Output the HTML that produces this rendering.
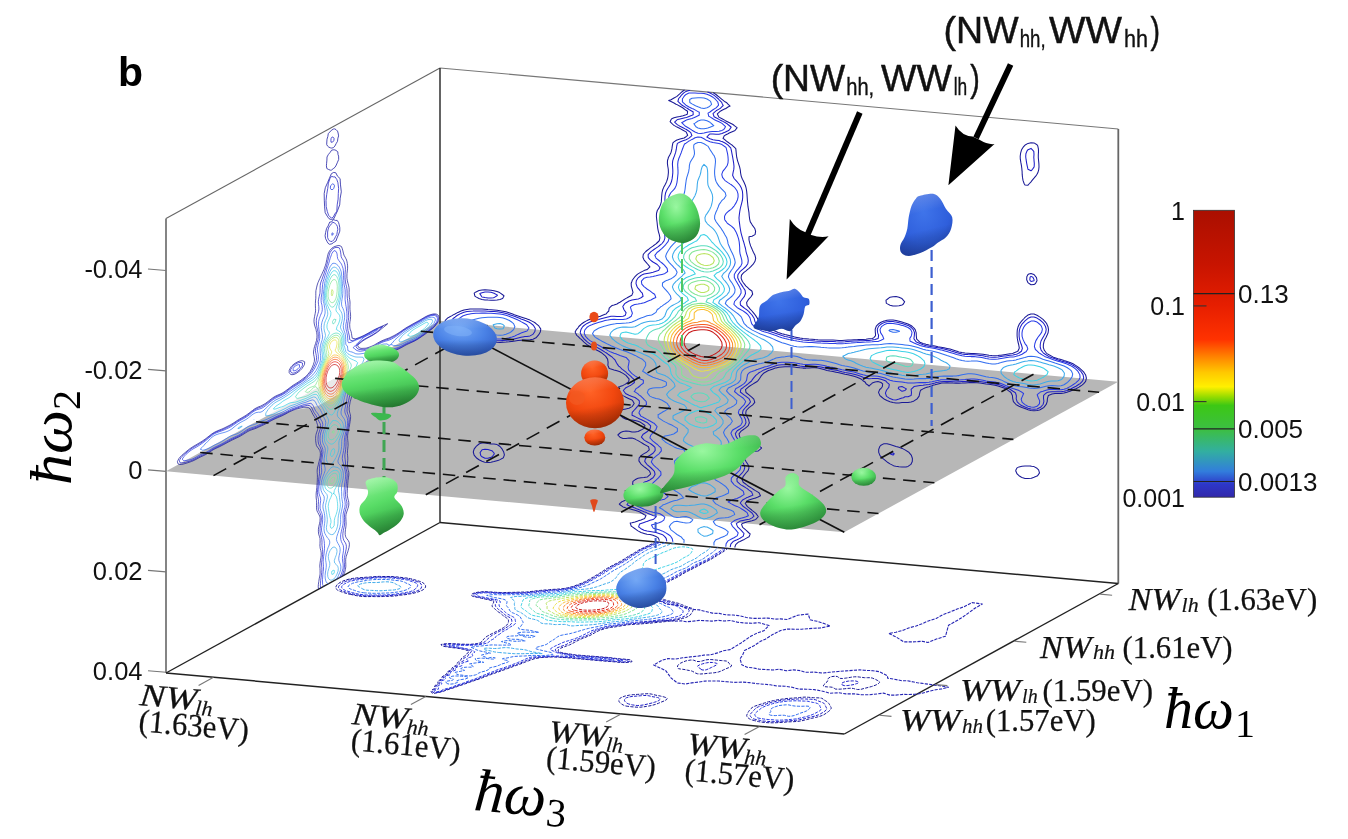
<!DOCTYPE html>
<html lang="en"><head><meta charset="utf-8"><title>Figure b</title>
<style>html,body{margin:0;padding:0;background:#fff}svg{display:block}.sans{font-family:"Liberation Sans",sans-serif}.ser{font-family:"Liberation Serif",serif}.it{font-style:italic}</style></head><body>
<svg width="1348" height="839" viewBox="0 0 1348 839">
<rect width="1348" height="839" fill="#fff"/>
<defs>
<radialGradient id="gR" cx="0.42" cy="0.28" r="0.8"><stop offset="0" stop-color="#ff6226"/><stop offset="0.5" stop-color="#f2480f"/><stop offset="0.78" stop-color="#d63b08"/><stop offset="1" stop-color="#b43005"/></radialGradient>
<radialGradient id="gG" cx="0.42" cy="0.28" r="0.8"><stop offset="0" stop-color="#98f79f"/><stop offset="0.45" stop-color="#5ade68"/><stop offset="1" stop-color="#31a442"/></radialGradient>
<radialGradient id="gB" cx="0.4" cy="0.3" r="0.8"><stop offset="0" stop-color="#74a8f5"/><stop offset="0.5" stop-color="#4a82e6"/><stop offset="1" stop-color="#2c58c4"/></radialGradient>
<radialGradient id="gB2" cx="0.45" cy="0.3" r="0.8"><stop offset="0" stop-color="#3f74ea"/><stop offset="0.6" stop-color="#2f5fdc"/><stop offset="1" stop-color="#2448b8"/></radialGradient>
<linearGradient id="gG2" x1="0.3" y1="0" x2="0.6" y2="1"><stop offset="0" stop-color="#8cf394"/><stop offset="0.45" stop-color="#58dc66"/><stop offset="0.8" stop-color="#3cb64c"/><stop offset="1" stop-color="#2e9a3d"/></linearGradient>
<linearGradient id="shade" x1="0.35" y1="0" x2="0.55" y2="1"><stop offset="0" stop-color="#fff" stop-opacity="0.22"/><stop offset="0.3" stop-color="#fff" stop-opacity="0"/><stop offset="0.58" stop-color="#000" stop-opacity="0"/><stop offset="0.72" stop-color="#000" stop-opacity="0.10"/><stop offset="1" stop-color="#000" stop-opacity="0.22"/></linearGradient>
<linearGradient id="cb" x1="0" y1="1" x2="0" y2="0">
<stop offset="0.000" stop-color="#3228aa"/>
<stop offset="0.045" stop-color="#2d37c8"/>
<stop offset="0.090" stop-color="#327ddc"/>
<stop offset="0.160" stop-color="#32afa0"/>
<stop offset="0.233" stop-color="#3cbe46"/>
<stop offset="0.320" stop-color="#3cc814"/>
<stop offset="0.350" stop-color="#96dc00"/>
<stop offset="0.385" stop-color="#fff000"/>
<stop offset="0.435" stop-color="#ffc800"/>
<stop offset="0.490" stop-color="#ff8200"/>
<stop offset="0.550" stop-color="#ff3200"/>
<stop offset="0.670" stop-color="#e61e00"/>
<stop offset="0.810" stop-color="#c81400"/>
<stop offset="1.000" stop-color="#aa0f00"/>
</linearGradient></defs>
<line x1="166" y1="218.5" x2="440" y2="68" stroke="#666" stroke-width="1.1"/>
<line x1="440" y1="68" x2="1118.3" y2="129" stroke="#777" stroke-width="1.1"/>
<line x1="166" y1="218.5" x2="166" y2="673" stroke="#666" stroke-width="1.6"/>
<line x1="1118.3" y1="129" x2="1118.3" y2="583.5" stroke="#666" stroke-width="1.8"/>
<line x1="166" y1="673" x2="440" y2="522.5" stroke="#222" stroke-width="1.4"/>
<line x1="440" y1="522.5" x2="1118.3" y2="583.5" stroke="#222" stroke-width="1.5"/>
<line x1="166" y1="673" x2="844.3" y2="734" stroke="#222" stroke-width="1.5"/>
<line x1="844.3" y1="734" x2="1118.3" y2="583.5" stroke="#222" stroke-width="1.4"/>

<path d="M166 471.3 L440 320.8 L1118.3 381.8 L844.3 532.3 Z" fill="#b7b7b7"/>
<path d="M268 415 L333 379.6 L341 375.5 L339 394 L318 406 L290 411 Z" fill="#fff" opacity="0.7"/>
<path d="M713.1 92.6 L716 94.5 L717.8 96 L719 96.9 L721.9 99.4 L722 99.4 L725 101.8 L726.8 102.8 L728 104.2 L730.1 106.1 L728 107 L725.5 108.7 L725 108.8 L722 110.3 L720.3 111.2 L719 112.3 L717.3 113.9 L718.9 117.1 L719 117.1 L722 118.7 L725 120.4 L725.4 120.7 L728 122 L731 123.5 L732.6 124.3 L734 125.3 L737 127.6 L737.1 127.7 L737 127.9 L735 130.5 L734 130.9 L731 132.2 L729.2 133 L728 133.7 L725 135.3 L724.4 135.6 L723 138.4 L725 139.8 L727.3 141.8 L728 142.3 L731 144.4 L732.3 145.3 L734 146.9 L735.8 148.6 L736.1 151.6 L736.4 154.7 L736.8 157.7 L737 158.4 L737.6 160.8 L738.6 163.9 L739.6 166.9 L740 168.7 L740.3 170 L740.6 173 L741.2 176.1 L742.4 179.2 L743 180.3 L744 182.3 L745.4 185.5 L746 187.6 L746.2 188.5 L746.7 191.6 L747 194.6 L747.2 197.6 L747.4 200.6 L747.7 203.7 L748 206.7 L748.5 209.7 L749 212.8 L749 213.1 L749.2 215.8 L749.6 218.8 L750.3 221.9 L752 224.5 L752.3 225.1 L754.6 228.3 L755 229.1 L755.6 231.4 L755.1 234.3 L755 234.6 L752 236.2 L749 236.7 L749 236.8 L749 239.8 L749 240 L749.7 242.9 L750.6 245.9 L752 249 L752 249.1 L753.4 252.2 L755 255.3 L755 255.4 L755.7 258.4 L755 261.3 L755 261.3 L753.2 264.2 L752 265.3 L750.6 266.9 L749 268.3 L747.4 269.6 L746 270.8 L744 272.3 L743 273.3 L741.5 275.1 L741.1 278.1 L742.3 281.2 L743 282.3 L744.6 284.4 L746 286.1 L747.8 287.7 L749 289 L751.9 291 L752 291.5 L752.7 294.1 L752 295.1 L750.8 297 L749 298.9 L748.3 299.7 L746.6 302.6 L747.1 305.6 L749 307.6 L749.9 308.9 L752 311 L752.9 312.1 L755 314.7 L755.5 315.4 L757.6 318.6 L758 319.8 L758.8 321.7 L760.4 324.8 L761 325.3 L764 327.3 L766 328.3 L767 328.6 L770 329.4 L773 330.3 L776 331.5 L778.1 332.4 L779 332.7 L782 333.7 L785 334.6 L788 335.3 L791 336.1 L794 336.8 L794.5 336.9 L797 337.4 L800 338 L803 338.5 L806 338.8 L809 339.1 L812 339.3 L815 339.6 L818 339.8 L821 339.9 L824 340 L827 340 L829.2 340 L830 340 L833 340.1 L836 340.3 L839 340.5 L842 340.5 L845 340.3 L848 340.1 L851 339.9 L854 339.7 L857 339.7 L858.4 339.6 L860 339.6 L863 339.4 L866 339.2 L869 338.8 L872 338.4 L873.5 338 L875 336.4 L875.6 335.2 L875.3 332.1 L875.2 329.1 L876.3 326.2 L878 324.4 L879 323.5 L881 322.3 L884 321.1 L884.5 321 L887 320.2 L890 319.9 L893 320 L896 320.5 L899 321.2 L902 322.1 L904 322.7 L905 323 L908 324 L911 325.5 L912.3 326.5 L914 328.2 L915.2 329.7 L916.2 332.8 L916.3 335.8 L916.6 338.9 L917 339.4 L919.8 342.1 L920 342.2 L923 343.4 L926 344.3 L929 345 L932 345.6 L935 346.1 L938 346.7 L939.2 346.9 L941 347.2 L944 347.7 L947 348.4 L950 349.1 L953 350 L956 351 L957.9 351.6 L959 351.9 L962 352.5 L965 353 L968 353.2 L971 353.4 L974 353.5 L977 353.7 L980 353.9 L983 354.3 L986 354.7 L989 355.2 L992 355.5 L995 355.7 L998 355.6 L999.8 355.3 L1001 355.2 L1004 354.7 L1007 354.2 L1010 353.8 L1012.4 353.5 L1013 353.3 L1016 352.1 L1018 351 L1019 348.8 L1019.3 348.1 L1019 346.3 L1018.8 345.1 L1018 342 L1017.4 338.9 L1017.1 335.9 L1017.1 332.9 L1017.3 329.9 L1018 327 L1019 324.7 L1019.3 324.1 L1021.4 321.3 L1022 320.6 L1024 318.5 L1025 317.4 L1026.9 315.8 L1028 315 L1031 313.9 L1034 314.1 L1037 315.3 L1039.6 316.9 L1040 317.1 L1043 319.4 L1043.9 320.3 L1046 322.7 L1046.6 323.5 L1048 326.7 L1048.5 329.7 L1048.1 332.7 L1046.9 335.6 L1046 337.4 L1045.4 338.4 L1044.1 341.3 L1043.4 344.3 L1043.3 347.3 L1044.3 350.3 L1046 352.5 L1047 353.6 L1049 354.8 L1052 356.4 L1053.4 357.2 L1055 357.7 L1058 358.7 L1061 359.6 L1064 360.6 L1066.4 361.3 L1067 361.5 L1070 362.5 L1073 363.8 L1075.2 365.1 L1076 365.6 L1079 367.7 L1080.1 368.6 L1082 370.3 L1083.6 371.9 L1085 374 L1085.7 375.1 L1086.4 378.1 L1085.7 381.1 L1085 382.1 L1083.5 383.9 L1082 385.1 L1079.9 386.5 L1079 387.1 L1076 388.7 L1075.1 389.1 L1073 390 L1070 391.2 L1068.9 391.6 L1067 392.2 L1064 393 L1061 393.4 L1058 393.5 L1056.7 393.5 L1055 393.5 L1052 394 L1049 395.2 L1048.3 395.7 L1047.4 398.6 L1047.2 401.6 L1046.2 404.5 L1046 404.7 L1043.9 407.3 L1043 408 L1040 409.7 L1039.4 409.9 L1037 410.5 L1034 410.7 L1031 410.4 L1028 409.7 L1025 408.6 L1024.9 408.6 L1022 407.5 L1019 406.2 L1016.3 404.8 L1016 404.5 L1013.4 401.6 L1013 399.9 L1012.7 398.5 L1012.4 395.5 L1010.8 392.3 L1010 391.8 L1007 389.6 L1005.9 388.9 L1004 388.1 L1001 386.9 L998 385.9 L995 385.3 L992 384.8 L990.4 384.5 L989 384.3 L986 383.9 L983 383.4 L980 383 L977 382.8 L974 382.6 L971 382.6 L969.4 382.6 L968 382.7 L965 382.9 L962 383.1 L959 383.2 L956 383.2 L953 383.1 L950 382.9 L947 382.8 L944 382.9 L941.6 383.1 L941 383.2 L938 384 L935 384.8 L932.9 385.3 L932 385.7 L929 386.8 L926 387.6 L925.4 387.7 L923 388.9 L920.6 390.2 L920 391.9 L919.7 393.1 L919.1 396.1 L917.1 398.9 L917 399 L914 400.9 L912.7 401.5 L911 402 L908 402.4 L905 402.5 L902 402.6 L899 402.9 L896 402.9 L893 402.5 L890 401.7 L887 400.5 L884 399 L883.8 398.9 L881 396.5 L879.9 395.6 L878.5 392.4 L879.7 389.5 L881 388.5 L882.3 386.8 L882.7 383.8 L881 382.5 L878 381.6 L875 382 L872.2 382.9 L872 383.3 L869.4 385.6 L869 386.1 L868.6 385.5 L866 383.8 L865.3 382.3 L863 380.7 L860.9 378.9 L860 378.5 L857 377.2 L854 376.2 L851 375.4 L848 374.7 L847.8 374.7 L845 374.2 L842 373.5 L839 372.8 L836 372.2 L833 371.6 L830 371.1 L827 370.5 L824 369.6 L823.8 369.5 L821 368.7 L818 368.1 L815 367.8 L812 367.8 L809 367.9 L807.1 368 L806 368.1 L803 368.1 L800 367.8 L797 367.4 L794 367 L791 366.8 L788 366.7 L785 366.7 L782 366.9 L779 367.3 L776 367.9 L775.2 368.1 L773 368.9 L770 370 L768.4 370.5 L767 371.3 L764 373 L763.7 373.1 L761.2 375.9 L761 376.2 L759.4 378.7 L758 380.6 L757.2 381.5 L755 382.8 L752.8 384.1 L752 384.6 L749 386.5 L748.6 386.8 L746 389.1 L745.5 389.5 L746 392.5 L746 392.5 L749 394.9 L750.2 395.9 L752 397.4 L753.8 399.2 L754.8 402.3 L752.5 405.1 L752 405.4 L749 407.6 L748.8 407.8 L746.2 410.5 L746 411.6 L745.7 413.5 L746 414.3 L747 416.6 L748.7 419.8 L749 421.4 L749.4 422.8 L749 423.7 L748.3 425.7 L746 427.6 L745 428.4 L743 429.8 L741.1 431.1 L740 432.5 L739 433.9 L739.8 437 L740 437.3 L742.3 440.2 L743 440.9 L746 442.8 L749 443.6 L752 443.9 L755 444.3 L755.2 444.3 L758 445.4 L761 447.4 L761.6 447.9 L761 448.6 L758.6 450.7 L758 450.9 L755 451.3 L752 451.2 L749 451 L746 451.7 L745.1 452.4 L743.2 455.3 L744.2 458.4 L746 461.5 L746 461.5 L748.1 464.7 L749 467.8 L748.1 470.7 L746 473 L745.6 473.5 L743.3 476.3 L743 477 L742 479.2 L743 481.8 L743.2 482.3 L746 484.3 L747.8 485.7 L749 486.5 L752 488.4 L753.2 489.2 L755 490.4 L758 492.1 L759 492.7 L760.5 495.8 L758 497 L755 498.2 L754.6 498.3 L752 499 L749 500 L747.5 500.7 L746 502.4 L745.2 503.5 L746 504.5 L747.4 506.6 L749 507.8 L751.7 510 L752 510.3 L755 512.7 L755.9 513.4 L758 516.3 L758.3 516.6 L758 517 L755.8 519.4 L755 519.8 L752 520.8 L749 521.4 L747.6 521.7 L746 522.2 L743 523.3 L741.5 524.1 L742.6 527.2 L743 527.6 L746 530.2 L746.5 530.6 L749 533 L750.2 533.9 L749.1 536.8 L749 536.8 L746 538.4 L744.3 539.4 L743 540 L740 541.4 L738.7 541.9 L737 543.4 L735.7 544.6 L734.7 547.5 M1025.6 144.7 L1028 143.4 L1031 142.7 L1034 142.9 L1037 144.7 L1037.7 145.7 L1038.4 148.8 L1038.5 151.8 L1038.3 154.8 L1038.3 157.8 L1038.6 160.8 L1038.9 163.9 L1039 166.9 L1038.7 169.8 L1037.8 172.8 L1037 174.3 L1036.1 175.6 L1034 178.2 L1033.8 178.4 L1031.5 181.2 L1031 181.9 L1029 184 L1028 185.2 L1025 185 L1024.1 183.5 L1023 180.4 L1022.5 177.4 L1022.2 174.4 L1022.1 171.3 L1022 170.6 L1021.8 168.3 L1021.4 165.3 L1020.8 162.2 L1020.3 159.2 L1020.2 156.2 L1020.6 153.2 L1021.4 150.3 L1022 149.1 L1023 147.4 L1025 145.1 Z M1028.9 274 L1031 273.4 L1033.9 274.4 L1034 274.5 L1036.5 277.6 L1037 280.5 L1037 280.7 L1037 280.8 L1035.5 283.5 L1034 284.6 L1031 284.8 L1028.2 282.9 L1028 282.7 L1026.7 279.8 L1026.8 276.8 L1028 274.5 Z M889.7 297.4 L890 297.3 L893 296.7 L896 296.6 L899 297.3 L901.9 298.5 L902 298.6 L904.7 301.8 L902.9 304.6 L902 305 L899 305.8 L896 306.1 L893 306 L890 305.2 L887 303.6 L886.3 303.1 L886 300.1 L887 299.5 Z M479 290.5 L479 290.5 L482 290.1 L485 289.8 L488 289.9 L491 290.2 L494 290.7 L497 291.6 L499 292.3 L500 292.9 L503 295 L504.1 295.8 L503 297.8 L502.5 298.6 L500 299.4 L497 300 L494 300.2 L491 300.2 L488 300.1 L485 299.9 L482 299.4 L479 298.5 L476 296.9 L474.9 296.1 L474.2 293.1 L476 291.9 Z M463.9 310.1 L464 310.1 L467 309.5 L470 309.1 L473 309 L476 308.9 L479 309 L482 309.1 L485 309.3 L488 309.6 L491 309.8 L494 310 L497 310.3 L500 310.7 L503 311.2 L506 311.8 L509 312.7 L512 313.8 L514.4 314.7 L515 314.9 L518 315.9 L521 316.9 L524 317.9 L526.7 318.8 L527 318.9 L530 320.1 L533 321.6 L534.7 322.5 L536 323.6 L538.8 325.9 L539 326.3 L540.8 329.1 L540.3 332 L539 334.2 L538.6 334.9 L536.2 337.7 L536 337.8 L533 339.3 L530 339.8 L527.4 339.9 L527 339.9 L524 339.9 L521 340.2 L518 340.6 L515 341 L512 341.4 L511.4 341.4 L509 341.7 L506 342 L503 342.2 L500 342.4 L497 342.3 L494 342.1 L491 341.9 L488 341.6 L485 341.2 L482 340.7 L479 339.9 L476 339.1 L473 338.1 L472.3 337.9 L470 337.2 L467 336.3 L464 335.4 L461 334.6 L458 333.8 L457 333.5 L455 332.9 L452 331.7 L449 329.9 L448.9 329.8 L446 326.5 L446 326.5 L444.8 323.4 L445.2 320.5 L446 319.6 L448.1 317.7 L449 317.3 L452 315.6 L452.7 315.1 L455 314 L457.5 312.6 L458 312.4 L461 311.1 Z M883.4 443.9 L884 443.7 L887 443.8 L890 444.5 L890 444.5 L893 445.4 L896 446.4 L899 447.3 L902 448.4 L902.6 448.6 L905 449.9 L908 451.7 L908.7 452.1 L911 454.8 L911.4 455.4 L912.4 458.5 L912.3 461.5 L911 464.2 L910.9 464.4 L908 466.4 L906 466.9 L905 467.1 L902 467 L899 466.7 L896 466.3 L894.4 465.9 L893 465.4 L890 463.9 L887.5 462.2 L887 461.9 L884 459.4 L883.3 458.9 L881 456.6 L880 455.6 L878.7 452.4 L878.7 449.4 L879.8 446.5 L881 445.2 Z M1030.5 466.1 L1031 466.1 L1031.5 466.2 L1034 466.6 L1037 468.3 L1038.6 469.8 L1039.5 472.9 L1037.6 475.7 L1037 476.1 L1034 477.3 L1031.5 478.2 L1031 478.3 L1028 478.6 L1025 478.4 L1022 477.5 L1021.5 477.3 L1019 475.7 L1017.1 473.9 L1016 471.6 L1015.7 470.8 L1016 469.8 L1017 467.9 L1019 466.9 L1022 466.3 L1025 466.1 L1028 466 Z M480 443.6 L482 443 L485 443.1 L488 443.6 L491 444 L494 444.1 L497 444.6 L498.2 445.2 L500 446.5 L501.8 448.6 L503 450.7 L503.6 451.7 L504.4 454.8 L503.4 457.7 L503 458 L500 459.6 L498.6 460.3 L497 460.7 L494 461.6 L491 462.3 L489.2 462.4 L488 462.5 L485 462.2 L484.1 462 L482 461.3 L479 459.8 L476.9 458.3 L476 457.3 L474.1 455.1 L473.3 452 L474.1 449.1 L476 446.6 L476.2 446.3 L479 444 Z M659.4 540.7 L659 539.6 L658 537.6 L656 536.5 L653 535.3 L650 534.6 L647 534.3 L644 533.6 L643.5 533.3 L641 532.5 L638 530.9 L636.2 529.6 L635 528.7 L632 526.6 L631.3 526.2 L630.2 523.1 L632 522.7 L635 521.9 L638 520.9 L638.3 520.8 L641 519.9 L644 518.7 L644.7 518.4 L646 515.5 L644 514.5 L641 512.7 L639.9 512 L638 511.3 L635 510.2 L632 509.4 L629 508.6 L626 507.9 L624.9 507.6 L623 506.9 L620 504.8 L619.3 504.1 L620 503.4 L622.3 501.4 L623 501.2 L626 500.1 L629 499.1 L629.2 499 L632 498 L635 497.3 L638 497.1 L641 497.1 L641.4 497.1 L644 497 L647 496.5 L650 495.6 L651.3 495 L650 493.7 L647.9 491.7 L647 491.3 L644 490.1 L641 489 L638.1 487.8 L638 487.8 L635 486 L632.6 484.3 L632.9 481.4 L635 479.8 L636.9 478.7 L638 478.3 L641 477.8 L644 477.5 L647 477 L647.7 476.7 L650 474.7 L650.6 473.9 L650 472.2 L649.4 470.8 L647 468.9 L645.2 467.5 L644 466.6 L641 464.1 L641 464 L638.9 460.9 L639.2 457.9 L641 455.8 L641.7 455.1 L644 453.6 L646.1 452.5 L647 451.8 L649.3 449.8 L648.6 446.8 L647 445.9 L644 444.2 L642.4 443.2 L641 442.4 L638 440.6 L636 439.6 L635 438.9 L632 438.1 L629 438.1 L626 438.5 L623.3 438.5 L623 438.5 L622.9 438.4 L620 437.2 L617.8 435 L620 433 L621.1 432.3 L623 431.6 L626 431.1 L629 431.3 L632 431.9 L635 432 L638 431.4 L639.1 430.9 L641 430.1 L644 428.4 L644.1 428.4 L645 425.4 L644 424.7 L641 422.6 L640 422 L638 421.3 L635 420.5 L632 420 L629 419.8 L626 419.2 L623 417.8 L622.5 417.4 L620 415 L619.1 414.1 L619.7 411.2 L620 411 L623 409.5 L626 408.9 L626.5 408.8 L629 408.2 L632 406.6 L632.4 406.3 L634.2 403.5 L632.4 400.3 L632 400.1 L629 398.7 L626 397.3 L624.9 396.6 L623 395.6 L620 393.8 L618.6 393.1 L617 391.4 L614.8 389.7 L617 388.3 L618.5 387.1 L620 386.6 L623 385.4 L624.6 384.6 L626 383.8 L628.6 382 L629 380 L629.1 379 L629 378.8 L626.4 375.8 L626 375.4 L623 373.4 L620.9 372.3 L620 371.8 L617 370.8 L614 370 L611 369.1 L609.1 368.2 L608 365.5 L607.9 365.1 L608 363.6 L608.1 362.1 L608 361.6 L607.6 359.1 L605.4 355.9 L605 355.6 L602 353.1 L601.1 352.5 L599 351.3 L596 349.7 L594.5 348.9 L593 348.2 L590 346.7 L587.9 345.3 L587 344.7 L584 342.1 L583.8 341.9 L581 339.2 L580.2 338.6 L578 336.3 L576.7 335.3 L575.1 332.1 L576.6 329.3 L578 327.8 L578.8 326.5 L581 324.5 L581.8 323.7 L584 322.2 L586 321.1 L587 320.6 L590 319.3 L592 318.7 L593 318.3 L596 317.3 L599 316.6 L599.9 316.4 L602 315.5 L605 314.3 L606.1 313.9 L608 311.7 L608.7 311.2 L609.2 308.2 L611 306.4 L612.1 305.5 L614 305 L617 304 L618.4 303 L620 302.3 L622.8 300.4 L623 300.3 L626 298.4 L627.2 297.8 L629 296.7 L631.8 295.2 L632 294.8 L633 292.4 L632.2 289.3 L632 288.6 L631.3 286.2 L631.2 283.2 L632 281.2 L632.3 280.3 L634.3 277.5 L635 276.7 L637 274.7 L638 273.9 L641 272.1 L641.1 272.1 L644 270.6 L647 269.6 L647.1 269.6 L649.9 266.9 L647.4 263.7 L647 263.3 L644.4 260.4 L644 259.7 L642.9 257.2 L643.3 254.3 L644 253.5 L645.8 251.5 L647 250.5 L649.2 248.8 L650 248.2 L652.9 246.1 L653 246 L656 243.8 L656.4 243.5 L659 241 L659.3 240.7 L659.9 237.8 L659.3 234.7 L659 233.6 L658.4 231.6 L657.8 228.6 L657.4 225.6 L657.1 222.5 L656.7 219.5 L656.4 216.5 L656.5 213.5 L657.3 210.5 L659 207.9 L659.1 207.7 L660.5 204.8 L661.3 201.9 L661.5 198.9 L661.7 195.9 L662 193 L662 192.9 L662.6 190 L663.8 187.1 L665 184.9 L665.4 184.3 L666.7 181.4 L667.6 178.5 L668 176.3 L668.1 175.5 L668.4 172.5 L668.3 169.5 L668 167.5 L667.8 166.5 L667.4 163.4 L667.5 160.5 L668 159 L668.4 157.5 L669.9 154.7 L671 152.4 L671.2 151.8 L671.9 148.9 L672.3 145.9 L672.9 142.9 L674 141.9 L676.4 140.3 L677 140 L680 139.1 L683 138.3 L684.1 138 L686 136.7 L687.7 135.3 L686.3 132.2 L686 131.9 L683 130.2 L680.2 128.6 L680 128.5 L677 127.1 L674 125.4 L673.4 125 L671 122.6 L670.1 121.7 L671 119.8 L671.7 118.8 L674 117.8 L677 117 L679.7 116.6 L680 116.5 L683 115.7 L686 114.7 L687.3 114.2 L687.6 111.3 L686 110.3 L683 108 L682.7 107.8 L680 106.3 L677 104.6 L676 104.2 L674 103 L671 101.6 L668.7 100.6 L671 99.7 L674 98 L674 98 L677 96.4 L678 95.4 L680 93.7 L681 92.7 L683 91 L684.5 90" fill="none" stroke="#191996" stroke-width="1.05" stroke-linejoin="round"/>
<path d="M707.5 92.1 L710 93 L713 94.6 L714.5 95.7 L716 96.8 L718.5 99 L719 99.6 L721.7 102.3 L722 103.2 L723.2 105.5 L722 106.6 L720.5 108.2 L719 109.1 L716.1 110.8 L716 110.9 L713 113.6 L714.1 116.7 L716 117.7 L719 119.4 L720.5 120.2 L722 120.9 L725 122.5 L727.2 123.8 L728 124.5 L731 127 L731.2 127.2 L731 127.4 L729.3 130 L728 130.7 L725 132.2 L724.2 132.6 L722 133.6 L719 134.2 L716 134.2 L713 134 L710 134.1 L709.5 134.2 L707 136.8 L706.8 137 L707 137.1 L710 138.7 L713 139.8 L716 140.2 L719 140.6 L720.8 141.3 L722 141.5 L725 143 L727.8 144.9 L728 145.1 L730.9 148.2 L731 148.9 L731.5 151.2 L732.1 154.3 L732.7 157.3 L733.2 160.4 L733.7 163.4 L734 166.4 L733.8 169.4 L733.1 172.4 L732.6 175.3 L734 178.2 L734.1 178.5 L737 181.6 L737.1 181.7 L739.7 185 L740 185.4 L741.4 188.1 L742.4 191.2 L742.7 194.2 L742.7 197.2 L742.4 200.2 L741.7 203.1 L740.9 206.1 L740.2 209 L740 210.2 L739.7 212 L739.3 214.9 L739 217.9 L739.2 220.9 L739.6 223.9 L740 227 L740 227 L740.5 230 L741.1 233.1 L741.9 236.1 L742.8 239.2 L743 240 L743.8 242.3 L744.6 245.4 L745.5 248.5 L746 251.5 L746 251.6 L746.9 254.6 L747.9 257.7 L748.3 260.7 L747.8 263.7 L746 266.4 L745.9 266.5 L743 269.1 L742.9 269.2 L740 271.7 L739.8 272 L737.9 274.8 L737.7 277.8 L739.1 280.9 L740 282.5 L741.1 284.1 L743 287.1 L743.1 287.3 L745.1 290.4 L745.5 293.5 L744.4 296.4 L743 298.2 L742.2 299.2 L740.2 302 L740.4 305 L743 307 L744.7 308.4 L746 309.2 L749 311.7 L749.1 311.8 L752 315 L752.1 315.1 L754.1 318.2 L754.9 321.3 L755 321.6 L756.2 324.4 L758 326.1 L759.9 327.8 L761 328.3 L764 329.5 L767 330.5 L770 331.5 L770.8 331.7 L773 332.4 L776 333.4 L779 334.5 L782 335.6 L782.8 335.8 L785 336.4 L788 337.1 L791 337.7 L794 338.4 L797 339 L800 339.6 L803 340 L806 340.3 L809 340.6 L812 340.7 L815 341 L818 341.2 L821 341.3 L824 341.4 L827 341.4 L830 341.4 L833 341.6 L836 341.8 L839 341.9 L842 341.9 L845 341.8 L847 341.6 L848 341.5 L851 341.2 L854 341 L857 340.9 L860 340.8 L863 340.7 L866 340.6 L868.3 340.5 L869 340.4 L872 340.1 L875 339.5 L878 338.5 L878.2 338.4 L878.6 335.4 L878 333.7 L877.6 332.4 L877.3 329.3 L878 327.6 L878.5 326.4 L881 324.2 L881.7 323.7 L884 322.6 L887 321.8 L890 321.5 L890.3 321.5 L893 321.6 L895 321.9 L896 322.1 L899 322.8 L902 323.5 L905 324.4 L908 325.4 L909.5 326.2 L911 327.2 L913.3 329.6 L914 331.4 L914.5 332.7 L914.3 335.7 L914 338 L913.9 338.6 L914 338.9 L916 341.8 L917 342.3 L920 343.6 L923 344.8 L926 345.7 L926.1 345.7 L929 346.3 L932 346.8 L935 347.3 L938 347.8 L941 348.3 L944 349 L947 349.7 L950 350.6 L951.1 351 L953 351.5 L956 352.4 L959 353.3 L962 353.9 L965 354.4 L968 354.6 L971 354.7 L974 354.8 L977 355 L980 355.4 L983 355.8 L986 356.4 L989 356.9 L992 357.2 L995 357.3 L998 357.1 L1001 356.6 L1004 356.1 L1005.9 355.9 L1007 355.7 L1010 355.3 L1013 354.9 L1016 354.3 L1017.3 353.9 L1019 353 L1021.4 351.3 L1022 349.5 L1022.4 348.4 L1022 347 L1021.6 345.3 L1020.4 342.2 L1019.5 339.1 L1019.1 336.1 L1019.1 333.1 L1019.4 330.1 L1020.3 327.2 L1021.9 324.3 L1022 324.2 L1024.4 321.6 L1025 320.9 L1027.4 318.8 L1028 318.3 L1031 316.9 L1034 316.9 L1037 318.1 L1040 320 L1040 320 L1043 322.6 L1043.6 323.3 L1045.5 326.5 L1046 328.5 L1046.2 329.5 L1046 330.7 L1045.7 332.5 L1044.2 335.3 L1043 337.4 L1042.5 338.2 L1041 341 L1040.3 344 L1040.2 347 L1041.1 350.1 L1043 352.5 L1043.7 353.3 L1046 354.8 L1049 356.6 L1049.4 356.8 L1052 357.8 L1055 358.8 L1058 359.9 L1060.8 360.8 L1061 360.9 L1064 361.7 L1067 362.6 L1070 363.7 L1072.3 364.9 L1073 365.2 L1076 367.1 L1077.6 368.3 L1079 369.6 L1081.1 371.7 L1082 373.1 L1083.1 374.8 L1083.7 377.9 L1082.7 380.8 L1082 381.7 L1080.1 383.6 L1079 384.3 L1076 386.2 L1076 386.2 L1073 387.8 L1071.1 388.8 L1070 389.2 L1067 390.4 L1064.4 391.2 L1064 391.3 L1061 391.8 L1058 391.8 L1055 391.7 L1052 391.7 L1049 392 L1046.9 392.6 L1046 393.2 L1043.6 395.3 L1043.5 398.3 L1043.9 401.3 L1043.2 404.2 L1043 404.5 L1040.9 407 L1040 407.6 L1037 408.9 L1034 409.3 L1031 409 L1028 408.2 L1025 407.1 L1022 405.7 L1021.1 405.3 L1019 403.6 L1017.2 401.9 L1016.2 398.8 L1016.4 395.8 L1016 394.5 L1015.4 392.7 L1013 391.3 L1010 389.3 L1009.9 389.3 L1007 387.9 L1004 386.5 L1001.6 385.5 L1001 385.3 L998 384.5 L995 383.9 L992 383.5 L989 383.1 L986 382.6 L983 382.1 L980 381.6 L977 381.3 L974 381.1 L971 381.1 L968 381.2 L965 381.4 L962 381.6 L959.9 381.8 L959 381.8 L956 381.9 L953 381.7 L950 381.5 L947 381.4 L944 381.4 L941 381.7 L938 382.3 L936.2 382.6 L935 383 L932 383.8 L929 384.4 L926.3 384.7 L926 384.8 L923 385.2 L920 385.4 L917 385.9 L914 386.6 L914 386.6 L911.1 389.4 L911.5 392.4 L911.2 395.4 L911 395.5 L908 396.7 L905 396.8 L903.4 397.7 L902 397.9 L899 399 L896 399.9 L893.2 399.8 L893 399.7 L893 399.7 L890 398.6 L887 396.6 L886.5 396.2 L885.4 393.1 L886.5 390.2 L887 389.5 L888.8 387.4 L889.3 384.4 L887 382.3 L885.9 381.1 L884 380.3 L881 379.2 L878 378.6 L875 378.4 L872 378.6 L869 378.7 L866 378.3 L863 377.3 L860 376 L859.2 375.7 L857 375 L854 374.2 L851 373.6 L848 373 L845 372.4 L842 371.7 L839 370.9 L838.6 370.8 L836 370.3 L833 369.7 L830 369.2 L827 368.6 L824 367.8 L821 367 L818 366.4 L815 366.2 L812 366.2 L809 366.4 L806 366.5 L803 366.4 L800 366.1 L797 365.6 L794 365.2 L791 364.9 L788 364.8 L785 364.7 L782 364.7 L779 365 L777.4 365.3 L776 365.7 L773 366.7 L770 367.7 L770 367.7 L767 368.8 L764 369.9 L763.5 370.1 L761 371.6 L759 372.7 L758 373.7 L755.8 375.4 L755 376.4 L753.5 378.2 L752 380.1 L751.6 381 L749 383 L748.4 383.7 L746 385.5 L744.7 386.4 L743 387.7 L740.9 389.1 L740.3 392 L743 394.1 L744.6 395.4 L746 396.3 L749 398.7 L749.1 398.8 L750.5 401.9 L749 404 L748.5 404.7 L746 407 L745.5 407.5 L743.1 410.3 L743 410.8 L742.5 413.2 L743 414.3 L743.9 416.3 L745.5 419.5 L746 422.5 L744.8 425.4 L743 426.9 L741.3 428.1 L740 429 L737.2 430.7 L737 431 L735.3 433.6 L736.2 436.6 L737 437.9 L738.3 439.8 L740 442.3 L740.8 443 L742.4 446.2 L741.4 449.1 L740 450.8 L739.2 451.9 L738.3 454.8 L739.9 458 L740 458 L742.1 461.2 L743 462.8 L743.9 464.3 L744.8 467.4 L744 470.3 L743 471.7 L741.9 473.1 L740 475.1 L739.1 475.9 L737 478.6 L736.9 478.7 L737 480.2 L737.2 481.7 L740 484.1 L741.3 485.1 L743 486 L746 487.9 L747.2 488.6 L749 490.1 L751.7 492 L752 492.9 L752.9 495.1 L752 495.5 L749 496.7 L747.2 497.6 L746 498.1 L743 499.8 L742.3 500.2 L740.2 503 L742.9 506.2 L743 506.3 L746 508.4 L747.7 509.7 L749 510.6 L752 513 L752.1 513.1 L754 516.2 L752 517.9 L750.1 518.9 L749 519.2 L746 519.8 L743 520.4 L740.2 521 L740 521.1 L737 523.1 L736.3 523.6 L737 525.4 L737.6 526.8 L740 529.1 L741 530.1 L743 532.3 L744 533.3 L743.2 536.3 L743 536.4 L740 538.2 L738.7 538.9 L737 539.7 L734 541 L733.3 541.4 L731 543.9 L730.8 544.2 L730.2 547.1 M1027.1 150.8 L1028 149.7 L1031 148.4 L1033.8 151.4 L1034 154.4 L1033.8 157.4 L1034 159.8 L1034 160.4 L1034.3 163.4 L1034.2 166.4 L1034 167.1 L1032.5 169.3 L1031 170.8 L1028 169.3 L1027.9 168.9 L1027.2 165.8 L1026.6 162.8 L1026.1 159.7 L1025.7 156.7 L1025.9 153.7 Z M1030.1 277.1 L1031 276.4 L1032.9 277.3 L1034 279.5 L1034.1 280.4 L1034 280.7 L1031 281.5 L1029.8 280 Z M479.8 293.6 L482 292.7 L485 292.1 L488 291.9 L491 292.3 L494 293.3 L497 294.9 L497.5 295.2 L497 295.7 L494 297.6 L493.5 297.8 L491 297.9 L488 297.9 L485 297.6 L482 296.9 L481.8 296.8 Z M473.8 311 L476 311 L479 310.9 L482 310.9 L485 311 L488 311.2 L491 311.4 L494 311.6 L497 311.8 L500 312.2 L503 312.7 L506 313.4 L508.1 314.1 L509 314.4 L512 315.4 L515 316.5 L518 317.7 L519 318.1 L521 318.9 L524 320 L527 321.2 L528.8 322 L530 322.7 L533 325 L533.5 325.4 L535.3 328.6 L534.9 331.5 L533 334.2 L532.9 334.4 L530 335.9 L527 336.4 L524.7 336.6 L524 336.7 L521 337.2 L518 338 L515.2 338.8 L515 338.8 L512 339.5 L509 340 L506 340.3 L503 340.6 L502.6 340.6 L500 340.8 L497 340.8 L494 340.6 L491 340.3 L488 339.9 L485 339.5 L482 338.9 L481.1 338.7 L479 338.2 L476 337.4 L473 336.5 L470 335.5 L467 334.5 L466.8 334.4 L464 333.4 L461 332.4 L458 331.4 L455.5 330.4 L455 330.1 L452 327.8 L451.2 327 L450.1 323.9 L450.9 321 L452 319.9 L453.5 318.2 L455 317.2 L457.1 315.5 L458 315 L461 313.4 L462.1 313 L464 312.3 L467 311.6 L470 311.2 L473 311.1 Z M899 386.9 L898.2 388.2 L899 389.1 L902 391.3 L905 390.5 L906.4 388.9 L905 388.1 L902 386.5 Z M889.7 453.4 L890 452.8 L893 453 L894.2 453.8 L893 455.1 L890 453.8 Z M482.1 449.8 L485 449.2 L488 449.6 L491 450.4 L491.9 450.7 L494 453 L494.3 453.9 L494 454.3 L492.2 456.7 L491 457.3 L488 458.3 L485 458.3 L482 456.8 L480.8 455.7 L480.1 452.6 L482 449.8 Z M666.8 541.4 L666.2 538.3 L665 536.8 L663.2 535.1 L662 534.5 L659 533.5 L656 532.6 L653 531.9 L650 531.4 L647 530.9 L645 530.4 L644 530.2 L641 528.7 L638.6 526.9 L639.6 523.9 L641 523.4 L644 522.4 L646.5 521.6 L647 521.4 L650 520.3 L653 519.4 L653.7 519.2 L656 516.8 L656.3 516.5 L656 516.3 L653 515.4 L650 514.3 L647 512.9 L646.5 512.6 L644 511.7 L641 510.5 L638 509.3 L636.4 508.7 L635 508 L632 506.9 L629 505.7 L626.9 504.8 L628.9 502 L629 501.9 L632 500.8 L635 499.9 L636.2 499.6 L638 499.4 L641 499.3 L644 499.2 L647 499.1 L650 498.9 L653 498.5 L654.7 498.3 L656 497.6 L659 495.8 L659.2 495.7 L659 495.6 L656 493.3 L655 492.3 L653 491.3 L650 489.5 L648.6 488.8 L647 487.7 L644 485.9 L642.7 485.2 L643.9 482.3 L644 482.3 L647 481.2 L649.8 479.9 L650 479.8 L653 477.7 L653.5 477.2 L655.1 474.3 L654.4 471.3 L653 469.8 L651.1 468 L650 467 L647.1 464.6 L647 464.5 L644.7 461.4 L645.5 458.5 L647 457.3 L649.2 455.8 L650 455.3 L653 453.3 L653.1 453.2 L655.2 450.4 L655 447.3 L653 445.5 L651 444 L650 443.4 L647 441.8 L644.5 440.4 L644 439.9 L641.4 437.1 L643.1 434.3 L644 433.7 L647 431.8 L647.2 431.6 L650 429 L650.1 428.9 L650.7 425.9 L650 425.2 L647.3 422.6 L647 422.5 L644 421 L641 419.6 L639.7 419 L638 418.1 L635 416.6 L632 415.3 L632.2 412.3 L634.8 409.5 L635 409.4 L637.3 406.7 L638 405.7 L639.4 403.9 L639.3 400.9 L638 399.6 L635 397.5 L635 397.5 L632 396.4 L629 395.3 L626 393.8 L625.8 393.7 L623.3 390.5 L625.9 387.7 L626 387.7 L629 386.1 L630.9 385.2 L632 384.4 L634.4 382.5 L634.1 379.5 L632 377.7 L630.6 376.1 L629 374.8 L626.6 372.8 L626 372.2 L623 369.8 L622.2 369.4 L620 367 L618.7 366.1 L617 363.6 L616.6 362.9 L614.9 359.7 L614 359 L611.4 356.4 L611 356.2 L608 354.2 L606.5 353 L605 352.1 L602 350.2 L600.8 349.5 L599 348.5 L596 346.9 L593.9 345.8 L593 345.4 L590 343.9 L587.8 342.3 L587 341.7 L584.1 339 L584 338.8 L581.5 335.7 L581 334.3 L580.2 332.6 L580.9 329.7 L581 329.5 L582.6 326.8 L584 325.5 L585.9 324.1 L587 323.5 L590 322.1 L591.5 321.6 L593 321.1 L596 320.1 L599 319.4 L599.3 319.3 L602 318.5 L605 317.7 L607.9 317.1 L608 317 L611 316.3 L614 316.2 L617 316.5 L620 316.6 L623 316.3 L625.1 315.6 L626 313.1 L626.1 312.7 L626 312.6 L623.9 309.5 L623 307 L622.8 306.4 L623 306.2 L624.7 303.6 L626 302.7 L629 301 L629 301 L632 300 L635 299.4 L638 299 L638.6 298.9 L641 297.7 L643.1 296.3 L642.3 293.2 L641 291.8 L639.5 289.9 L638 288.1 L637.1 286.7 L636 283.6 L636.3 280.7 L638 278 L638.1 277.8 L641 275.5 L641.7 275.1 L644 274.1 L647 273.4 L650 272.9 L650.1 272.9 L653 272.2 L656 271.3 L658.3 270.6 L659 269.8 L660.1 267.8 L659 266.5 L657.2 264.5 L656 263.8 L653 262 L651.6 261 L650 259.7 L648.3 257.7 L648.1 254.7 L650 252.7 L650.7 251.9 L653 250.2 L654.3 249.3 L656 248.1 L658.2 246.6 L659 246 L661.6 243.9 L662 243.5 L663.9 241.1 L664.9 238.2 L664.8 235.2 L664.1 232.2 L663.3 229.1 L662.6 226 L662.1 223 L662 222.6 L661.6 219.9 L661.6 216.9 L662 215 L662.2 214 L663.2 211.1 L664.2 208.2 L664.8 205.2 L665 202.2 L664.9 199.2 L665 197.2 L665 196.2 L665.5 193.3 L666.6 190.4 L668 188 L668.4 187.5 L670.1 184.7 L671 182.7 L671.4 181.8 L672.1 178.9 L672.5 175.9 L672.8 172.9 L672.8 169.9 L672.6 166.9 L672.4 163.9 L672.7 160.9 L673.6 158 L674 157.1 L674.7 155.1 L675.7 152.2 L676.3 149.2 L676.7 146.3 L677 144.9 L677.4 143.4 L680 142 L682.9 140.8 L683 140.8 L686 139.7 L688.7 138.4 L689 138.1 L691.9 135.7 L690.8 132.6 L689 131.3 L686 129.3 L685.6 129.1 L683 127.8 L680 126.3 L678.4 125.4 L677 124.3 L674.6 122.1 L677 119.9 L677.8 119.4 L680 118.9 L683 118.2 L686 117.5 L687 117.2 L689 116.4 L692 115.3 L693.2 114.8 L693.1 111.8 L692 111.2 L689 109.5 L687.2 108.2 L686 107.6 L683 105.8 L681.4 104.7 L680 103.3 L677.9 101.4 L678.7 98.5 L680 97.2 L681 95.7 L683 93.7 L683.8 92.9 L686 91.4 L689 90.5 L690.1 90.5" fill="none" stroke="#1e1ec8" stroke-width="1.05" stroke-linejoin="round"/>
<path d="M688.4 93.3 L689 93.1 L692 92.9 L695 93.1 L698 93.3 L701 93.3 L704 93.5 L707 94.2 L709.4 95.2 L710 95.5 L713 97.3 L714.8 98.7 L716 100 L717.8 102 L718.6 105.1 L716.1 107.8 L716 107.9 L713 109.8 L711.9 110.5 L710 112 L708 113.1 L708.7 116.2 L710 116.9 L713 118.8 L714.5 119.7 L716 120.4 L719 121.8 L722 123.4 L722 123.4 L725 126.2 L725.5 126.7 L725 127.6 L723.8 129.5 L722 130.4 L719 131.3 L716 131.5 L713 131.5 L712.3 131.5 L710 131.7 L707 132.3 L704 133.1 L701 133.5 L701 133.5 L701 133.5 L698 133.2 L695 132 L692 130.2 L691.2 129.6 L689 128.3 L686 126.5 L685.1 126 L683 123.9 L681.7 122.7 L683 122 L686 120.3 L686.3 120.1 L689 119.3 L692 118.4 L693.7 117.8 L695 117.2 L698 115.8 L699.2 115.3 L699.3 112.3 L698 111.6 L695 109.9 L692.9 108.7 L692 108.4 L689 107 L686 105.2 L685.9 105.1 L683 102.4 L682.4 101.8 L682.4 98.8 L683 98 L684.3 96 L686 94.4 Z M470.8 313.8 L473 313.5 L476 313.3 L479 313.2 L482 313.1 L485 313.1 L488 313.2 L491 313.3 L494 313.5 L497 313.7 L500 314 L503 314.5 L506 315.2 L509 316.2 L512 317.4 L512.2 317.5 L515 318.7 L518 320.1 L520.5 321.2 L521 321.6 L524 323.3 L526.7 324.8 L527 325.2 L529 328 L527.2 330.8 L527 331 L524 332 L521 333 L520.6 333.2 L518 334.4 L515.2 335.8 L515 335.9 L512 337 L509 337.8 L507.7 338.1 L506 338.4 L503 338.8 L500 339 L497 339 L494 338.7 L491 338.3 L488 337.9 L485 337.4 L482 336.8 L479 336.1 L476.1 335.2 L476 335.2 L473 334.3 L470 333.2 L467 332 L465.2 331.3 L464 330.6 L461 329.1 L458.7 327.7 L458 326.7 L456.6 324.5 L457 321.5 L458 320.2 L459 318.7 L461 317.2 L462.7 316 L464 315.5 L467 314.5 L470 313.9 Z M672.9 541.9 L672.3 538.9 L671 536.8 L670.2 535.7 L668 534.2 L665 532.4 L664.7 532.2 L662 530.9 L659 529.8 L656 528.9 L653.3 528.2 L653 527.8 L651.4 525 L653 524.5 L656 523.7 L659 522.8 L659.1 522.7 L662 521.4 L663.8 520.1 L664.8 517.2 L662 515 L659.9 513.8 L659 513.5 L656 512.8 L653 512.2 L650 511.4 L647 510.5 L644.2 509.4 L644 509.3 L641 507.8 L638 506.4 L636.5 505.7 L637.4 502.7 L638 502.6 L641 502.1 L644 501.8 L647 501.6 L650 501.4 L653 501.2 L653 501.1 L656 500.8 L659 500.4 L662 499.8 L664.6 499.2 L665 498.9 L668 496.6 L668.1 496.5 L668 496.4 L665 493.7 L664.3 493.2 L662 492.3 L659 491 L656 489.5 L655.9 489.4 L653 487.1 L651.7 486 L652.7 483.1 L653 482.9 L655.8 480.4 L656 480.2 L658.7 477.7 L659 477.2 L661 474.9 L660.8 471.9 L659 470.1 L657.6 468.6 L656 467.3 L653.6 465.2 L653 464.4 L651.3 462 L652.5 459.1 L653 458.7 L655.8 456.4 L656 456.2 L659 453.8 L659.1 453.7 L661.4 450.9 L661 447.9 L659 446.1 L657.4 444.5 L656 443.5 L653 441.2 L652.9 441.1 L650 438 L649.8 437.9 L650 437.5 L650.9 435 L653 432.9 L653.6 432.2 L656 429.5 L656 429.4 L657.1 426.5 L656 425.4 L654 423.2 L653 422.7 L650 421 L647.6 419.7 L647 419.4 L644 417.8 L641 416.1 L640.9 416.1 L638.9 412.9 L640.1 410 L641 409 L643 407.3 L644 406.3 L646.5 404.6 L646.2 401.5 L644 399.3 L643.1 398.3 L641 396.3 L638.9 394.9 L638 393.9 L635 391.9 L634.2 391.5 L635 390.6 L636.1 388.6 L638 387.5 L639.8 386 L641 384.9 L643.3 383.3 L643.4 380.3 L641 379.2 L638 377.7 L636.4 376.7 L635 375.9 L632 373.7 L631.5 373.2 L629 370.3 L628.6 370 L628.1 366.9 L628.7 364 L629 362.2 L629.2 361 L629 360.7 L626.5 357.8 L626 357.5 L623 356.4 L620 355.4 L617 354.3 L615.8 353.8 L614 353.3 L611 352.1 L608 350.6 L607.1 350 L605 348.9 L602 347.2 L600.8 346.5 L599 345.5 L596 343.9 L593.9 342.8 L593 342.4 L590 340.6 L588.4 339.3 L587 338 L585.4 336.1 L584.2 333 L584.8 330 L587 327.3 L587.1 327.2 L590 325.4 L591.8 324.7 L593 324.2 L596 323.2 L599 322.3 L599 322.3 L602 321.4 L605 320.6 L607.7 320.1 L608 320 L611 319.4 L614 319.3 L617 319.4 L620 319.5 L623 319.4 L626 319 L626.9 318.8 L629 317.7 L631.3 316.2 L632 314.2 L632.4 313.3 L632 312 L631.3 310.2 L630.4 307.1 L632 305.7 L634.7 304.5 L635 304.4 L638 304.1 L641 303.6 L644 302.8 L644.9 302.4 L647 301.5 L650 300.3 L650.9 300 L653 298.7 L655.8 297.4 L654.6 294.3 L653 293.3 L650 290.9 L649.9 290.9 L647 289 L645 287.4 L644 286.6 L641.8 284.2 L641.4 281.1 L643.9 278.3 L644 278.2 L647 277.3 L650 276.9 L653 276.4 L653.9 276.2 L656 275.8 L659 275.1 L662 274.4 L663.5 274.1 L665 273.4 L667.7 271.5 L667.1 268.4 L665 265.9 L664.4 265.2 L662 263 L660.5 261.8 L659 260.5 L656.3 258.4 L656 257.9 L654.8 255.3 L656 253.9 L657 252.5 L659 251 L660.3 249.8 L662 248.4 L663.3 247.1 L665 245.4 L665.9 244.3 L668 241.6 L668.1 241.5 L669.1 238.6 L669.5 235.6 L669.4 232.6 L668.8 229.6 L668.1 226.5 L668 225.8 L667.5 223.5 L667.1 220.4 L667.2 217.4 L667.6 214.5 L668 212.3 L668.1 211.5 L668.4 208.5 L668.4 205.5 L668.3 202.5 L668.4 199.5 L668.8 196.6 L670.2 193.7 L671 192.5 L672.6 190.9 L674 189.4 L675 188.1 L676.3 185.2 L677 182.3 L677 182.1 L677.4 179.3 L677.7 176.4 L678 173.4 L678 170.4 L677.8 167.4 L677.7 164.4 L678 161.4 L678.8 158.5 L680 155.7 L680 155.6 L681.2 152.7 L682.2 149.8 L683 147.7 L683.3 146.9 L684.5 144 L686 143.2 L688.5 141.3 L689 141.1 L692 139.4 L693.4 138.8 L695 137.7 L698 136.9 L701 137.2 L704 138.7 L705.7 139.9 L707 140.5 L710 141.7 L713 142.6 L716 143.1 L719 143.6 L721.3 144.3 L722 144.6 L725 146.7 L726.1 147.7 L726.9 150.8 L727.6 153.9 L728 156.8 L728 156.9 L728.2 159.9 L728 162.8 L728 162.9 L727.1 165.8 L725 168.6 L725 168.6 L722.8 171.4 L722 173.6 L721.8 174.3 L722 175.3 L722.5 177.4 L725 180.5 L725.1 180.6 L728 182.6 L730.3 184.1 L731 184.5 L734 186.8 L734.7 187.5 L737 190.7 L737 190.7 L738 193.8 L738.1 196.8 L737.5 199.7 L737 200.8 L736.2 202.6 L734.4 205.5 L734 206.1 L732.1 208.3 L731 209.3 L728.8 211 L728 211.7 L725.9 213.7 L725 215.3 L724.5 216.6 L724.7 219.6 L725 220.1 L727 222.8 L728 223.8 L731 225.9 L731.4 226.2 L734 228.5 L734.6 229.5 L736.3 232.6 L737 234.2 L737.6 235.8 L738.6 238.9 L739.2 241.9 L739.5 244.9 L739.7 248 L739.7 251 L740 253.4 L740.1 254 L741 257.1 L741.8 260.1 L742 263.2 L740.8 266.1 L740 266.8 L738.4 268.8 L737 270.3 L736 271.6 L734.3 274.5 L734.3 277.5 L735.8 280.6 L737 282.6 L737.7 283.8 L739.6 286.9 L740 288 L741 290.1 L741.1 293.1 L740 295.1 L739.6 295.9 L737.1 298.7 L737 298.8 L734.5 301.5 L734 304 L733.9 304.4 L734 304.5 L737 307.4 L737.4 307.7 L740 309.2 L743 310.9 L743.6 311.3 L746 313 L747.9 314.7 L749 316.3 L750 317.9 L750.8 320.9 L751.8 324 L752 324.2 L755 327.3 L755 327.3 L758 329 L761 330.6 L761.7 330.9 L764 331.7 L767 332.6 L770 333.4 L773 334.5 L774.5 335.1 L776 335.6 L779 336.7 L782 337.7 L785 338.5 L788 339.2 L788.9 339.4 L791 339.8 L794 340.5 L797 341.1 L800 341.6 L803 342 L806 342.2 L809 342.4 L812 342.5 L815 342.7 L818 342.9 L821 343.1 L824 343.2 L827 343.3 L830 343.4 L833 343.5 L836 343.6 L836.7 343.7 L839 343.8 L842 343.7 L845 343.5 L848 343.2 L851 343 L854 342.7 L857 342.6 L857.5 342.5 L860 342.4 L863 342.2 L866 342.1 L869 341.9 L872 341.8 L875 341.6 L878 341.4 L878 341.4 L881 340.3 L883.8 338.9 L882.6 335.8 L881 333.4 L880.6 332.6 L880 329.6 L881 327.4 L881.4 326.7 L884 324.8 L885.7 324.1 L887 323.6 L890 323.3 L893 323.4 L896 323.9 L899 324.6 L902 325.4 L902.9 325.6 L905 326.3 L908 327.5 L910.5 329.3 L911 330.1 L912 332.4 L911.5 335.4 L911 336.6 L909.8 338.3 L910.1 341.3 L911 341.6 L914 342.9 L917 344.2 L919.1 345.1 L920 345.4 L923 346.3 L926 347 L929 347.6 L932 348.1 L935 348.6 L938 349.2 L941 349.9 L941.8 350.1 L944 350.7 L947 351.5 L950 352.4 L953 353.3 L956 354.3 L956.6 354.5 L959 355.1 L962 355.8 L965 356.3 L968 356.5 L971 356.6 L974 356.6 L977 356.9 L980 357.3 L983 357.8 L986 358.4 L989 358.9 L992 359.3 L995 359.3 L998 359 L1001 358.5 L1001.2 358.5 L1004 357.9 L1007 357.4 L1010 357.1 L1013 356.9 L1014.5 356.7 L1016 356.3 L1019 355.4 L1022 354.3 L1022 354.3 L1025 352.3 L1026.1 351.7 L1027.8 348.9 L1026.8 345.8 L1025 343.6 L1024.5 342.6 L1023 339.4 L1022.1 336.4 L1022 334.1 L1022 333.3 L1022 333.1 L1022.4 330.4 L1023.6 327.5 L1025 325.4 L1025.7 324.7 L1028 322.7 L1029.3 322 L1031 321.1 L1034 320.9 L1037 322.1 L1038 322.8 L1040 324.5 L1041.4 326.1 L1042.4 329.2 L1041.7 332.1 L1040 334.7 L1039.8 334.9 L1037.6 337.7 L1037 338.9 L1035.9 340.6 L1034.9 343.5 L1034.4 346.5 L1035.4 349.5 L1037 350.8 L1038.9 352.9 L1040 353.5 L1043 355.4 L1044.6 356.4 L1046 356.9 L1049 358.1 L1052 359.3 L1054.8 360.3 L1055 360.3 L1058 361.2 L1061 362.1 L1064 363 L1067 364.1 L1068 364.5 L1070 365.4 L1073 367 L1074.5 368.1 L1076 369.4 L1078 371.4 L1079 373.2 L1079.8 374.5 L1080.1 377.6 L1079 379.7 L1078.5 380.4 L1076 382.6 L1075.4 383.1 L1073 384.7 L1071.5 385.8 L1070 386.6 L1067 388.2 L1066.6 388.4 L1064 389.3 L1061 389.8 L1058 389.8 L1055 389.6 L1052 389.4 L1049 389.5 L1048 389.7 L1046 390.2 L1043 391.2 L1040.3 392 L1040 392.3 L1037.2 394.7 L1038.3 397.8 L1039.7 400.9 L1039.4 403.9 L1037 406.3 L1036.4 406.6 L1034 407.2 L1031 407.1 L1028 406.3 L1026.9 405.8 L1025 404.6 L1022.2 402.4 L1022 401.8 L1021.2 399.3 L1022 397.1 L1022.4 396.4 L1023.6 393.5 L1022 392.3 L1019 390.6 L1017.7 390 L1016 389.5 L1013 388.6 L1010 387.5 L1007 386 L1006.9 386 L1004 384.8 L1001 383.6 L998 382.7 L995 382.1 L992 381.7 L989.3 381.4 L989 381.4 L986 380.9 L983 380.3 L980 379.8 L977 379.3 L974 379.1 L971 379 L968 379.2 L966.5 379.3 L965 379.5 L962 379.8 L959 380.1 L956 380.2 L953 380 L950 379.8 L947 379.7 L944 379.7 L941 379.8 L940.1 380 L938 380.4 L935 381.1 L932 381.7 L929.7 382 L929 382.2 L926 382.6 L923 382.6 L920 382.6 L917 382.7 L914 382.9 L911 383.1 L908 383 L905 382.6 L902 382.1 L899 381.7 L896 381.4 L893 381.1 L890 380.3 L887 379 L885 378 L884 377.7 L881 376.9 L878 376.3 L875 376 L872 375.9 L869 375.8 L866 375.5 L863 374.8 L860 373.9 L857 373 L854.7 372.3 L854 372.1 L851 371.4 L848 370.9 L845 370.3 L842 369.7 L839 368.9 L836 368.2 L833 367.5 L831.9 367.2 L830 366.9 L827 366.3 L824 365.5 L821 364.9 L818 364.4 L815 364.3 L812 364.3 L809 364.4 L806 364.4 L803 364.2 L800 363.8 L797 363.2 L794 362.7 L791 362.4 L788 362.3 L785 362.2 L782 362.2 L779 362.4 L778.9 362.5 L776 363.2 L773 364.2 L771.4 364.8 L770 365.4 L767 366.4 L764 367.1 L764 367.2 L761 368.2 L758 369.3 L757.1 369.5 L755 370.5 L752 371.5 L750.6 371.9 L749 373 L747.6 374.7 L747 377.6 L746.5 380.6 L746 381.2 L744.4 383.4 L743 384.4 L740.5 386 L740 386.3 L737 388.1 L735.8 388.6 L734.5 391.5 L737 393.7 L738.3 394.8 L740 395.9 L743 398 L743.4 398.3 L745.7 401.5 L744.4 404.4 L743 405.8 L741.7 407.1 L740 409.1 L739.1 409.9 L738.3 412.8 L740 415.9 L740 416 L741.8 419.1 L742.3 422.2 L740.8 425.1 L740 425.7 L737 427.5 L736.7 427.7 L734 429.3 L732.4 430.3 L731 432.9 L730.9 433.2 L731 433.4 L732.2 436.3 L734 439.1 L734.2 439.5 L736.2 442.6 L736.9 445.7 L735.7 448.6 L734 450.6 L733.4 451.4 L732 454.3 L734 457.3 L734.1 457.4 L737 460.1 L737.6 460.8 L739.8 464 L740 464.6 L740.7 467 L740 469.8 L739.9 470 L737.3 472.7 L737 473 L734 475.3 L733.8 475.4 L731.3 478.2 L731.2 481.2 L733.8 484.4 L734 484.6 L737 486.8 L738.7 487.9 L740 488.8 L743 491 L743.3 491.3 L744.1 494.3 L743 495.1 L740.2 497 L740 497.1 L737 498.4 L734 499.3 L733.4 499.4 L731 500.6 L728 501.9 L728 501.9 L728 501.9 L731 503.6 L734 505.2 L734.4 505.5 L737 506.4 L740 507.9 L742.1 509.2 L743 509.8 L746 511.8 L747.1 512.6 L748.4 515.7 L746 516.8 L743 517.7 L741.6 518.1 L740 518.5 L737 519.5 L734.4 520.5 L734 520.8 L731 523.1 L731 523.2 L731 523.2 L732.4 526.3 L734 527.9 L735.6 529.6 L737 531.4 L738.2 532.8 L737.3 535.7 L737 535.9 L734 537.7 L732.9 538.3 L731 539.3 L728 540.9 L728 540.9 L726.1 543.7 L725.8 546.7" fill="none" stroke="#283ce6" stroke-width="1.05" stroke-linejoin="round"/>
<path d="M689.7 99.5 L692 98.3 L695 97.9 L698 97.8 L701 97.7 L704 97.9 L707 99 L710 100.9 L710.5 101.3 L711.6 104.4 L710 106 L708.5 107.1 L707 107.8 L704 108.4 L701 107.9 L698 106.8 L696.1 106 L695 105.5 L692 103.9 L689.8 102.5 Z M697.7 121.2 L698 121 L701 120.1 L704 119.9 L707 120.7 L710 122.2 L710.1 122.3 L713 125 L713.8 125.6 L713 126 L710 127.2 L707.8 128.1 L707 128.2 L704 128.8 L701 128.7 L698 127.9 L696.3 127.1 L695 125.4 L693.9 123.8 L695 123.1 Z M889 330.4 L890 329.7 L893 329.5 L896 330.2 L899 331.1 L899.5 331.3 L899 331.6 L896 332.2 L893 332.3 L890 331.3 Z M482 317.8 L482 317.8 L485 317.5 L488 317.3 L491 317.2 L494 317.2 L497 317.3 L500 317.6 L503 318.1 L506 319 L508.8 320.2 L509 320.3 L512 322.3 L513.6 323.6 L514.9 326.7 L513.6 329.6 L512 331 L510.5 332.3 L509 333.1 L506 334.3 L504.1 334.8 L503 335 L500 335.3 L497 335.1 L494 334.7 L491 334.1 L488 333.4 L487.7 333.3 L485 332.5 L482 331.6 L479 330.7 L476 329.7 L474.5 329.1 L473 328.2 L470 326 L469.7 325.7 L469.1 322.6 L470 321.7 L472.4 319.9 L473 319.7 L476 318.9 L479 318.3 Z M683.9 542.9 L684.1 540 L683 539.2 L680.9 536.7 L680 536.3 L677 534.5 L675.3 533.2 L674 532.2 L671 529.9 L670.9 529.8 L669.3 526.6 L671 524 L671.2 523.8 L674 521.7 L677 521.3 L680 521.9 L683 522.6 L686 523 L689 522.8 L690.2 522.5 L692 520.9 L692.8 519.7 L692 519.1 L689 517.4 L686 516.6 L683 516.7 L680 517.3 L677 517.6 L674 517.1 L671 515.3 L670.3 514.7 L668 513.3 L665 511.3 L664.9 511.2 L662 509 L659.4 507.7 L662 505.9 L662.7 505 L665 504.2 L668 503 L669.1 502.6 L671 501.8 L674 500.8 L676.8 500.3 L677 500.2 L680 499.1 L683 498.1 L683.7 497.9 L683 497.3 L681 494.7 L680 494 L677 491.9 L675.8 491.2 L674 490 L671 488.3 L669.5 487.6 L671 485.1 L671.3 484.8 L674 484.4 L677 483.9 L680 483.3 L682 482.8 L683 482.5 L686 481.5 L689 480.6 L689.5 480.4 L692 479.1 L694.5 477.9 L694.3 474.9 L692 473.5 L689 471.7 L688.5 471.3 L686 470.1 L683 468.6 L680.9 467.7 L680 467.1 L677 465.4 L675 464.1 L674.5 461.1 L677 458.7 L677.4 458.3 L680 456.7 L682 455.8 L683 455.1 L685.6 453.1 L684 449.9 L683 449.6 L680 449 L677 448.2 L674 446.9 L672.2 445.9 L671 445.3 L668 443.6 L665.6 442.3 L665 441.7 L662 439.1 L661.9 439 L662 438.8 L664.4 436.2 L665 436 L668 435.4 L671 434.8 L673.6 434 L674 433.8 L677 431.8 L677.4 431.4 L677.4 428.3 L677 428.1 L674 426.4 L671.3 424.8 L671 424.7 L668 423.4 L665 421.9 L663.5 421.1 L662 420.1 L659 418.1 L658.2 417.6 L658.1 414.6 L659 414.2 L662 412.5 L662.6 412 L665 410.7 L667.2 409.4 L668 408.5 L669.5 406.6 L668 404.6 L667.2 403.4 L665 402 L662 400.2 L661.4 399.9 L659 399.1 L656 398.4 L653 397.6 L650 396.1 L649.7 395.9 L647.3 392.6 L648.4 389.7 L650 388.8 L653 387.9 L656 387.7 L659 387.7 L659.3 387.7 L662 387.4 L665 386.2 L666.4 385.4 L666.4 382.4 L665 381.4 L662 380.2 L659 379.3 L656.8 378.5 L656 378.3 L653 377.2 L650 375.7 L647.9 374.7 L647 374 L644 372 L642.6 371.2 L644 368.7 L644.1 368.4 L645.7 365.5 L645.6 362.5 L644 360.8 L642.3 359.2 L641 358.6 L638 357 L635.6 355.6 L635 355.4 L632 354.1 L629 352.8 L626.8 351.8 L626 351.5 L623 350.5 L620 349.5 L617 348.3 L615.7 347.8 L614 347.1 L611 345.8 L608 344.3 L607.5 344.1 L605 342.8 L602 341.2 L600.6 340.4 L599 339.5 L596 337.7 L594.9 336.9 L593 334.4 L592.5 333.7 L593 332.8 L594.1 330.9 L596 329.7 L598.5 328.3 L599 328.1 L602 327 L605 326.1 L605.5 325.9 L608 325.2 L611 324.4 L614 323.9 L615.3 323.8 L617 323.6 L620 323.4 L623 323.2 L626 323.1 L629 322.8 L631.6 322.2 L632 322.1 L635 320.7 L637.1 319.7 L638 319.2 L641 317.9 L643.3 317.3 L644 316.9 L647 315.8 L650 315.2 L651.7 315 L653 314.3 L656 312.4 L656 312.4 L657.3 309.5 L659 308.5 L660.7 306.8 L662 306.1 L664.6 304.2 L665 304 L668 301.9 L668.5 301.5 L671 298.9 L671.1 298.8 L671 298.3 L670.4 295.7 L668.1 292.5 L668 292.4 L665.1 289.2 L665 289.1 L662.4 286 L662.5 283 L665 281.3 L666.6 280.4 L668 279.9 L671 278.7 L672.4 277.9 L674 276.8 L675.8 275.2 L677 272.6 L677.1 272.3 L677 272 L675.6 269.2 L674 267.6 L672.5 265.9 L671 264.4 L669.3 262.6 L668 260.9 L666.7 259.4 L665.6 256.3 L666.6 253.4 L668 251.1 L668.3 250.5 L670.2 247.7 L671 246.7 L672.6 244.9 L674 243.4 L675.4 242.2 L677 240.1 L677.6 239.4 L678.8 236.5 L679.5 233.5 L679.9 230.6 L680 230.1 L680.2 227.6 L680.2 224.6 L680 223.6 L679.6 221.5 L678.6 218.5 L677.9 215.4 L677.4 212.4 L677.1 209.3 L677 206.4 L677 206.3 L677 206.3 L677.4 203.3 L679.2 200.5 L680 199.7 L681.8 197.7 L683 196.2 L683.7 194.9 L684.6 192 L685.1 189 L685.4 186.1 L685.8 183.1 L686 181.7 L686.2 180.1 L686.9 177.2 L687.8 174.3 L688.7 171.4 L689 169.3 L689.2 168.4 L689.4 165.4 L690.1 162.5 L691.8 159.6 L692 159.3 L693.6 156.8 L694.5 153.9 L694.3 150.9 L693.7 147.8 L693.8 144.8 L695 143.8 L698 142.4 L701 142.5 L704 143.7 L707 145.6 L707.9 146.1 L709.8 149.3 L710 149.6 L711.9 152.5 L713 154.3 L714.1 155.6 L715.3 158.8 L715.5 161.8 L715.2 164.8 L714.9 167.7 L714.6 170.7 L714.6 173.7 L714.9 176.7 L715.5 179.8 L716 181.2 L716.8 182.9 L718.9 186.1 L719 186.2 L722 189.3 L722.1 189.4 L725 192.4 L725.2 192.6 L726 195.7 L725 197.3 L724.2 198.6 L722 200.4 L721.4 201.3 L719.4 204.1 L719 204.8 L718.2 207 L717 209.9 L716 212 L715.7 212.8 L714.7 215.7 L714.6 218.7 L716 221.6 L716.1 221.8 L718.6 225.1 L719 225.6 L721 228.3 L722 229.9 L723.1 231.5 L724.8 234.6 L725 235 L726.7 237.8 L727.6 240.9 L728 243.3 L728.1 243.9 L729.4 247 L730.7 250.1 L731 250.7 L732.3 253.3 L733.7 256.4 L734 257.6 L734.7 259.5 L735.2 262.5 L734.4 265.5 L734 266.1 L732.9 268.3 L731 270.8 L730.8 271.1 L729 274 L728.4 276.9 L729.9 280.1 L731 281.6 L732.2 283.3 L734 286.4 L734 286.5 L735.1 289.5 L734.7 292.5 L734 293.6 L732.8 295.3 L731 297 L729.7 298.1 L728 299.5 L726.4 300.8 L725.3 303.7 L728 306.4 L728.6 306.9 L731 308.6 L733.3 310.4 L734 310.9 L737 313.1 L738 313.8 L740 315.7 L741.4 317.1 L742.7 320.2 L743 321 L744 323.3 L746 325.4 L747.1 326.6 L749 327.9 L752 329.9 L752.3 330.1 L755 331.4 L758 332.9 L759.9 333.8 L761 334.2 L764 335.3 L767 336.4 L770 337.5 L770.5 337.7 L773 338.9 L776 340.3 L778.8 341.5 L779 341.6 L782 342.7 L785 343.6 L788 344.5 L791 345.4 L792.3 345.7 L794 346.3 L797 346.8 L800 347 L803 346.9 L804.4 346.8 L806 346.7 L809 346.6 L812 346.6 L815 346.7 L818 346.9 L821 347.3 L824 347.6 L827 347.8 L830 347.9 L833 347.9 L836 348 L839 348 L842 347.8 L845 347.5 L845.2 347.4 L848 347.1 L851 346.7 L854 346.4 L857 346 L859.7 345.7 L860 345.7 L863 345.4 L866 345.1 L869 344.9 L872 344.8 L875 344.7 L878 344.7 L879.9 344.6 L881 344.4 L884 344 L887 343.7 L890 343.6 L893 343.7 L896 343.9 L899 344.2 L902 344.5 L905 344.9 L908 345.3 L911 345.8 L914 346.4 L917 347.3 L919.4 348.1 L920 348.3 L923 349.2 L926 350 L929 350.6 L932 351.1 L935 351.7 L938 352.4 L939.6 352.9 L941 353.4 L944 354.5 L947 355.6 L950 356.6 L951.3 357 L953 357.6 L956 358.7 L959 359.7 L962 360.6 L965 361.1 L968 361.2 L971 361.1 L974 360.9 L977 361.1 L980 361.5 L983 362.2 L986 362.9 L987.7 363.3 L989 363.6 L992 364 L995 364 L995.1 363.9 L998 363.4 L1001 362.6 L1004 361.7 L1004 361.7 L1007 361.1 L1010 360.7 L1013 360.4 L1016 359.9 L1016.3 359.8 L1019 359.1 L1022 358.2 L1024.7 357.6 L1025 357.5 L1028 356.6 L1031 356.3 L1034 356.4 L1037 357.1 L1040 358.1 L1042.8 359.2 L1043 359.3 L1046 360.2 L1049 361.1 L1052 362 L1055 363 L1056.5 363.4 L1058 363.9 L1061 364.9 L1064 366.1 L1066.9 367.4 L1067 367.5 L1070 369.7 L1071.3 370.8 L1072.7 373.9 L1072.1 376.8 L1070.1 379.7 L1070 379.8 L1067.5 382.4 L1067 382.8 L1064 384.8 L1063.4 385.1 L1061 385.8 L1058 386 L1055 385.8 L1052 385.6 L1049 385.7 L1046 386.2 L1044.9 386.4 L1043 386.9 L1040 387.7 L1037 388.2 L1034 388.4 L1032.9 388.3 L1031 388.3 L1029.1 388 L1028 387.8 L1025 387.3 L1022 386.8 L1019 386.4 L1016 385.9 L1013 385.2 L1010 384.1 L1007.6 383 L1007 382.8 L1004 381.4 L1001 379.9 L999.2 379.3 L998 378.7 L995 377.9 L992 377.6 L989 377.3 L986 376.8 L983 376 L980 375.2 L977 374.5 L974.3 374 L974 374 L971 373.8 L971 373.8 L968 373.8 L965 374.2 L962 374.8 L959 375.6 L958.7 375.6 L956 376 L953 376.1 L950 376.1 L947 376.1 L944 376.1 L941 376.3 L938 376.6 L937.5 376.7 L935 377.2 L932 377.9 L929 378.4 L926 378.6 L924.6 378.6 L923 378.6 L920 378.6 L917 378.7 L914 379 L911 379.2 L908 379.2 L905 378.9 L902 378.4 L899 377.9 L896 377.5 L893 376.9 L890 376.2 L887 375.2 L886.9 375.2 L884 374.4 L881 373.6 L878 373 L875 372.6 L872 372.2 L869 371.9 L866 371.5 L863 370.9 L860 370.1 L858.6 369.6 L857 369.1 L854 368.1 L851 367.3 L848 366.6 L845 366.1 L842 365.5 L840.3 365 L839 364.6 L836 363.6 L833 362.7 L830 361.9 L827 361.3 L824 360.7 L821 360.3 L818 360.2 L815 360.1 L812 360.1 L809 359.9 L806 359.5 L803 358.8 L802.3 358.6 L800 357.6 L797 356.5 L794 355.9 L791 355.9 L788 356.3 L785 356.8 L783.8 356.9 L782 357 L779 357.4 L776 358.1 L773.8 359 L773 359.3 L770 360.8 L768.2 361.5 L767 362 L764 362.8 L761 363.4 L759.3 363.7 L758 364.1 L755 364.9 L752 365.7 L751.1 366 L749 366.7 L746 368 L745.1 368.4 L743 370.2 L742 371.2 L740.9 374.1 L740.8 377.1 L740.6 380 L740 380.7 L738.3 382.8 L737 383.6 L734 385.2 L733.5 385.4 L731 386.8 L728.3 387.9 L728 388.4 L726.5 390.8 L728 392.6 L729.2 394 L731 395.4 L733.6 397.4 L734 397.8 L736.8 400.7 L736.4 403.7 L734 405.6 L732.9 406.3 L731 407.4 L728 408.6 L727.5 408.9 L725 411.2 L724.7 411.6 L725 412.2 L726.8 414.8 L728 415.9 L730.7 418.1 L731 418.8 L732.4 421.3 L731 423.3 L730.6 424.1 L728 426.2 L727.5 426.9 L725 429.4 L724.8 429.6 L723.5 432.5 L724.8 435.6 L725 435.9 L727.1 438.8 L728 440.5 L728.8 442 L729.1 445 L728 446.7 L727.3 447.8 L725 450.1 L724.5 450.6 L722 453.2 L721.8 453.3 L721.2 456.3 L722 458.1 L722.7 459.4 L725 461.9 L726.1 462.7 L728 464.5 L729.5 466 L728 468.9 L728 468.9 L725 469.7 L722 470 L719 470.5 L718 471 L716 472.1 L714.5 473.7 L713.3 476.6 L715.3 479.8 L716 480.2 L719 481.9 L721.1 483.3 L722 483.8 L725 486 L725.8 486.7 L728 489.4 L728.5 489.9 L728.6 493 L728 493.3 L725 494.8 L723.4 495.5 L722 496 L719 496.9 L716.2 497.8 L716 498 L713 500.4 L712.9 500.5 L713 500.7 L715.7 503.8 L716 503.9 L719 505.6 L722 507.1 L722.7 507.4 L725 508.3 L728 509.2 L731 510.3 L733.4 511.4 L734 512.6 L734.7 514.5 L734 514.9 L731 516.4 L729.4 517 L728 517.4 L725 517.8 L722 517.9 L719 518.3 L716.8 518.9 L716 519.4 L713.3 521.6 L715.4 524.8 L716 525.1 L719 526.6 L722 527.8 L723.6 528.5 L725 529.2 L728 531.7 L728.2 531.9 L728 532.5 L727.1 534.8 L725 535.9 L722 537.2 L721.7 537.3 L719 538.5 L716 539.7 L715.7 539.8 L713.9 542.6 L714 545.6" fill="none" stroke="#326ef0" stroke-width="1.05" stroke-linejoin="round"/>
<path d="M702.2 166.6 L704 164.4 L706.7 167 L707 167.5 L707.5 170.1 L707.7 173.1 L707.7 176.1 L707.7 179.1 L707.7 182.1 L708 185.1 L709.3 188.2 L710 189.2 L711.1 191.4 L712.3 194.5 L712.7 197.5 L712.5 200.5 L711.9 203.5 L711.1 206.4 L710 208.8 L709.8 209.3 L708 212.1 L707 213.6 L706 214.9 L704.9 217.8 L705.3 220.9 L707 223.2 L707.7 224.1 L710 226.1 L711.6 227.4 L713 228.7 L714.8 230.7 L716 232.5 L716.8 233.9 L718.1 237 L719 239.9 L719.1 240.1 L720.2 243.2 L722 246.3 L722.1 246.4 L724.5 249.6 L725 250.2 L726.9 252.8 L728 254.6 L728.8 256 L730.2 259.1 L730.6 262.1 L730.2 265.1 L728.7 268 L728 268.8 L726.4 270.8 L725 272.2 L723.4 273.5 L722 275.9 L721.7 276.3 L722 276.8 L723.6 279.5 L725 280.9 L726.5 282.8 L728 285 L728.6 286 L729.7 289 L729.1 292 L728 293.4 L727 294.8 L725 296.4 L723.6 297.5 L722 298.7 L719.7 300.2 L719 302 L718.6 303.1 L719 303.3 L722 305.9 L722.6 306.4 L725 307.9 L727.4 309.8 L728 310.4 L731 313.1 L731 313.2 L733.8 316.4 L734 316.9 L735.6 319.6 L737 322 L737.4 322.7 L740 325.4 L740.6 326 L743 327.9 L745 329.4 L746 330.1 L749 332 L750.5 332.9 L752 333.8 L755 335.4 L757.3 336.5 L758 336.9 L761 338.4 L764 339.8 L764.8 340.2 L767 341.6 L769.8 343.7 L770 343.9 L772.6 346.9 L773 349.1 L773.2 350 L773 350.2 L771.5 352.8 L770 354 L768.4 355.5 L767 356.3 L764 357.6 L762.5 358 L761 358.3 L758 358.9 L755 359.6 L753.5 360.2 L752 360.8 L749 362.1 L748 362.7 L746 363.7 L743.3 365.3 L743 365.5 L740 367.7 L739.8 368 L737.3 370.7 L737 371.5 L736.3 373.6 L736.1 376.6 L735.5 379.6 L734 381.1 L732.6 382.3 L731 383.2 L728 384.5 L727.1 384.8 L725 385.9 L722 387.1 L721.3 387.3 L719 390.1 L721.8 393.3 L722 393.5 L725 396 L725.8 396.7 L728 399.7 L728.2 399.9 L728 400.6 L727.3 402.8 L725 404.4 L723 405.4 L722 405.9 L719 407.2 L716.9 407.9 L716 409 L714.7 410.7 L716 412 L717.6 414 L719 415.2 L721.1 417.3 L722 418.7 L723.1 420.5 L723 423.5 L722 424.8 L720.9 426.3 L719 428 L717.4 428.9 L716 430.2 L713.2 431.6 L713.7 434.6 L716 436.2 L718.1 438 L719 438.8 L721 441.3 L721.4 444.3 L719 446.7 L718.5 447 L716 448.1 L713 448.9 L710.7 449.3 L710 449.5 L707 450.3 L704 450.7 L701 450.1 L698 448.7 L697.1 448.1 L695 447.3 L692 446.1 L689 444.7 L688.1 444.3 L686 443 L683.4 440.9 L684 437.9 L686 435.2 L686.1 435.1 L688.1 432.3 L688.2 429.3 L686 427.5 L684.5 426 L683 425 L680 423.1 L678.8 422.5 L677 421.3 L674 419.5 L673.1 419 L673 416 L674 415.3 L677 413.7 L677.6 413.4 L680 412.4 L683 411.1 L683.5 410.9 L686 408.8 L686.8 408.2 L686 407 L684.4 405 L683 404.4 L680 403.3 L677 402.3 L674 401.1 L674 401 L671 399.4 L668.5 397.5 L668 396.7 L666.6 394.4 L668 392.7 L668.7 391.6 L671 389.9 L672.4 388.9 L674 387.3 L675.1 386.1 L674.1 383.1 L674 383 L671.1 379.8 L671 379.7 L668 377.3 L666.3 376.4 L665 375.5 L662 374.5 L659 373.6 L656.8 372.5 L656 369.9 L655.9 369.4 L656 368.5 L656.3 366.4 L656 365.2 L655.7 363.4 L653.6 360.2 L653 359.7 L650 357.4 L649.1 356.8 L647 355.8 L644 354.5 L641 353.1 L641 353.1 L638 351.9 L635 350.7 L632 349.6 L631.1 349.2 L629 348.4 L626 347.3 L623 345.9 L621.8 345.4 L620 344.4 L617 342.5 L616 341.8 L614 340.1 L612 338.5 L611 336.8 L609.8 335.3 L611 332.4 L611 332.4 L614 329.7 L614.1 329.7 L617 328.3 L620 327.4 L621.1 327.3 L623 327.1 L626 327.1 L629 327.2 L632 327.3 L635 326.8 L637.1 325.7 L638 325.3 L641 323.6 L642 323.2 L644 322.4 L647 321.7 L650 321.3 L653 321.2 L653.1 321.2 L656 320.9 L659 320.3 L662 319.1 L662.2 319 L664.7 316.2 L665 315.5 L665.8 313.3 L666.9 310.4 L668 309.1 L669.3 307.6 L671 306.3 L673.3 305 L674 304.6 L677 303.1 L678.4 302.4 L680 301 L681.3 299.7 L680 297 L679.7 296.6 L677 294.1 L676.1 293.2 L674 290.5 L673.6 290 L672.4 286.9 L673.5 284 L674 283.6 L676.2 281.2 L677 280.6 L679.2 278.5 L680 277.8 L682.3 275.8 L683 274.9 L685.1 273 L683.6 269.9 L683 269.5 L680 267.1 L679.5 266.5 L677 264.3 L675.9 263.2 L674 260.7 L673.5 260 L672.4 256.9 L673 253.9 L674 251.9 L674.4 251.1 L676.7 248.3 L677 248 L680 245.7 L680.1 245.6 L683 243.5 L683.8 242.9 L686 240.6 L686.4 240.2 L687.7 237.3 L688.4 234.3 L689 232.2 L689.2 231.4 L690.1 228.5 L690.8 225.6 L691 222.6 L690 219.5 L689 217.7 L688.3 216.3 L687.2 213.2 L687.1 210.2 L688 207.3 L689 205.4 L689.5 204.4 L691.4 201.6 L692 200.7 L693.2 198.8 L694.8 195.9 L695 195.5 L696 193 L696.8 190.1 L697.1 187.1 L697.3 184.1 L697.7 181.2 L698 180.3 L698.8 178.3 L700 175.4 L700.8 172.5 L701 170.9 L701.3 169.5 Z M881.5 347.7 L884 347.4 L887 347 L890 346.9 L893 347 L896 347.2 L899 347.6 L902 347.9 L905 348.2 L908 348.6 L911 349.1 L914 349.7 L917 350.7 L917.7 351 L920 351.8 L923 353 L926 353.9 L929 354.7 L930.5 355.1 L932 355.6 L935 356.9 L938 358.4 L938.9 358.9 L941 360.3 L944 361.7 L945.9 362.5 L947 363.2 L950 365.8 L950 365.9 L950 366 L949.3 368.8 L947 369.9 L944 370.6 L941 371 L940.8 371 L938 371.2 L935 371.6 L932 372.4 L929.9 373.1 L929 373.3 L926 373.9 L923 374.3 L920 374.6 L917.2 374.9 L917 374.9 L914 375.4 L911 375.8 L908 375.9 L905 375.7 L902 375.2 L899 374.6 L896 374 L893 373.4 L890 372.7 L888.7 372.4 L887 371.9 L884 371.1 L881 370.3 L878 369.5 L875 368.9 L872 368.3 L869 367.8 L867.1 367.4 L866 367.2 L863 366.3 L860 365.1 L857 363.7 L856.4 363.5 L854 362 L851 360.7 L848 359.9 L846.7 359.6 L845 358.6 L842.8 356.2 L845 355.2 L847.8 353.7 L848 353.6 L851 353 L854 352.3 L856.8 351.5 L857 351.4 L860 350.8 L863 350 L865.7 349.3 L866 349.2 L869 348.8 L872 348.5 L875 348.2 L878 348 L881 347.8 Z M1027.7 360.9 L1028 360.8 L1031 360.5 L1034 360.7 L1037 361.3 L1039.3 361.9 L1040 362.1 L1043 362.9 L1046 363.8 L1049 364.7 L1052 365.5 L1054.5 366.3 L1055 366.5 L1058 367.7 L1061 369.3 L1062.1 369.9 L1064 372.5 L1064.4 373.2 L1064.1 376.1 L1064 376.4 L1062.1 378.9 L1061 379.8 L1058 380.8 L1055 381 L1052 381 L1051.7 381 L1049 381.3 L1046 382 L1043 382.9 L1042.3 383.2 L1040 383.9 L1037 384.6 L1034 384.9 L1031 384.8 L1028 384.4 L1025 383.8 L1022 383.3 L1019 382.8 L1016 382.3 L1013 381.5 L1010 380.3 L1009.8 380.2 L1007 378.6 L1004.3 376.7 L1004 376.4 L1001.3 373.5 L1001 370.9 L1000.9 370.4 L1001 370.4 L1003.3 367.7 L1004 367.3 L1007 366 L1009.9 365.3 L1010 365.2 L1013 364.7 L1016 364 L1019 363.1 L1019.1 363.1 L1022 362.1 L1025 361.3 Z M493.2 324.8 L494 324.5 L497 323.7 L500 323.6 L503 324.6 L504.4 325.8 L503.1 328.7 L503 328.7 L500 329.1 L497 328.7 L494.9 327.9 L494 326.4 Z M697.6 457.2 L698 457 L701 456.3 L704 457.5 L704.2 457.8 L706.5 461 L707 463 L707.2 464 L707 464.7 L706.2 466.9 L704 468.6 L701 468.8 L698 468.2 L695 467.2 L692 465.7 L692 465.6 L690.9 462.6 L692 461.1 L693.1 459.8 L695 458.4 Z M697.8 484.2 L698 484.1 L701 483.1 L704 482.8 L707 483.4 L710 484.8 L711 485.4 L713 486.9 L715.1 488.7 L715.2 491.7 L713 493 L710.7 494.3 L710 494.6 L707 495.7 L704 496 L701 495.5 L698 494.4 L695 493.2 L694.1 492.8 L692 491.7 L689 489.7 L688.6 489.4 L689 489 L691.7 486.6 L692 486.5 L695 485.4 Z M695.1 504.9 L698 504.4 L701 504.1 L704 504 L707 504.7 L710 506 L710.7 506.3 L713 507.6 L716 509.8 L716.1 509.8 L717.4 512.9 L716 513.7 L713.4 515.6 L713 515.8 L710 517.3 L707.5 518.1 L707 518.3 L704 518.9 L701 518 L700.1 517.4 L698 516.5 L695 514.8 L692.9 513.7 L692 513.2 L689 512 L686 511.4 L683 511.4 L680 511.7 L677 511.7 L674 511 L671 508.9 L670.8 508.8 L671 508.5 L673.5 506 L674 505.8 L677 505.3 L680 505.2 L683 505.4 L686 505.7 L689 505.6 L692 505.3 L695 505 Z M703.6 526.7 L704 526.6 L705.8 526.9 L707 527.1 L710 528.5 L713 530.5 L713 530.6 L713 530.9 L712.7 533.5 L710 534.8 L707 536 L706.6 536 L704 536.2 L702.9 535.6 L701 534.6 L698.1 532.2 L698 530.6 L697.9 529.2 L698 529.1 L701 527.4 Z" fill="none" stroke="#3caaeb" stroke-width="1.05" stroke-linejoin="round"/>
<path d="M700.8 235.4 L701 235.2 L704 234.5 L706.8 236 L707 236.1 L709.7 239.3 L710 239.5 L712.2 242.5 L713 243 L715.6 245.8 L716 246.1 L719 249 L719.1 249.1 L722 252.1 L722.2 252.4 L724.6 255.6 L725 256.3 L726.3 258.7 L727 261.8 L726.5 264.8 L725 267.2 L724.7 267.6 L722 270 L721.6 270.3 L719 272 L716.7 272.9 L716 273.7 L714.1 275.6 L716 277.8 L716.9 278.9 L719 280.6 L720.7 282.2 L722 283.8 L723.3 285.5 L724.5 288.6 L724 291.5 L722 294 L721.8 294.3 L719 296.5 L718.2 297 L716 298.5 L713.9 299.6 L713 302.3 L712.9 302.5 L713 302.6 L716 304.5 L717.8 306 L719 306.6 L722 308.6 L723.1 309.5 L725 311 L726.9 312.8 L728 314.5 L729.2 316 L730.6 319.1 L731 319.8 L732.7 322.3 L734 323.6 L735.9 325.6 L737 326.6 L739.6 328.9 L740 329.2 L743 331.6 L744 332.3 L746 333.9 L748.5 335.7 L749 336.2 L752 338.4 L753.2 339.2 L755 340.7 L757.6 342.6 L758 343.1 L760.6 345.8 L761 348.2 L761.1 348.9 L761 349 L758.4 351.6 L758 351.8 L755 353.2 L753.3 354.2 L752 354.8 L749 356.8 L749 356.8 L746 359 L745.6 359.5 L743 361.5 L742.3 362.2 L740 364.1 L739.1 364.9 L737 366.7 L736 367.6 L734 369.7 L733.3 370.4 L731.7 373.2 L731.2 376.2 L731 376.8 L730.2 379.1 L728 380.7 L726.4 381.8 L725 382.4 L722 383.5 L720 384.2 L719 384.6 L716 385.8 L713.6 386.6 L713 387.2 L710.3 389.3 L713 392.4 L713.2 392.6 L716 394.5 L718 396 L719 397.3 L720.4 399.2 L719 401.5 L718.6 402.1 L716 403.1 L713 404.1 L711.9 404.4 L710 405.1 L707 406.1 L704 406.7 L703.9 406.7 L701 407.7 L698 406.8 L697.3 406.1 L695 405.4 L692 404.1 L689.2 402.4 L689 402.3 L686 400.7 L683 399.2 L682 398.8 L680 397.2 L677.6 395.4 L680 392.7 L680.1 392.6 L683 391.5 L686 390.6 L687 390.2 L689 389 L691.6 387.6 L689 386.2 L686 384.9 L683.9 383.9 L683 383.7 L680 382.7 L677 380.8 L676.5 380.3 L674 377.9 L673.1 377 L671.1 373.8 L671 372.8 L670.5 370.7 L669.9 367.7 L668 364.8 L667.7 364.5 L665 362.8 L662.8 361 L662 360.5 L659 357.8 L658.9 357.7 L656 355.5 L654 354.2 L653 353.7 L650 352.5 L647 351.1 L645.7 350.5 L644 349.6 L641 347.9 L638.9 346.9 L638 346.3 L635 345 L632 344.2 L629 343.3 L628 342.9 L626 342 L623 340.2 L622 339.4 L620 336.3 L619.9 336.2 L620 335.9 L621.1 333.3 L623 332.4 L626 332.1 L629 332.7 L632 333.6 L635 334.2 L638 333.7 L640.2 332 L641 331.3 L642.9 329.3 L644 328.4 L647 326.6 L647 326.6 L650 325.6 L653 325.1 L656 324.8 L657.5 324.6 L659 324.3 L662 323.2 L664 322.1 L665 321.5 L667.5 319.5 L668 318.9 L669.8 316.7 L671 314.3 L671.3 313.8 L672.8 310.9 L674 309.8 L675.8 308.2 L677 307.5 L680 305.8 L680.3 305.6 L683 303.9 L684.7 303 L686 301.9 L688.4 300.3 L687.1 297.2 L686 296.4 L683 293.9 L682.9 293.8 L680 290.9 L679.6 290.6 L678.4 287.4 L679.1 284.5 L680 283.3 L681.1 281.7 L683 279.9 L684.3 279 L686 277.8 L689 276.6 L689.5 276.4 L692 275.2 L695 274.1 L695.3 274 L695 273.5 L693.1 270.8 L692 270.2 L689 268.6 L686.8 267.2 L686 266.7 L683 264.6 L682.1 263.8 L680 261.4 L679.3 260.5 L678.1 257.4 L678.5 254.4 L680 251.8 L680.1 251.6 L683 248.9 L683 248.9 L686 246.7 L686.9 246.2 L689 244.8 L691.6 243.6 L692 243.3 L695 241.6 L696.5 241.1 L698 239.3 L699 238.3 Z M884.8 351 L887 350.6 L890 350.3 L893 350.4 L896 350.6 L899 351 L902 351.4 L905 351.8 L908 352.3 L911 352.9 L912.8 353.5 L914 354 L917 355.4 L920 357.2 L920 357.2 L923 359.8 L923.9 360.5 L925 363.6 L923.9 366.5 L923 367.3 L920.3 369.2 L920 369.3 L917 370.5 L914 371.5 L913.6 371.6 L911 372.1 L908 372.4 L905 372.1 L902 371.5 L899 370.8 L896 370.1 L895.6 370 L893 369.4 L890 368.8 L887 368.1 L884 367.1 L881 366 L879.7 365.5 L878 364.7 L875 363.3 L872.3 361.9 L872 361.5 L870.1 358.7 L871.4 355.8 L872 355.4 L875 353.9 L876.4 353.2 L878 352.8 L881 352 L884 351.2 Z M1023.3 366.5 L1025 365.8 L1028 365.1 L1031 364.9 L1034 365.2 L1037 365.9 L1040 366.8 L1043 368 L1043.8 368.3 L1046 370 L1048.1 371.7 L1047 374.6 L1046 375.2 L1043.3 377.3 L1043 377.4 L1040 378.9 L1038.2 379.8 L1037 380.2 L1034 380.8 L1031 380.9 L1028 380.4 L1025 379.7 L1022 378.8 L1019.8 378.1 L1019 377.8 L1016 376.1 L1013.8 374.6 L1014.8 371.7 L1016 371.1 L1018.7 369 L1019 368.9 L1022 367.2 Z M694.1 411.8 L695 411.3 L698 410.4 L701 410.3 L704 411 L707 412.8 L707.4 413 L710 414.4 L713 416.4 L713.3 416.6 L716 419.5 L716.3 419.8 L716.3 422.8 L716 423.1 L713 425.4 L712.7 425.5 L710 426.6 L707 427.4 L704.4 427.8 L704 427.9 L701 427.7 L699.8 427.4 L698 427 L695 426.2 L692 425.1 L689 423.5 L688.8 423.4 L686 420.9 L685 420 L685.1 417 L686 416.3 L688.4 414.3 L689 414 L692 412.5 Z M699.5 511.3 L701 509.9 L704 509 L707 510.5 L708.3 512.1 L707 512.9 L704 513.6 L701 512.5 Z" fill="none" stroke="#3cd2e6" stroke-width="1.05" stroke-linejoin="round"/>
<path d="M695.1 246.9 L698 246.2 L701 245.8 L704 245.7 L707 246.1 L710 247 L712.7 248.5 L713 248.7 L716 250.6 L717.5 252 L719 253.4 L720.6 255.2 L722 257.6 L722.5 258.4 L723.3 261.5 L722.7 264.4 L722 265.4 L720.5 267.2 L719 268.3 L716 269.8 L715.9 269.8 L713 271 L710 271.7 L707 271.9 L704 271.7 L701 271 L698 269.8 L695 268.2 L694.5 267.9 L692 266.6 L689 264.7 L688.6 264.4 L686 262 L685.1 261 L683.6 257.9 L683.9 254.9 L685.6 252.1 L686 251.7 L688.9 249.4 L689 249.3 L692 247.8 L695 247 Z M700.1 277.4 L701 277.1 L704 276.6 L707 277.2 L708.8 278.2 L710 278.6 L713 280.2 L714.9 281.7 L716 282.7 L718.1 285 L719 287.1 L719.5 288.1 L719.1 291.1 L719 291.2 L717 293.9 L716 294.6 L713 296.5 L712.9 296.5 L710 298.1 L707.3 299 L707 299.9 L706 301.9 L707 302.2 L710 303.4 L713 305.4 L713.3 305.6 L716 306.8 L719 308.8 L719.4 309.1 L722 311.2 L723.4 312.5 L725 314.9 L725.6 315.7 L726.9 318.8 L728 320.9 L728.7 322 L731 324.2 L732 325.3 L734 327 L735.8 328.6 L737 329.7 L739.5 331.9 L740 332.4 L743 335.2 L743 335.2 L746 338.3 L746.2 338.5 L748.7 341.8 L749 342.7 L750 344.9 L749.8 347.9 L749 349.1 L748.2 350.7 L746 353.2 L745.8 353.5 L743.4 356.3 L743 356.7 L741.2 359.1 L740 360.2 L738.7 361.9 L737 363.4 L735.7 364.6 L734 366.1 L732.5 367.3 L731 368.7 L729.1 370 L728 371.3 L726.3 372.7 L725 375.3 L724.8 375.6 L723 378.4 L722 379 L719 380.7 L718.5 381 L716 382.1 L713 383.3 L712.3 383.5 L710 384.4 L707 385 L704 385.3 L701 385 L698 384.5 L695 383.7 L692 382.9 L689 382.1 L686 381.2 L685.5 381.1 L683 380.4 L680 378.9 L678.1 377.4 L677 375.8 L676 374.2 L675.9 371.2 L676.1 368.2 L674.6 365.1 L674 364.6 L671 361.9 L670.9 361.8 L668 360 L665.9 358.3 L665 357.6 L662.4 355 L662 354.5 L659.4 351.7 L659 351.2 L656 349.1 L653.6 348.2 L653 348 L650 346.5 L647.5 344.7 L647 343.7 L646 341.5 L646.3 338.6 L647 337.1 L647.6 335.7 L649.5 332.8 L650 332.4 L653 330.4 L653.3 330.2 L656 329.3 L659 328.4 L660.3 327.8 L662 327.1 L665 325.3 L665.1 325.2 L668 323 L668.5 322.6 L671 320.5 L671.8 319.8 L674 317.7 L674.7 317.1 L676.6 314.3 L677 313.7 L678.3 311.4 L680 309.8 L681 308.7 L683 307.2 L684.7 306 L686 305.1 L689 303.7 L689.7 303.5 L692 302.1 L695 301.3 L696.6 301.1 L695 298 L695 297.9 L692 296.5 L689.1 294.4 L689 294.3 L686 292 L684.9 291 L683.2 287.9 L683.6 284.9 L685.7 282.1 L686 281.9 L689 280 L690.3 279.5 L692 278.9 L695 278.1 L698 277.6 Z M886.7 357.2 L887 357 L890 355.9 L893 355.7 L896 356.1 L899 356.7 L902 357.3 L905 357.7 L908 358.4 L910.2 359.3 L911 359.9 L913.2 362.6 L912 365.5 L911 366 L908 366.7 L905 366.3 L902 365.2 L899.1 364.3 L899 364.2 L896 363.5 L893 363.2 L890 362.5 L887 360.9 L886.1 360.1 Z M693.8 393.8 L695 393.4 L698 392.9 L701 393 L704 393.6 L706.8 395 L707 395.2 L709.4 398.2 L707 400.2 L705.9 400.9 L704 401.4 L701 401.7 L698 401.3 L695 400.3 L694 399.8 L692 397.9 L690.9 396.6 L692 395.4 Z M695.2 418 L698 417 L701 416.7 L704 417.4 L706.8 419 L706.7 422 L704 422.9 L701 422.8 L698 422 L695.9 421 Z" fill="none" stroke="#5adcbe" stroke-width="1.05" stroke-linejoin="round"/>
<path d="M697.9 250.2 L698 250.2 L701 249.7 L704 249.6 L707 250 L710 250.9 L710.9 251.4 L713 252.4 L715.9 254.8 L716 254.9 L718.4 258 L719 260.3 L719.3 261.1 L719 262.1 L718.5 264 L716 266.3 L715.3 266.8 L713 267.8 L710 268.6 L707 268.9 L704 268.6 L701 267.8 L698 266.6 L695.2 265 L695 264.8 L692 262.4 L691 261.6 L689.2 258.4 L689.4 255.4 L691.6 252.6 L692 252.3 L695 250.9 Z M700.9 280.5 L701 280.4 L704 280.4 L707 281 L707.1 281 L710 282.3 L712.8 284.5 L713 284.8 L714.7 287.7 L714.4 290.7 L713 292.4 L711.9 293.5 L710 294.6 L707 295.7 L705.7 295.9 L704 296.3 L701 296.2 L698 295.5 L697.3 295.1 L695 294.2 L692 292.5 L690.7 291.5 L689 289.5 L688.2 288.3 L688.4 285.3 L689 284.7 L691.6 282.6 L692 282.4 L695 281.4 L698 280.8 Z M695.7 304 L698 303.4 L701 303.3 L704 303.6 L707 304.6 L707.8 305.1 L710 305.7 L713 307 L715.7 308.8 L716 309 L719 311.1 L720.2 312.2 L722 314.8 L722.4 315.4 L723.6 318.5 L725 321.5 L725.1 321.6 L728 324.6 L728.4 324.9 L731 327.1 L732.3 328.3 L734 329.8 L735.9 331.6 L737 332.7 L739.2 334.9 L740 335.9 L741.9 338.2 L743 340.1 L743.8 341.3 L744.8 344.4 L744.5 347.4 L743.2 350.3 L743 350.6 L741.7 353.1 L740 355.5 L739.8 356 L738 358.8 L737 359.9 L735.6 361.6 L734 363.1 L732.6 364.3 L731 365.7 L728.8 367 L728 367.6 L725 369.2 L724.1 369.6 L722 371 L719.4 372.1 L719 372.6 L716.7 374.9 L716 375.8 L714.7 377.7 L713 378.9 L710.8 380.4 L710 380.7 L707 381.7 L704 382 L701 381.9 L698 381.3 L695 380.6 L692 379.8 L689 378.9 L687 378.2 L686 377.8 L683 376 L681.8 374.7 L681.6 371.7 L681.8 368.7 L680 365.9 L679.8 365.6 L677 363.3 L675.9 362.2 L674 361 L671.2 358.8 L671 358.6 L668 356.2 L667.2 355.4 L665 352.4 L664.8 352.2 L663 349.1 L662 346.7 L661.4 345.9 L659.5 342.7 L659 341 L658.2 339.6 L658.7 336.7 L659 336.2 L660.3 333.8 L662 332.3 L662.9 331 L665 329.3 L665.9 328.3 L668 326.5 L669 325.6 L671 323.9 L672.3 322.9 L674 321.6 L676.1 320.2 L677 319.4 L679.5 317.5 L680 316.9 L681.4 314.7 L682.7 311.8 L683 311.6 L684.8 309 L686 308.1 L688.5 306.3 L689 306 L692 304.6 L695 304.1 Z" fill="none" stroke="#82e696" stroke-width="1.05" stroke-linejoin="round"/>
<path d="M703.1 253.7 L704 253.6 L707 253.9 L707.4 254 L710 255.1 L713 257.5 L713.1 257.6 L714.3 260.7 L713 263.4 L712.9 263.5 L710 265 L707 265.6 L704 265.3 L701 264.2 L698 262.3 L697.9 262.2 L695.8 259 L696.6 256.1 L698 255.1 L701 254 Z M695.6 286 L698 285 L701 284.2 L704 284.2 L707 285.4 L708.9 287.2 L708.7 290.2 L707 291.4 L704 292.5 L701 292.4 L698 291.2 L695 289 L695 288.9 L695 288.7 Z M692.6 306.7 L695 305.9 L698 305.4 L701 305.3 L704 305.6 L707 306.3 L710 307.5 L711.8 308.4 L713 309.1 L716 311.1 L717 311.9 L719 314.6 L719.4 315.1 L720.4 318.2 L721.6 321.3 L722 321.7 L724.8 324.6 L725 324.7 L728 327.1 L729 328 L731 329.7 L732.7 331.3 L734 332.7 L735.8 334.6 L737 336.1 L738.5 337.8 L740 340.8 L740.1 341 L741.1 344.1 L740.9 347.1 L740 349.3 L739.8 350 L738.7 352.9 L737 355.6 L736.9 355.7 L735.2 358.6 L734 360 L732.8 361.3 L731 362.9 L729.5 364 L728 365.1 L725 366.5 L724.7 366.6 L722 368 L719 368.9 L718.5 369 L716 370.4 L713 371.5 L712.9 371.5 L710 374 L709.6 374.2 L707 376.9 L706.9 377 L704 378 L701 378.1 L698 377.6 L695 376.6 L693.1 375.8 L692 374.7 L690.3 372.5 L689 370 L688.7 369.4 L686 366.9 L685.3 366.1 L683 364.7 L680.5 362.6 L680 362.3 L677 360.3 L675.5 359.2 L674 358.1 L671.3 355.8 L671 355.5 L668.4 352.5 L668 351.7 L666.6 349.4 L665.5 346.3 L665 344 L664.7 343.2 L664.1 340.2 L664.5 337.2 L665 336 L665.5 334.3 L667.3 331.4 L668 330.7 L669.6 328.7 L671 327.4 L672.5 325.9 L674 324.7 L676.1 323.2 L677 322.6 L680 320.8 L680.4 320.6 L683 318.6 L684 317.9 L685.5 315.1 L686 313.6 L686.3 312.2 L688.3 309.3 L689 308.8 L692 307 Z" fill="none" stroke="#b9e45f" stroke-width="1.05" stroke-linejoin="round"/>
<path d="M699.7 307.4 L701 307.3 L704 307.5 L705.3 307.9 L707 308.3 L710 309.4 L713 311.3 L713.4 311.6 L716 314.7 L716.1 314.8 L717 317.9 L718 321 L719 322 L721.2 324.3 L722 324.8 L725 327.2 L725.6 327.7 L728 329.6 L729.5 331 L731 332.5 L732.7 334.3 L734 335.9 L735.3 337.6 L737 340.7 L737 340.7 L738 343.8 L738 346.8 L737.1 349.7 L737 349.8 L736 352.6 L734.5 355.5 L734 356.2 L732.6 358.3 L731 360 L729.9 361.1 L728 362.5 L725.9 363.7 L725 364.2 L722 365.6 L719.9 366.2 L719 366.6 L716 367.7 L713 368.5 L712.8 368.5 L710 369.7 L707 370.5 L704.7 370.8 L704 371.1 L701 371.3 L698 370.3 L697.8 370.2 L695 369.1 L692 367.2 L691.2 366.6 L689 365.5 L686 363.5 L685.4 363.1 L683 361.8 L680 359.7 L679.8 359.6 L677 357.7 L675 356.1 L674 355.2 L671.7 352.8 L671 351.7 L669.7 349.7 L668.5 346.6 L668 343.8 L667.9 343.5 L667.6 340.5 L668 337.9 L668 337.5 L668.9 334.6 L670.7 331.7 L671 331.4 L673 329 L674 328 L676 326.2 L677 325.5 L680 323.6 L680 323.6 L683 321.7 L684.7 321 L686 320 L688.6 318.4 L689 317.1 L689.5 315.4 L689.9 312.5 L692 309.7 L692 309.7 L695 308.2 L698 307.5 Z" fill="none" stroke="#ebe146" stroke-width="1.05" stroke-linejoin="round"/>
<path d="M697.4 310.1 L698 309.9 L701 309.5 L704 309.6 L707 310.4 L708.4 311.1 L710 312.2 L712.3 314.5 L713 317.5 L713 317.7 L713.5 320.6 L716 322.8 L717.1 323.9 L719 325.1 L721.9 327.4 L722 327.4 L725 329.6 L726.2 330.7 L728 332.4 L729.6 334 L731 335.7 L732.3 337.3 L734 340.3 L734.1 340.5 L735.2 343.5 L735.3 346.6 L734.6 349.5 L734 350.9 L733.5 352.4 L732 355.3 L731 356.6 L729.8 358.1 L728 359.8 L726.6 360.8 L725 361.8 L722 363.2 L721.6 363.3 L719 364.4 L716 365.4 L714.7 365.7 L713 366.3 L710 367.2 L707 367.6 L704.1 367.8 L704 367.8 L701 367.6 L700.6 367.4 L698 366.9 L695 365.9 L692 364.3 L690.7 363.5 L689 362.7 L686 361 L684.4 360 L683 359.2 L680 357.2 L679.1 356.5 L677 354.9 L675.2 353.1 L674 351.7 L672.7 349.9 L671.4 346.8 L671 345 L670.7 343.7 L670.5 340.7 L671 338 L671 337.8 L672 334.9 L673.9 332 L674 331.9 L676.3 329.3 L677 328.6 L679.6 326.5 L680 326.2 L683 324.3 L683.9 323.9 L686 322.7 L689 321.6 L689.6 321.5 L692 320 L694.2 318.9 L694.2 315.9 L694.2 312.9 L695 312 Z" fill="none" stroke="#fabe32" stroke-width="1.05" stroke-linejoin="round"/>
<path d="M697.8 322.2 L698 322.1 L701 321.2 L704 320.8 L707 321.2 L710 322.6 L711.1 323.4 L713 324.1 L716 325.6 L717.9 327 L719 327.6 L722 329.9 L722.7 330.4 L725 332.4 L726.4 333.8 L728 335.5 L729.3 337 L731 339.8 L731.2 340.2 L732.5 343.3 L732.7 346.3 L732.1 349.3 L731 351.9 L730.9 352.2 L729.3 355 L728 356.5 L726.7 357.8 L725 359.1 L722.6 360.4 L722 360.7 L719 362.1 L716.5 362.9 L716 363.1 L713 364.1 L710 364.8 L708 365.1 L707 365.3 L704 365.5 L701 365.2 L698 364.3 L697.7 364.2 L695 363.2 L692 361.9 L689.6 360.4 L689 360.2 L686 358.6 L683.5 356.9 L683 356.6 L680 354.3 L679 353.5 L677 351.3 L676.1 350.2 L674.4 347.1 L674 345.6 L673.5 344 L673.4 341 L674 338.1 L674 338 L675.2 335.1 L677 332.6 L677.2 332.3 L679.8 329.6 L680 329.4 L683 327 L683.2 326.9 L686 325.2 L688.4 324.3 L689 324.1 L692 323 L695 322.5 Z" fill="none" stroke="#fa8c28" stroke-width="1.05" stroke-linejoin="round"/>
<path d="M695.9 325 L698 324.7 L701 324.4 L704 324.4 L707 324.7 L710 325.5 L712.4 326.5 L713 326.7 L716 328.2 L718.7 330.1 L719 330.3 L722 332.7 L722.8 333.4 L725 335.7 L726 336.7 L728 339.7 L728.2 339.9 L729.5 343 L729.8 346.1 L729.3 349 L728 351.9 L728 352 L726 354.7 L725 355.7 L722.7 357.4 L722 357.9 L719 359.4 L717.5 360 L716 360.6 L713 361.7 L710.5 362.3 L710 362.5 L707 363.1 L704 363.2 L701 362.8 L698 361.9 L696.1 361 L695 360.6 L692 359.3 L689 357.6 L688.6 357.4 L686 355.8 L683.4 353.9 L683 353.6 L680 350.7 L679.9 350.6 L677.8 347.4 L677 345 L676.8 344.3 L676.6 341.3 L677 339.4 L677.2 338.3 L678.5 335.4 L680 333.4 L680.5 332.6 L683 330.1 L683.3 329.9 L686 327.9 L687.4 327.2 L689 326.4 L692 325.5 L695 325.1 Z" fill="none" stroke="#f55a23" stroke-width="1.05" stroke-linejoin="round"/>
<path d="M693.6 327.8 L695 327.5 L698 327.1 L701 327 L704 327 L707 327.3 L710 328 L713 329.3 L713.6 329.6 L716 331 L718.7 333.1 L719 333.4 L722 336.3 L722.1 336.4 L724.6 339.6 L725 340.4 L726.1 342.7 L726.5 345.8 L726 348.7 L725 350.6 L724.4 351.6 L722 354 L721.7 354.3 L719 356 L717.3 356.9 L716 357.6 L713 358.8 L711.3 359.4 L710 359.8 L707 360.4 L704 360.5 L701 360 L698 359.1 L695.5 358 L695 357.8 L692 356.4 L689 354.7 L688.5 354.3 L686 352.6 L684.2 351 L683 349.5 L681.6 347.7 L680.4 344.6 L680.1 341.6 L680.7 338.6 L682 335.8 L683 334.4 L684.1 332.9 L686 331.2 L687.3 330.2 L689 329.2 L692 328.1 Z" fill="none" stroke="#e62d1e" stroke-width="1.05" stroke-linejoin="round"/>
<path d="M693.4 330.8 L695 330.4 L698 329.9 L701 329.7 L704 329.7 L707 330 L710 330.8 L713 332.3 L713.4 332.6 L716 334.6 L717.4 335.9 L719 337.8 L720.1 339.2 L721.8 342.3 L722 344.1 L722.2 345.4 L722 346 L721.3 348.3 L719.1 351.1 L719 351.1 L716 353.3 L715.3 353.8 L713 354.9 L710 356.2 L709.9 356.3 L707 357 L704 357.1 L701 356.6 L698 355.6 L696.8 355.1 L695 354.4 L692 352.9 L689.8 351.5 L689 350.9 L686.2 348.1 L686 347.8 L684.5 345 L684.1 342 L684.6 339 L685.9 336.1 L686 336 L688.3 333.3 L689 332.8 L692 331.2 Z" fill="none" stroke="#c81919" stroke-width="1.05" stroke-linejoin="round"/>
<path d="M291.2 366.7 L292 365.8 L294 364 L296 362.7 L298 361.7 L300 361 L302 360.7 L302.3 360.7 L304 361.4 L304.7 361.8 L304.5 364.4 L304 365.3 L302.2 368.2 L302 368.5 L300 370.6 L298 372.2 L296 373.5 L294 374.4 L292 374.7 L290.8 374.5 L290 373.8 L289.2 372.8 L289.2 370.3 L290 368.7 Z M318.6 589.2 L318.2 586.9 L318.4 584.3 L318.8 581.6 L319.2 578.8 L319.8 576 L320 574.4 L320.1 573.4 L320.1 570.8 L320 568.8 L320 568.4 L319.8 566 L320 563.5 L320 563.4 L320.4 560.7 L320.9 557.9 L321.2 555.2 L321.2 552.8 L320.8 550.5 L320.2 548.3 L320 546.6 L319.9 546 L320 543.5 L320 543.4 L320.1 540.8 L320 538.5 L320 538.4 L319.4 536.3 L318.7 534.1 L318.4 531.8 L318.4 529.3 L318.8 526.6 L319.5 523.7 L320 521.2 L320 520.9 L320.1 518.3 L320 517.5 L319.7 516.1 L318.7 514.1 L318 512.8 L317.6 512.2 L316.8 510.2 L316.5 507.8 L316.5 505.3 L316.6 502.8 L316.5 500.3 L316.2 498 L316.1 495.6 L316.2 493 L316.5 490.4 L316.8 487.7 L317 485 L317.2 482.4 L317.3 479.9 L317.4 477.3 L317.4 474.8 L317.2 472.4 L317.2 470 L317.6 467.2 L318 466 L318.4 464.3 L319.1 461.4 L319.8 458.5 L320 457.6 L320.3 455.8 L320.4 453.2 L320 450.9 L320 450.8 L318.8 449 L318 447.6 L317.5 447.3 L316.4 445.4 L316 443.3 L316 443.1 L315.7 440.8 L315.6 438.3 L315.8 435.7 L316 434.6 L316.5 432.9 L317.6 429.7 L318 427.1 L318 427 L318 426.9 L317.5 424.8 L316.8 422.7 L316.1 420.5 L316 420.3 L315.3 418.5 L314.3 416.6 L314 416.1 L313.1 414.7 L312.1 412.8 L312 412.5 L311.1 410.8 L310.1 408.9 L310 408.8 L308.2 407.4 L308 407.4 L306 407.3 L304 407.2 L303.9 407.2 L302 407.7 L300 408.1 L298 408.7 L296 409.2 L295.7 409.3 L294 409.9 L292 410.7 L290 411.6 L288 412.6 L286 413.8 L284 414.8 L282 415.8 L280 416.7 L278 417.5 L276 418.4 L274 419.3 L272 420.3 L270 421.4 L268 422.6 L266 423.7 L264 424.7 L262 425.6 L260 426.5 L258.8 427 L258 427.4 L256 428.3 L254 429 L252 429.7 L250 430.4 L248 431.4 L246 432.6 L244 433.9 L242 435.1 L240 436.3 L238 437.3 L236 438.2 L234 439.2 L232 440.1 L230 441.2 L228 442.2 L226 443.3 L224 444.4 L222 445.4 L220 446.5 L218 447.4 L216 448.3 L214 449.3 L212 450.5 L210 451.9 L208 453.2 L206 454.4 L204 455.4 L202 456.3 L200 457.2 L198 458.3 L196 459.4 L194 460.4 L192 461.3 L191.7 461.4 L190 462 L188 462.7 L186 463.3 L184 463.9 L182 464.4 L181.6 464.5 L180 464.5 L178 463.9 L178 463.8 L177.4 461.7 L178 460.3 L179 458.4 L180 457.2 L182 455.2 L184 453.5 L185.2 452.5 L186 451.8 L188 450.2 L190 448.6 L192 447.3 L194 446 L196 444.9 L198 443.7 L200 442.5 L202 441.3 L204 439.9 L206 438.5 L206 438.5 L208 436.9 L210 435.3 L212 433.8 L214 432.5 L216 431.5 L218 430.6 L220 429.8 L222 429 L224 428.1 L226 427.1 L228 426.1 L230 425.1 L232 423.9 L234 422.7 L236 421.3 L238 420 L240 418.8 L242 417.7 L244 416.5 L246 415.3 L248 413.9 L250 412.4 L252 410.8 L252.5 410.5 L254 409.3 L256 408.1 L258 407.1 L260 406.3 L260.4 406.2 L262 405.4 L264 404.3 L265.8 403.2 L266 403 L268 401.5 L270 399.9 L272 398.4 L274 397 L276 395.9 L278 395 L280 394.2 L282 393.2 L284 392 L286 390.6 L288 389.1 L290 387.6 L291.1 386.8 L292 386 L294 384.7 L296 383.5 L298 382.2 L300 380.9 L302 379.4 L304 377.9 L306 376.3 L306.6 375.8 L308 374.1 L310 371.6 L310.2 371.3 L312 368 L312.1 367.7 L313.4 364.6 L314 362.4 L314.3 361.6 L314.5 359 L314.1 356.6 L314 356 L313.6 354.4 L313.5 352 L313.9 349.3 L314 348.8 L314.6 346.4 L315.6 343.4 L316 342 L316.5 340.4 L316.9 337.6 L317 335.1 L316.7 332.7 L316.2 330.5 L316 329.5 L315.6 328.3 L314.9 326.2 L314.3 324 L314 321.7 L314.1 319.1 L314.6 316.4 L315.2 313.5 L315.6 310.9 L315.5 308.4 L315.4 305.9 L315.4 303.5 L315.5 300.9 L315.8 298.2 L315.8 295.7 L315.8 293.2 L315.9 290.6 L316 290.3 L316.5 287.9 L317.2 285 L318 282.6 L318.3 281.9 L319.8 278.5 L320 278.1 L321.4 275.2 L322 273.9 L322.9 271.8 L324 269.4 L324.3 268.5 L325.4 265.4 L326 263.3 L326.2 262.5 L326.8 259.7 L327.4 256.8 L328 254.2 L328 254 L329.7 250.6 L330 250.2 L332 248.1 L334 246.8 L336 246.1 L338 245.6 L338.9 245.5 L340 245.8 L341.5 246.6 L342 248 L342.3 248.7 L342.9 250.9 L343.4 253.1 L344 255.2 L344 255.2 L345.1 257.1 L346 258.8 L346.2 259 L346.9 261.2 L347.3 263.4 L347.6 265.8 L347.6 268.2 L347.3 270.9 L347 273.6 L346.9 276.1 L347 278.6 L347.4 280.8 L347.9 283.1 L348 283.3 L348.5 285.2 L349 287.5 L349.2 289.9 L349.1 292.4 L349.1 294.9 L349.3 297.3 L349.7 299.6 L350 302 L350 304.3 L350 304.4 L350 304.6 L349.9 307 L350 309.5 L350 309.8 L350.2 311.8 L350.5 314.1 L350.6 316.6 L350.4 319.2 L350 321.5 L349.9 322 L349.7 324.6 L349.8 327.1 L350 328.4 L350.2 329.3 L351 331.4 L351.5 333.6 L351.8 335.9 L352 337 L352.2 338.2 L354 338.6 L355.6 338.8 L356 338.7 L358 338 L360 337.2 L362 336.3 L364 335.4 L366 334.3 L368 333.3 L370 332.1 L372 331 L374 329.9 L376 328.9 L378 328 L380 327.1 L382 326.2 L384 325.3 L386 324.4 L387.7 323.7 L386 325.2 L384 326.8 L382 328.4 L380 330.1 L379 331 L378 331.7 L376 333.1 L374 334.4 L372 335.6 L370 336.7 L368 337.8 L366 338.9 L364 340.1 L362 341.5 L360 343.1 L358 344.9 L357.6 345.2 L358 346.1 L358.5 347.3 L360 348.1 L361 348.4 L362 348.4 L364 348.3 L366 348.2 L366 348.2 L368 347.6 L370 346.9 L372 346.1 L374 345.2 L376 344 L378 342.8 L380 341.7 L382 340.7 L384 339.9 L386 339.1 L388 338.4 L389.1 338 L390 337.6 L392 336.6 L394 335.6 L396 334.5 L398 333.3 L400 332 L400.4 331.7 L402 330.6 L404 329.2 L406 327.9 L408 326.7 L410 325.6 L412 324.4 L414 323.3 L416 322.2 L418 321.1 L420 320 L422 318.8 L424 317.6 L426 316.5 L428 315.5 L430 314.8 L432 314.3 L432.3 314.2 L434 313.9 L436 314 L436.8 314.3 L438 315.1 L438.7 315.7 L439.4 317.9 L438.6 320.7 L438 321.9 L436.2 324.6 L436 324.8 L434 327.1 L432 328.9 L430 330.4 L429.6 330.7 L428 332 L426 333.5 L424 335 L422 336.3 L420 337.7 L418 339 L416 340.2 L414 341.3 L412 342.2 L410 343.1 L408 344 L406 345 L404 346.1 L402 347.3 L400 348.3 L398 349.3 L396 350.1 L394 350.8 L392 351.6 L390 352.5 L388 353.6 L386 354.8 L384 356.1 L382 357.5 L380 358.8 L378 360.1 L376 361.2 L374 362.4 L372 363.5 L370 364.8 L368 366.3 L366 368 L365.4 368.5 L364 369.9 L362 371.8 L360 373.8 L359.6 374.2 L358 376.2 L356.3 378.5 L356 379 L354.8 381.8 L354 384.7 L354 384.9 L353.6 387.4 L353.3 390.1 L352.7 393 L352 395.4 L351.8 395.9 L351 398.9 L350.2 401.8 L350 402.8 L349.7 404.6 L349.2 407.3 L349.2 409.9 L349.6 412.1 L350 413.5 L350.3 414.3 L350.6 416.6 L350.5 419.2 L350 421.9 L350 422.1 L349.6 424.6 L349.1 427.4 L348.5 430.2 L348 432.7 L347.9 433.1 L347.6 435.7 L347.6 438.3 L347.8 440.7 L348 442.7 L348 443 L348.1 445.5 L348 446.3 L347.8 448.1 L347.5 450.8 L347.4 453.4 L347.6 455.8 L347.8 458.1 L347.7 460.7 L347.5 463.3 L347.5 465.8 L347.8 468.2 L348 469.4 L348.3 470.4 L348.8 472.6 L348.8 475.1 L348.4 477.8 L348 480.5 L348 480.6 L347.8 483.2 L347.6 485.7 L347.5 488.3 L347.3 490.9 L347.2 493.5 L347.3 495.9 L347.8 498.2 L348 499.1 L348.4 500.3 L348.8 502.6 L348.8 505.1 L348.1 508 L348 508.3 L347 511.1 L346.1 514.1 L346 514.6 L345.8 516.7 L345.9 519.2 L346 521.4 L346 521.6 L346.1 524.1 L346 525.6 L345.9 526.7 L345.5 529.4 L345.2 532.1 L345.2 534.6 L345.7 536.8 L346 537.4 L346.8 538.7 L348 540.1 L348.2 540.4 L349.2 542.4 L349.4 544.8 L349 547.5 L348.2 550.4 L348 551.1 L347.2 553.5 L346.2 556.5 L346 557.5 L345.7 559.3 L345.7 561.8 L345.8 564.3 L345.8 566.8 L345.4 569.4 L344.7 572.4 L344 574 L343.3 575.6" fill="none" stroke="#191996" stroke-width="0.9" stroke-linejoin="round" opacity="0.8"/>
<path d="M293.8 365.3 L294 365.1 L296 363.8 L298 362.8 L298.7 362.6 L300 362.4 L302 362.8 L302.5 363 L302.4 365.6 L302 366.2 L300 369 L299.3 369.8 L298 370.9 L296 372.2 L294 373.1 L293.2 373.1 L292 373 L290.7 372 L290.7 369.5 L292 367.4 Z M320.8 588 L320.3 585.8 L320.5 583.2 L320.7 580.5 L321 577.9 L321.4 575.2 L321.7 572.5 L321.9 569.9 L321.8 567.4 L321.6 565 L321.6 562.5 L322 559.8 L322 559.6 L322.3 557.2 L322.6 554.5 L322.7 551.9 L322.5 549.5 L322.2 547.2 L322 545.6 L321.9 544.9 L322 542.3 L321.9 539.8 L321.5 537.6 L320.9 535.4 L320.3 533.2 L320 530.9 L320.1 528.4 L320.4 525.7 L320.9 522.9 L321.3 520.2 L321.3 517.7 L320.9 515.4 L320.2 513.3 L320 512.8 L319.1 511.4 L318.4 509.3 L318.1 506.9 L318.3 504.3 L318.5 501.7 L318.4 499.3 L318 497.3 L318 497 L317.5 494.8 L317.4 492.3 L317.6 489.7 L318 487 L318 487 L318.2 484.4 L318.4 481.8 L318.7 479.1 L319.1 476.4 L319.5 473.7 L319.5 471.2 L319.4 468.8 L319.5 466.2 L320 463.4 L320 463.3 L320.5 460.7 L321 457.9 L321.5 455.1 L321.7 452.5 L321.4 450.2 L320.6 448.1 L320 446.7 L319.6 446.1 L318.7 444.1 L318.2 441.9 L318 439.5 L318.1 437 L318.4 434.3 L319.4 431.2 L320 429.6 L320.4 428.2 L320.6 425.6 L320.1 423.4 L320 423.2 L319 421.5 L318.1 419.5 L318 419.3 L317.1 417.5 L316 415.6 L316 415.5 L314.8 413.8 L314 412.6 L313.6 411.9 L312.7 409.9 L312 408.2 L311.8 407.9 L310.5 406.1 L310 405.8 L308 405.4 L307.3 405.4 L306 405.7 L304 406.1 L302 406.5 L300.1 406.9 L300 406.9 L298 407.7 L296 408.5 L294 409.2 L292 409.9 L290 410.8 L288 411.8 L286 413 L284 414 L282 415 L280 415.8 L278 416.6 L277.1 417 L276 417.5 L274 418.5 L272 419.5 L270 420.6 L268 421.7 L266 422.8 L264 423.8 L262 424.7 L260 425.6 L258 426.6 L256 427.4 L254 428.1 L252 428.8 L250 429.4 L249.4 429.7 L248 430.3 L246 431.5 L245.8 431.7 L244 432.9 L242 434.2 L240 435.4 L238 436.4 L236 437.4 L234 438.3 L232.4 439 L232 439.2 L230 440.3 L228 441.4 L226 442.5 L224 443.5 L222 444.6 L220 445.6 L218 446.6 L216 447.5 L214 448.5 L212 449.7 L210 451 L208 452.3 L206 453.5 L204 454.5 L202 455.4 L200 456.2 L198 457.3 L196 458.4 L194 459.5 L192 460.4 L190 461.1 L188 461.6 L186 462.2 L185.4 462.4 L184 462.7 L182 462.9 L180.1 462.8 L180 462.6 L179.3 460.7 L180 459.3 L181.4 457 L182 456.4 L184 454.6 L186 452.9 L188 451.2 L189.3 450.2 L190 449.7 L192 448.2 L194 447 L196 445.9 L198 444.7 L200 443.5 L202 442.2 L204 440.8 L206 439.3 L208 437.7 L209.1 436.8 L210 436.1 L212 434.5 L214 433.2 L216 432.1 L218 431.3 L220 430.6 L221.3 430.2 L222 429.8 L224 429 L226 428 L228 427 L230 426 L232 424.8 L234 423.5 L236 422.2 L237.7 421.1 L238 420.9 L240 419.7 L242 418.6 L244 417.4 L246 416.2 L248 414.8 L250 413.2 L252 411.6 L254 410.2 L256 409 L258 408.1 L260 407.4 L262 406.6 L264 405.4 L266 404 L268 402.5 L270 401 L270.5 400.6 L272 399.4 L274 397.9 L276 396.8 L278 395.9 L280 395.1 L282 394.2 L284 393 L286 391.5 L288 389.9 L290 388.4 L292 386.9 L294 385.7 L296 384.5 L298 383.2 L300 382 L300.8 381.5 L302 380.6 L304 379 L306 377.3 L308 375.5 L309.1 374.4 L310 373.2 L312 370.4 L312.1 370.3 L314 366.7 L314 366.6 L315.4 363.5 L316 361.6 L316.3 360.4 L316.6 357.8 L316.3 355.5 L316 354 L315.8 353.2 L315.4 350.9 L315.6 348.3 L316 346.8 L316.3 345.4 L317.2 342.4 L318 339.6 L318 339.5 L318.3 336.8 L318.3 334.4 L318 332 L318 332 L317.5 329.8 L317 327.6 L316.6 325.3 L316.3 323 L316.3 320.5 L316.7 317.7 L317.6 314.7 L318 313.4 L318.5 311.7 L318.9 309 L318.8 306.6 L318.5 304.3 L318.3 301.8 L318.6 299.2 L319.2 296.4 L319.9 293.5 L320 292.3 L320.1 290.9 L320.1 288.4 L320.2 285.8 L320.6 283.1 L321.7 280 L322 279.3 L322.8 276.9 L324 273.8 L324 273.7 L324.9 270.7 L326 267.8 L326.1 267.6 L326.9 264.6 L327.6 261.7 L328 260.1 L328.3 258.9 L329 255.9 L329.8 253.1 L330 252.6 L332 249.5 L332.8 248.9 L334 248 L335 247.7 L336 247.4 L338 247.5 L339.2 247.8 L340 249.5 L340.1 249.8 L340.6 252.1 L340.9 254.4 L341.2 256.8 L342 258.4 L342.2 258.7 L343.4 260.5 L344 261.8 L344.3 262.6 L344.9 264.8 L345.3 267 L345.4 269.5 L345.2 272.1 L345 274.7 L345 277.2 L345.2 279.6 L345.5 281.9 L345.9 284.2 L346 284.6 L346.5 286.4 L346.9 288.6 L347.1 291 L347.1 293.5 L347.2 296 L347.4 298.4 L347.7 300.7 L348 303.1 L348 304 L348.1 305.5 L348.1 308 L348.2 310.4 L348.5 312.8 L348.7 315.2 L348.7 317.7 L348.3 320.4 L348 321.9 L347.8 323.1 L347.6 325.8 L347.7 328.2 L348 330.5 L348 330.6 L348.6 332.7 L349.1 334.9 L349.5 337.2 L349.7 339.6 L350 339.9 L352 340.7 L352.1 340.8 L354 340.1 L356 339.3 L358 338.5 L360 337.7 L362 336.9 L364 335.9 L366 334.8 L368 333.7 L370 332.6 L372 331.5 L374 330.4 L376 329.4 L378 328.4 L380 327.6 L382 326.8 L382.8 326.4 L382 327.1 L380 328.8 L378 330.7 L376 332.5 L375.2 333.1 L374 333.9 L372 335.1 L370 336.1 L368 337.2 L366 338.3 L364 339.4 L362 340.7 L360 342.3 L358 344 L356 346 L355.8 346.2 L356 346.5 L356.9 348.1 L358 348.9 L359 349.5 L360 349.6 L362 349.7 L363.2 349.7 L364 349.5 L366 349.1 L368 348.6 L370 348 L372 347.2 L374 346.2 L376 345 L378 343.7 L380 342.5 L382 341.5 L384 340.7 L384.3 340.6 L386 340 L388 339.3 L390 338.5 L392 337.5 L394 336.5 L396 335.3 L398 334 L400 332.6 L402 331.2 L404 329.9 L405.3 329 L406 328.6 L408 327.4 L410 326.2 L412 325.1 L414 324 L416 322.9 L418 321.8 L420 320.6 L422 319.4 L424 318.2 L426 317 L428 316.1 L430 315.5 L430.1 315.4 L432 314.8 L434 314.5 L435.8 314.8 L436 314.9 L437.8 316.2 L438 316.8 L438.5 318.3 L438 320.2 L437.7 321.3 L436 324 L434.9 325.3 L434 326.3 L432 328.3 L430 329.9 L428 331.4 L426.7 332.3 L426 332.8 L424 334.3 L422 335.8 L420 337.2 L418 338.5 L416 339.7 L414 340.8 L412 341.7 L410 342.5 L408 343.4 L406 344.3 L404 345.4 L402 346.6 L400 347.6 L398 348.5 L396 349.2 L395.9 349.2 L394 349.9 L392 350.6 L390 351.5 L388 352.6 L386 353.8 L384 355.1 L382 356.5 L380 357.8 L378.3 358.9 L378 359.1 L376 360.2 L374 361.3 L372.3 362.2 L372 362.3 L371.9 362.4 L370 363.6 L368 365.1 L366 366.9 L364 368.7 L362.5 370.1 L362 370.6 L360 372.6 L358 374.6 L357.2 375.5 L356 377.1 L354.5 379.5 L354 380.6 L353.3 382.6 L352.5 385.6 L352 387.6 L351.8 388.5 L351 391.4 L350 394.4 L350 394.6 L349.3 397.3 L348.7 400.2 L348.1 403 L348 403.4 L347.5 405.8 L347.1 408.5 L347 411.1 L347.5 413.3 L348 414.5 L348.4 415.3 L349 417.5 L349.2 419.9 L348.9 422.5 L348.5 425.3 L348 427.4 L347.9 428.1 L347.3 430.9 L346.6 433.8 L346.1 436.6 L346 437.8 L345.9 439.2 L346 441.6 L346 442.9 L346 444.1 L346 445 L345.9 446.7 L345.7 449.3 L345.3 452 L344.9 454.7 L344.9 457.2 L345.2 459.6 L345.4 462 L345.6 464.4 L345.8 466.8 L346 468.6 L346.1 469.1 L346.7 471.2 L347.1 473.5 L347.2 476 L346.9 478.6 L346.6 481.3 L346.2 484 L346.1 486.6 L346 487.2 L345.9 489.2 L345.6 491.8 L345.5 494.4 L345.7 496.8 L346 498.7 L346.1 499.1 L346.7 501.2 L347 503.6 L346.7 506.3 L346 508.4 L345.8 509.2 L345 512.2 L344.5 514.9 L344.5 517.5 L344.6 519.9 L344.6 522.4 L344.5 525 L344 527.4 L343.9 527.8 L343.3 530.6 L342.9 533.3 L342.8 535.9 L343.1 538.2 L343.8 540.3 L344 540.8 L345 542.2 L346 544.1 L346 544.2 L346.4 546.4 L346.2 549 L346 549.8 L345.6 551.8 L345 554.7 L344.4 557.5 L344.2 560.1 L344.3 562.5 L344.5 564.9 L344.4 567.5 L344 569.6 L343.9 570.3 L343 573.3 L342 575.4 L341.4 576.7" fill="none" stroke="#1e1ec8" stroke-width="0.9" stroke-linejoin="round" opacity="0.8"/>
<path d="M293.2 368.2 L294 367.1 L296 365.5 L298 364.7 L299.5 364.7 L299.5 367.2 L298 368.8 L296 370.3 L294 370.9 L293.1 370.7 Z M323.6 586.4 L322.6 584.5 L322.5 582 L322.5 579.5 L322.7 577 L322.9 574.3 L323.2 571.6 L323.5 569 L323.5 566.5 L323.3 564.1 L323.2 561.7 L323.3 559.1 L323.6 556.4 L324 553.9 L324 553.7 L324.3 551 L324.5 548.4 L324.5 545.9 L324.4 543.5 L324.2 541.1 L324 540.2 L323.8 538.8 L323.1 536.7 L322.4 534.6 L322 532.8 L321.9 532.4 L321.5 530.1 L321.6 527.5 L322 525.3 L322.1 524.8 L322.5 522.1 L322.7 519.4 L322.6 517 L322.3 514.7 L322 513.6 L321.6 512.5 L320.7 510.5 L320.1 508.3 L320 506 L320 505.9 L320 505.9 L320.3 503.2 L320.7 500.5 L320.5 498.1 L320 496.5 L319.8 496 L319.1 493.9 L318.8 491.6 L318.8 489.1 L319 486.4 L319.4 483.8 L319.7 481.1 L320 479.7 L320.2 478.3 L320.9 475.4 L321.6 472.6 L321.7 470 L321.4 467.6 L321.3 465.2 L321.4 462.6 L321.9 459.9 L322 459.2 L322.3 457.1 L322.7 454.4 L323 451.8 L322.8 449.4 L322.1 447.2 L322 446.9 L321.1 445.3 L320.4 443.2 L320.1 440.9 L320 438.4 L320.2 435.8 L320.7 433 L321.7 430 L322 429.2 L322.6 427 L322.8 424.4 L322.3 422.1 L322 421.4 L321.2 420.2 L320.2 418.3 L320 417.7 L319.3 416.3 L318.3 414.4 L318 413.9 L317 412.6 L316 411.4 L315.6 410.8 L314.6 408.9 L314 407.6 L313.7 406.9 L312.7 404.9 L312 404.1 L310.8 403.4 L310 403.4 L308 403.8 L306 404.2 L304.4 404.5 L304 404.6 L302 405.3 L300 406 L298 406.8 L296 407.5 L294 408.2 L292 408.8 L291.6 409 L290 409.7 L288 410.8 L286 411.9 L284 413 L282 414 L280 414.9 L278 415.8 L276 416.7 L274 417.7 L272 418.7 L270 419.7 L268 420.8 L266 421.9 L264 422.8 L262 423.6 L260 424.5 L258 425.4 L256 426.3 L255 426.6 L254 427 L252 427.6 L250 428.3 L248 429.2 L246 430.4 L244 431.8 L242 433.2 L240 434.4 L238 435.5 L236 436.4 L234 437.3 L232 438.2 L230 439.2 L228 440.3 L226 441.4 L224 442.6 L222 443.7 L220 444.7 L218 445.7 L216 446.6 L214 447.5 L212 448.7 L210 450 L208 451.3 L206 452.4 L204 453.3 L202 454.1 L200 454.9 L198 456 L196 457.2 L194 458.3 L192 459.2 L190.2 459.7 L190 459.8 L188 460.1 L186 460.4 L184 460.8 L183.7 460.8 L182.2 459.1 L184 456.6 L185.5 454.8 L186 454.3 L188 452.6 L190 451 L192 449.6 L194 448.4 L196 447.3 L198 446.1 L200 444.8 L202 443.4 L203.1 442.6 L204 442 L206 440.4 L208 438.7 L210 437 L212 435.4 L213.3 434.5 L214 434 L216 433 L216 433 L218 432.2 L220 431.5 L222 430.8 L224 430 L226 429.1 L228 428.2 L230 427.2 L232 426 L234 424.6 L236 423.2 L238 421.8 L240 420.6 L242 419.5 L244 418.4 L246 417.2 L248 415.9 L249.8 414.5 L250 414.3 L252 412.6 L254 411.2 L256 410.1 L258 409.4 L260 408.8 L260.1 408.8 L262 408.1 L264 406.9 L265.1 406.1 L266 405.4 L268 403.7 L270 402 L272 400.4 L274 399 L276 397.9 L278 396.9 L280 396 L282 395 L284 393.8 L286 392.5 L288 391.1 L288.5 390.7 L290 389.5 L292 388 L294 386.7 L296 385.4 L298 384.1 L300 382.8 L302 381.5 L304 380.1 L306 378.7 L306.2 378.5 L308 376.8 L310 374.8 L311.7 373 L312 372.5 L314 369.5 L314.3 369.1 L316 365.8 L316.1 365.5 L317.6 362.2 L318 360.9 L318.3 359.3 L318.4 356.8 L318.2 354.4 L318 353.3 L317.7 352.2 L317.4 349.8 L317.6 347.2 L318 345.6 L318.2 344.4 L319.1 341.4 L319.7 338.6 L319.8 336 L319.6 333.6 L319.2 331.3 L318.9 329 L318.6 326.7 L318.5 324.2 L318.6 321.7 L319.2 318.8 L320 316.6 L320.3 315.7 L321.7 312.5 L322 311.5 L322.3 309.7 L322.2 307.2 L322 305.5 L321.9 304.9 L321.3 302.7 L321.1 300.3 L321.2 297.8 L321.6 295 L322 293 L322.1 292.3 L322.2 289.7 L322.4 287.1 L322.6 284.5 L323.1 281.7 L324 279.1 L324.1 278.7 L324.9 275.7 L325.9 272.7 L326 272.4 L326.7 269.7 L327.7 266.7 L328 265.7 L328.7 263.6 L329.5 260.7 L330 258.8 L330.4 257.7 L331.5 254.6 L332 253.2 L333.8 250.9 L334 250.6 L334.2 250.6 L336 251.4 L336.4 251.9 L337.1 254 L337.3 256.4 L337.7 258.7 L338 259.2 L338.9 260.6 L340 262 L340.2 262.3 L341.5 264.1 L342 265.5 L342.3 266.2 L343 268.3 L343.4 270.6 L343.5 273 L343.5 275.5 L343.6 277.9 L343.8 280.4 L343.9 282.8 L344 284.1 L344.2 285.1 L344.7 287.3 L345.1 289.7 L345.2 292.1 L345.2 294.6 L345.1 297.1 L345.1 299.6 L345.4 302 L345.7 304.3 L346 306 L346.1 306.6 L346.4 308.9 L346.7 311.3 L346.9 313.6 L347 316.1 L346.9 318.6 L346.5 321.4 L346 323.7 L345.9 324.2 L345.8 326.7 L346 329 L346 329.1 L346.6 331.3 L347.1 333.5 L347.5 335.8 L347.7 338.2 L347.8 340.7 L348 341.7 L348.6 342.7 L350 342.6 L352 341.8 L354 340.9 L356 340 L358 339.2 L360 338.4 L362 337.6 L364 336.6 L366 335.5 L368 334.4 L370 333.2 L372 332.1 L374 330.9 L376 330 L377.7 329.2 L376 330.7 L374 332.2 L372 333.4 L370 334.3 L368 335.1 L366 336.1 L364 337.2 L362 338.8 L360 340.8 L359.1 341.9 L358 342.9 L356 344.7 L354 346.8 L353.2 347.7 L354 348.1 L354.9 349.2 L356 349.9 L357 350.6 L358 350.9 L360 351.3 L360.3 351.3 L362 351 L364 350.7 L366 350.3 L366.9 350.1 L368 349.9 L370 349.3 L372 348.4 L374 347.4 L376 346 L378 344.7 L380 343.4 L382 342.4 L384 341.6 L386 341 L388 340.5 L390 339.7 L392 338.8 L394 337.6 L396 336.4 L398 335 L400 333.5 L402 332 L404 330.5 L406 329.2 L408 328 L410 326.9 L412 325.7 L414 324.6 L416 323.5 L418 322.4 L420 321.3 L422 320.1 L424 318.9 L426 317.8 L428 316.8 L430 316 L432 315.5 L434 315.4 L434.5 315.5 L436 316.1 L436.9 316.7 L437.5 318.9 L436.6 321.9 L436 322.8 L434 325.4 L433.1 326.3 L432 327.4 L430 329.2 L428 330.8 L426 332.2 L424 333.6 L422.6 334.6 L422 335 L420 336.5 L418 337.9 L416 339.1 L414 340.2 L412 341 L410 341.8 L408.3 342.4 L408 342.5 L406 343.5 L404 344.6 L402 345.7 L400 346.7 L398 347.5 L396 348.2 L394 348.7 L392 349.3 L390 350.1 L388 351.2 L386 352.5 L384 353.9 L382 355.4 L380 356.8 L378 358 L376 359.1 L374 360.1 L372 361.1 L370 362.2 L368 363.7 L366 365.4 L365.5 365.9 L364 367.4 L362 369.4 L360 371.2 L359.4 371.7 L358 373.3 L356 375.4 L354.8 376.8 L354 378 L352.7 380.5 L352 382.2 L351.5 383.6 L350.6 386.6 L350 388.5 L349.6 389.7 L348.3 392.9 L348 393.6 L347.4 395.9 L346.9 398.6 L346.5 401.4 L346 403.9 L345.9 404.2 L345.3 407 L344.8 409.8 L344.9 412.2 L345.6 414.4 L346 415.2 L346.6 416.3 L347.4 418.4 L347.7 420.7 L347.6 423.2 L347.3 425.9 L346.7 428.8 L346 431.2 L345.9 431.7 L345.2 434.6 L344.6 437.4 L344.4 440 L344.3 442.6 L344.3 445.1 L344 447.7 L344 447.7 L343.6 450.4 L343.1 453.2 L342.5 456 L342.3 458.7 L342.7 461 L343.3 463.1 L343.8 465.3 L344 466.1 L344.4 467.5 L344.9 469.8 L345.3 472 L345.6 474.4 L345.6 476.9 L345.3 479.5 L344.9 482.2 L344.5 484.9 L344.4 487.5 L344.2 490.1 L344 492.7 L344 493 L343.9 495.3 L344 496.1 L344.2 497.6 L344.7 499.9 L345.1 502.1 L345.2 504.6 L344.8 507.3 L344 509.8 L343.9 510.3 L343.3 513.1 L343 515.8 L343.1 518.2 L343.2 520.7 L343.1 523.2 L342.7 525.9 L342 528.7 L341.9 528.9 L341.3 531.7 L340.7 534.5 L340.6 537.1 L340.8 539.5 L341.4 541.6 L342 543 L342.4 543.6 L343.3 545.6 L343.6 547.9 L343.5 550.5 L343.1 553.2 L342.6 556 L342.4 558.6 L342.6 561 L343 563.3 L343.2 565.7 L343.1 568.2 L342.3 571.1 L342 572 L341.2 574.3 L340 576.7 L339.5 577.7" fill="none" stroke="#283ce6" stroke-width="0.9" stroke-linejoin="round" opacity="0.8"/>
<path d="M403.3 332.7 L404 332.1 L406 330.7 L408 329.4 L410 328.1 L412 326.9 L414 325.8 L416 324.6 L418 323.5 L420 322.4 L422 321.2 L424 320 L426 318.9 L428 318 L430 317.4 L431.5 317.2 L432 317.1 L434 317.5 L434.8 317.9 L435.5 320 L434 323.3 L434 323.3 L432 325.7 L430 327.6 L428.7 328.7 L428 329.3 L426 331 L424 332.5 L422 333.9 L420 335.3 L418 336.6 L416 337.8 L414 338.9 L412 339.7 L410 340.5 L408 341.2 L406 342.1 L404 343.1 L402 344.1 L400 344.9 L398.2 345.5 L398 345.5 L396 345.6 L394 345.6 L393.3 345.6 L392 344.6 L390.3 344.8 L392 343.3 L394 340.9 L395 339.7 L396 338.9 L398 337.1 L400 335.4 L402 333.7 Z M194 452.6 L194 452.6 L194 452.6 L194 452.6 Z M328.5 583.7 L328 583.6 L326.4 582.4 L326 581.4 L325.6 580.3 L325.2 578.1 L325.1 575.6 L325.3 573 L325.8 570.2 L326 569 L326.2 567.5 L326.3 565 L326 562.6 L326 562.4 L325.7 560.3 L325.6 557.8 L326 555.1 L326 554.9 L326.6 552.3 L327.5 549.3 L328 547.8 L328.8 546.1 L329.8 543 L329.6 540.7 L328.4 538.8 L328 538.5 L327 537.1 L326 535.5 L325.8 535.2 L324.8 533.3 L324.2 531.1 L324 529 L324 528.7 L324 528.4 L324.2 526.1 L324.6 523.4 L324.9 520.7 L324.9 518.2 L324.7 515.8 L324.4 513.5 L324 511.8 L323.9 511.3 L323.2 509.1 L322.9 506.8 L323.1 504.2 L323.8 501.3 L324 500.5 L324.3 498.5 L324 496.2 L324 496.2 L322.8 494.4 L322 492.9 L321.8 492.4 L321 490.3 L320.8 488 L321 485.4 L321.3 482.7 L321.9 479.8 L322 479.6 L322.8 476.9 L324 473.9 L324.1 473.7 L325.1 470.6 L325.1 468.1 L324.6 465.9 L324.1 463.6 L324 461.5 L324 461.2 L324 460.9 L324.1 458.7 L324.5 456 L324.9 453.2 L325.3 450.5 L325.1 448.1 L324.3 446.1 L324 445.4 L323.3 444.1 L322.6 442 L322.4 439.6 L322.4 437.1 L322.7 434.4 L323.5 431.5 L324 430 L324.5 428.5 L325.4 425.5 L325.8 422.7 L325.4 420.5 L324.4 418.5 L324 417.7 L323.3 416.6 L322.4 414.6 L322 413.2 L321.7 412.5 L320.7 410.5 L320 409.2 L319.5 408.7 L318.2 406.9 L318 406.6 L316.9 405.1 L316 403.1 L316 403 L314.9 401.2 L314 400.4 L312.7 399.9 L312 400 L310 400.6 L308 401.4 L306 402.2 L304 402.8 L302 403.3 L302 403.3 L300 404.1 L298 405 L296 405.9 L294 406.6 L292 407.3 L290 408.1 L288 409.1 L286 410.2 L284 411.3 L282 412.2 L280 413.1 L278.2 413.9 L278 414 L276 414.9 L274 415.9 L272 416.8 L270 417.8 L268 418.8 L266 419.7 L264 420.4 L262 421 L260 421.7 L258 422.8 L256 423.8 L254.6 424.4 L254 424.6 L252 425.1 L250 425.8 L248 426.6 L246 427.9 L244 429.4 L242 431 L240 432.3 L238 433.4 L236 434.2 L234 434.8 L232 435.4 L230 436.3 L228 437.5 L226 438.8 L224 440.1 L222 441.4 L220 442.5 L218 443.5 L216 444.4 L214 445.3 L212 446.5 L210 447.6 L208 448.6 L206 449.4 L204 450 L202.7 450.3 L202 449.9 L200.2 449.2 L202 447.5 L204 445.3 L204.9 444.1 L206 443.2 L208 441.2 L210 439 L210.5 438.6 L212 437.2 L214 435.8 L216 434.8 L218 434.1 L219.4 433.7 L220 433.5 L222 433 L224 432.5 L226 431.9 L228 431.1 L230 430.1 L232 428.8 L234 427.1 L236 425.5 L238 424 L240 422.7 L242 421.6 L244 420.6 L246 419.5 L248 418.1 L248.5 417.7 L250 416.5 L252 414.9 L254 413.5 L256 412.6 L258 412.3 L258.4 412.2 L260 412.3 L262 411.6 L264 410.1 L266 408.1 L266.1 408 L268 406.2 L270 404.3 L272 402.6 L273.5 401.5 L274 401.1 L276 399.8 L278 398.9 L279.1 398.4 L280 397.9 L282 396.9 L283.5 395.9 L284 395.7 L286 394.3 L288 392.9 L290 391.4 L292 390 L294 388.6 L296 387.3 L298 385.9 L300 384.6 L302 383.3 L302.4 383.1 L304 381.9 L306 380.4 L308 378.9 L310 377.3 L312 375.6 L312.8 374.9 L314 373.4 L316 370.7 L316.1 370.6 L318 367 L318 367 L319.3 363.8 L320 362 L320.3 360.7 L320.7 358 L320.6 355.6 L320.3 353.3 L320.1 350.9 L320.1 348.4 L320.4 345.7 L321.2 342.8 L322 340.3 L322.2 339.7 L322.6 337 L322.4 334.6 L322 332.4 L322 332.3 L321.6 330 L321.3 327.7 L321.4 325.2 L321.9 322.4 L322 322 L322.9 319.3 L324 316.9 L324.4 316 L325.1 313.1 L325.1 310.6 L324.8 308.3 L324.4 306 L324 303.7 L324 303.6 L323.4 301.5 L323.1 299.2 L323.1 296.7 L323.3 294.1 L323.6 291.4 L324 289.2 L324 288.7 L324.3 286.1 L324.6 283.4 L325.3 280.5 L326 278.3 L326.2 277.5 L327.1 274.5 L328 272 L328.2 271.4 L329.4 268.2 L330 266.8 L331.5 264.6 L332 263.8 L334 263.1 L334.1 263.2 L336 263.8 L336.6 264.3 L338 265.5 L338.3 265.8 L339.6 267.7 L340 268.7 L340.5 269.7 L341.2 271.8 L341.5 274.1 L341.8 276.5 L341.9 278.9 L342 279.8 L342.2 281.2 L342.4 283.6 L342.6 286 L342.8 288.4 L342.9 290.8 L342.8 293.4 L342.6 296 L342.1 298.8 L342 299.3 L341.7 301.5 L341.5 304.1 L341.9 306.4 L342 306.6 L342.9 308.3 L343.7 310.4 L344 311.5 L344.3 312.6 L344.6 314.9 L344.6 317.4 L344.3 320.1 L344 321.3 L343.7 322.9 L343.3 325.6 L343.4 328 L344 330.3 L344 330.4 L344.7 332.3 L345.3 334.5 L345.6 336.9 L345.7 339.3 L345.7 341.8 L345.8 344.3 L346 344.9 L347.4 345.9 L347.7 348.2 L347.9 350.6 L348 350.6 L350 351.6 L350.4 351.7 L352 352 L353.3 352.6 L354 352.9 L355.8 353.8 L356 353.8 L358 354 L360 353.9 L360 353.9 L362 353.6 L364 353.3 L366 353 L366.5 352.9 L368 352.8 L370 352.4 L372 351.5 L374 350.2 L376 348.6 L378 346.9 L379.8 345.6 L380 345.4 L380.7 345.1 L382 344.4 L384 344 L386 344 L387.3 343.9 L388 345 L389.7 345.2 L388 346.6 L386 349 L384.9 350.3 L384 351 L382 352.7 L380 354.2 L378 355.5 L376 356.5 L374 357.2 L372 357.8 L370 358.8 L368 360.3 L366 362.4 L365 363.7 L364 364.8 L362 367 L360.1 368.9 L360 369 L358 370.9 L356 372.8 L354 374.6 L353.8 374.8 L352 377.3 L351.1 378.8 L350 381.3 L349.7 382.1 L348.7 385.1 L348 387 L347.6 388.3 L346.2 391.5 L346 392.1 L345.3 394.5 L344.5 397.5 L344 399.8 L343.9 400.3 L343.4 403 L342.6 406 L342 407.8 L341.6 409 L341 411.9 L341.2 414.2 L342 415.7 L342.3 416.2 L343.6 417.9 L344 418.6 L344.7 419.8 L345.4 422 L345.5 424.4 L345.2 427.1 L344.6 429.9 L344 431.8 L343.7 432.9 L342.8 435.9 L342 438.8 L342 438.8 L341.7 441.5 L341.7 444 L341.6 446.5 L341.3 449.2 L340.7 452 L340 454.3 L339.8 455.1 L338.7 458.2 L338 460.6 L337.9 461.1 L338 461.7 L338.4 463.3 L340 464.9 L340 465 L341.4 466.7 L342 468.2 L342.2 468.7 L342.9 470.8 L343.3 473.1 L343.4 475.6 L343.2 478.2 L342.7 480.9 L342 483.7 L342 483.8 L341.5 486.6 L341.5 489.1 L341.6 491.6 L341.7 494 L341.7 496.5 L341.9 498.9 L342 499.4 L342.3 501.1 L342.7 503.5 L342.6 506 L342 508.8 L342 508.9 L341.4 511.7 L340.8 514.5 L340.6 517.1 L340.6 519.6 L340.7 522.1 L340.4 524.7 L340 526.5 L339.8 527.6 L338.8 530.6 L338 533.1 L337.8 533.7 L336.8 536.7 L336.4 539.4 L337 541.6 L338 543.5 L338 543.5 L339.1 545.4 L339.9 547.5 L340 548.4 L340.2 549.8 L340 551.3 L339.9 552.5 L339.2 555.4 L338.7 558.2 L338.9 560.5 L339.7 562.6 L340 563.3 L340.5 564.7 L340.9 566.9 L340.7 569.6 L340 571.7 L339.7 572.6 L338.3 575.8 L338 576.5 L336.2 579.5" fill="none" stroke="#326ef0" stroke-width="0.9" stroke-linejoin="round" opacity="0.8"/>
<path d="M330.8 270 L332 268.1 L334 267 L335.4 267.4 L336 267.6 L337.4 268.8 L338 269.6 L338.7 270.7 L339.5 272.7 L340 274.9 L340 275 L340.6 277.1 L341 279.4 L341.2 281.8 L341.3 284.2 L341.4 286.7 L341.4 289.1 L341.4 291.7 L341.3 294.2 L340.9 296.9 L340.3 299.8 L340 300.8 L339.6 302.7 L339 305.5 L339 308 L339.9 310 L340 310.1 L341.2 311.8 L342 313.8 L342 313.8 L342.4 316.1 L342.4 318.6 L342 320.5 L341.8 321.4 L341 324.4 L340.4 327.2 L341.1 329.3 L342 330.8 L342.2 331.2 L343.2 333.2 L343.8 335.4 L344 337.7 L344 337.7 L344.1 340.1 L344 342.7 L344 342.7 L344 345.3 L344 345.5 L344.7 347.3 L345.3 349.5 L345.9 351.7 L346 351.8 L347.5 353.3 L348 353.9 L349.5 354.7 L350 355 L352 355.8 L352 355.8 L354 356.5 L354.9 356.8 L356 357 L358 357.1 L358.8 357.1 L360 357.1 L362 357.2 L363 357.3 L364 359.3 L362.8 362.4 L362 363.6 L360 366.3 L359.7 366.6 L358 368.3 L356 370.1 L354 371.8 L353 372.8 L352 373.9 L350 376.8 L349.9 377 L348.6 380.2 L348 381.8 L347.6 383.2 L346.7 386.2 L346 388 L345.6 389.3 L344.4 392.5 L344 393.5 L343.4 395.6 L342.4 398.6 L342 400.1 L341.6 401.5 L340.6 404.6 L340 406 L339.2 407.9 L338 410.8 L337.9 411.1 L337.2 413.9 L337.5 416.3 L338 416.9 L338.9 418 L340 419 L340.6 419.6 L342 421.3 L342 421.3 L343 423.3 L343.4 425.6 L343.2 428.2 L342.6 431 L342 432.7 L341.6 434.1 L340.3 437.2 L340 438.3 L339.2 440.4 L338.8 443.1 L338.9 445.5 L339 448 L338.6 450.7 L338 452.8 L337.7 453.7 L336.2 457 L336 457.5 L334.2 460.6 L334 461 L332 463.8 L330 464.6 L328.5 463.7 L328 463.5 L327.1 462 L326.5 459.8 L326.5 457.3 L326.8 454.7 L327.4 451.8 L327.9 449.1 L327.6 446.8 L326.5 444.9 L326 444.2 L325.3 443 L324.6 440.9 L324.3 438.6 L324.3 436 L324.8 433.3 L325.7 430.3 L326 429.4 L326.8 427.2 L328 424 L328 423.9 L328.6 421.2 L328.2 418.9 L328 418.6 L327.1 417 L326 415.1 L326 415.1 L324.9 413.2 L324.2 411.1 L324 410.8 L323.2 409.2 L322.2 407.2 L322 407 L320.7 405.5 L320 404.3 L319.5 403.7 L318.4 401.8 L318 400.6 L317.5 399.8 L316.4 397.9 L316 397.5 L314 396.9 L313.4 397 L312 397.5 L310 398.4 L308 399.4 L306 400.3 L304 401 L302 401.7 L300 402.4 L298 403.2 L296.6 403.7 L296 404 L294 404.7 L292 405.3 L290 406 L288 407 L286 408.1 L284 409.1 L282 410.1 L280 411 L278 411.9 L276 412.9 L274 413.8 L273.2 414.1 L272 414.6 L270 415.3 L268 415.8 L266 415.8 L265.7 415.7 L265.8 413.2 L266 412.8 L268 409.7 L268.2 409.4 L270 407.3 L272 405.2 L273.1 404.2 L274 403.4 L276 402.1 L278 401 L280 400 L282 398.8 L284 397.6 L286 396.3 L288 395 L290 393.7 L292 392.2 L294 390.7 L296 389.3 L297 388.5 L298 387.8 L300 386.4 L302 385 L304 383.6 L306 382.2 L308 380.9 L310 379.5 L312 378.1 L313.4 377.1 L314 376.5 L316 374.2 L317 372.5 L318 370.8 L318.6 369.2 L320 366.2 L320.1 365.9 L321.1 362.8 L322 360.4 L322.2 359.7 L322.4 357.1 L322.3 354.7 L322 352.4 L322 352.3 L321.7 350 L321.9 347.4 L322 346.8 L322.4 344.6 L323.5 341.5 L324 340.3 L324.9 338.2 L325.5 335.4 L325.1 333.1 L324.4 331 L324 328.7 L324 327.1 L324 326.2 L324 326.1 L324.4 323.5 L325.5 320.4 L326 319.4 L327 317.1 L327.8 314.1 L327.6 311.7 L327.1 309.5 L326.5 307.3 L326 305.4 L325.9 305.2 L325.1 303.1 L324.7 300.9 L324.4 298.5 L324.4 296 L324.5 293.4 L324.8 290.8 L325.1 288.1 L325.6 285.4 L326 283.5 L326.2 282.5 L326.9 279.6 L328 276.5 L328 276.4 L329.1 273.4 L330 271.3 Z M402.3 335.7 L404 334.2 L406 332.6 L408 331.2 L410 329.8 L412 328.5 L414 327.3 L416 326.2 L418 325.1 L420 323.9 L422 322.7 L424 321.5 L426 320.4 L428 319.6 L430 319.3 L431.9 319.4 L432 319.7 L432.7 321.5 L432 322.8 L430.3 325.3 L430 325.7 L428 327.6 L426 329.3 L424 330.9 L422 332.4 L421.9 332.4 L420 333.9 L418 335.3 L416 336.5 L414 337.5 L412 338.2 L410.6 338.7 L410 338.8 L408 339.4 L406 340 L404 340.8 L402 341.6 L400 342 L399.9 342.1 L398.9 340.1 L400 338.6 L402 336.1 Z M237.8 428.6 L238 428.3 L240 426.8 L242 426.1 L242.3 426.1 L242 426.4 L240 428 L238 428.6 Z M253.9 419.7 L254 419.5 L254.1 419.6 L254 419.7 Z M328.2 471.4 L330 468.7 L332 467.1 L334 466.7 L335.9 467.2 L336 467.2 L338 467.6 L338.7 468.1 L340 469.5 L340.2 469.8 L341.1 471.8 L341.4 474.1 L341.4 476.6 L341 479.4 L340.2 482.3 L340 482.9 L339.2 485.4 L338.5 488.3 L338.4 490.8 L338.9 493 L339.3 495.3 L339.5 497.7 L339.8 500 L340 501.7 L340.1 502.4 L340.4 504.7 L340.2 507.3 L340 508.4 L339.7 510.1 L339 513 L338.4 515.8 L338.1 518.5 L338 521 L338 521.8 L337.9 523.6 L337.5 526.3 L336.6 529.3 L336 530.7 L334.6 532.9 L334 533.8 L332 534.8 L331.5 534.6 L330 534.2 L329 533.5 L328 532.6 L327.4 531.9 L326.6 529.8 L326.4 527.4 L326.8 524.7 L327.2 522 L327.3 519.4 L327.1 517 L326.8 514.7 L326.4 512.4 L326 510.1 L326 510 L325.6 507.8 L325.5 505.4 L326 503 L326.1 502.6 L326.9 499.6 L327.5 496.8 L327 494.6 L326 493.4 L325.6 492.8 L324.2 491.1 L324 490.8 L323.2 489.2 L322.8 486.9 L322.8 484.3 L323.3 481.6 L324 479.2 L324.2 478.6 L325.7 475.3 L326 474.7 L328 471.6 Z M330.3 550.3 L332 547.9 L334 546.9 L335.3 547.5 L336 548.1 L336.7 549.2 L337 551.6 L336.5 554.4 L336 555.7 L335.3 557.5 L334.3 560.6 L334.6 562.9 L336 564.2 L336.2 564.5 L337.7 566.2 L338 567.2 L338.3 568.3 L338.1 571 L338 571.3 L337 574.1 L336 576.1 L334.8 577.8 L334 578.9 L332 580.1 L330.6 580.1 L330 579.9 L328.6 578.7 L328 577.2 L327.8 576.6 L327.6 574.2 L327.9 571.6 L328 571.3 L328.8 568.6 L329.7 565.6 L329.8 563 L329.1 560.9 L328.5 558.8 L328.3 556.4 L328.8 553.6 L330 550.7 Z" fill="none" stroke="#3caaeb" stroke-width="0.9" stroke-linejoin="round" opacity="0.8"/>
<path d="M332.4 271.6 L334 270.5 L334.2 270.6 L336 271.1 L336.6 271.8 L337.8 273.6 L338 274.1 L338.7 275.7 L339.3 277.8 L339.7 280.1 L340 282.5 L340 283.5 L340.1 284.9 L340.2 287.3 L340.1 289.9 L340 292.4 L340 292.5 L339.8 295 L339.4 297.8 L338.6 300.7 L338 302.6 L337.6 303.8 L336.5 306.8 L336 309.3 L335.9 309.7 L336 310.1 L336.5 311.8 L338 313.2 L338.2 313.4 L339.5 315.2 L340 317.2 L340 317.4 L340 317.9 L339.8 320 L338.8 323.1 L338 324.9 L337 326.6 L336.3 329.5 L338 330.4 L338.3 330.8 L340 331.7 L340.4 332.2 L341.7 334 L342 334.8 L342.5 336.1 L342.9 338.3 L343 340.8 L342.8 343.4 L342.7 346 L343.1 348.2 L343.7 350.4 L344 351.2 L344.7 352.4 L345.8 354.2 L346 354.6 L347.3 355.9 L348 356.9 L348.9 357.5 L350 358.4 L351.1 358.9 L352 359.4 L353.5 360 L354 360.3 L356 361.1 L356 361.1 L357.7 362.7 L356.3 366 L356 366.3 L354 368.3 L352 370.6 L351.8 371 L350 373.4 L349.4 374.8 L348 377.7 L347.9 378.1 L347.1 381 L346.1 384.1 L346 384.3 L345.3 387 L344 390.2 L344 390.3 L343 393.3 L342 395.8 L341.7 396.5 L340.6 399.6 L340 401.1 L339.2 402.9 L338 405.3 L337.4 406.4 L336 409.1 L335.5 409.9 L334 412.9 L333.2 413.6 L332 415.2 L331.2 414.8 L330 414.6 L328.9 413.5 L328 412.6 L327.5 411.8 L326.3 409.9 L326 409.5 L325.2 408.1 L324 406.2 L324 406.2 L322.6 404.5 L322 403.7 L321.2 402.7 L320.2 400.8 L320 400.3 L319.1 398.9 L318.3 396.8 L318 396 L317.1 395 L316 394.3 L314 394.5 L312.3 395.1 L312 395.3 L310 396.4 L308 397.4 L306 398.4 L304 399.1 L302 399.8 L300 400.5 L298 401.3 L296 402 L294.8 402.3 L294 402.4 L292 402.5 L290 402.9 L288 403.8 L286 404.9 L284 406 L282 406.8 L281.7 406.9 L280 407.3 L278 408.1 L276 408.9 L274 409.2 L273.4 409 L274 408.1 L276 406.1 L278 404.8 L280 403.5 L282 401.9 L282.6 401.4 L284 400.5 L286 399.4 L288 398.3 L290 397 L292 395.3 L294 393.4 L295.9 391.6 L296 391.6 L298 389.9 L300 388.4 L302 387 L304 385.6 L306 384.2 L308 382.9 L310 381.7 L312 380.4 L312.8 379.9 L314 378.9 L316 377 L317.5 374.8 L318 374 L319 371.5 L320 369.2 L320.3 368.3 L321.4 365.1 L322 363.7 L322.6 362 L323.6 358.9 L324 356.4 L324 356.2 L324 356 L323.7 353.9 L323.2 351.6 L323 349.2 L323.3 346.6 L324 344.2 L324.2 343.6 L325.6 340.3 L326 339.6 L327.8 336.6 L328 336.1 L329.5 333.2 L328.7 331.1 L328 330.4 L327.4 329.3 L326.9 327.1 L327.1 324.5 L328 321.8 L328.1 321.5 L329.6 318.1 L330 317.1 L330.8 315 L330.9 312.4 L330 310.6 L330 310.4 L328.9 308.5 L328.1 306.5 L328 306.4 L327.1 304.5 L326.4 302.4 L326 300.3 L325.9 300.2 L325.5 297.9 L325.5 295.4 L325.7 292.8 L326 290.4 L326 290.1 L326.4 287.4 L326.9 284.6 L327.6 281.7 L328 280.5 L328.6 278.7 L329.9 275.5 L330 275.3 L332 271.9 Z M414 329.3 L414 329.3 L416 328.1 L418 327 L420 325.9 L422 324.7 L424 323.5 L426 322.5 L426.7 322.3 L428 322.9 L428.6 323.8 L428 324.6 L426 326.9 L424.3 328.6 L424 328.9 L422 330.4 L420 331.8 L418 333.3 L416 334.5 L414 335.4 L412 336 L410.2 336.4 L410 336.3 L408 335.4 L407.6 335.3 L408 334.8 L410 332.5 L412 330.7 Z M331.6 422 L332 421.2 L334 420.2 L334.4 420.5 L336 420.7 L337.2 421.4 L338 421.9 L339.2 422.9 L340 423.9 L340.5 424.7 L341.1 426.8 L341.1 429.3 L340.4 432.2 L340 433.3 L339.1 435.4 L338 437.7 L337.1 439 L336 440.9 L334 443.1 L332 444.2 L330 443.8 L329.4 443.3 L328 442.4 L327.5 441.8 L326.5 439.8 L326.1 437.6 L326.2 435 L326.7 432.2 L327.8 429.1 L328 428.7 L329.4 425.7 L330 424.4 Z M330.8 452.5 L332 449.6 L334 448.5 L334.8 450.3 L334.5 452.9 L334 454.1 L332 456.8 L330.3 455.2 Z M330.3 472.8 L332 471.3 L334 470.4 L334.6 470.4 L336 470.2 L337.9 471.1 L338 471.2 L339.1 472.9 L339.6 475.2 L339.5 477.7 L338.9 480.5 L338 482.9 L337.7 483.7 L336.1 487.1 L336 487.3 L334.3 490.5 L334 493 L332.8 493.9 L334 493.3 L335.2 495.1 L336 495.9 L336.4 496.9 L337 499.1 L337.3 501.4 L337.6 503.8 L337.7 506.2 L337.6 508.8 L337 511.6 L336.1 514.6 L336 514.9 L334.9 517.7 L334.3 520.5 L334.3 523.1 L334.1 525.7 L334 525.9 L332 528.4 L330.5 527.6 L330.2 525.3 L331 522.4 L330.9 519.9 L330.2 517.8 L330 517.2 L329.6 515.6 L329.2 513.4 L328.8 511.1 L328.5 508.8 L328.2 506.4 L328.5 503.8 L329.3 500.8 L330 499 L330.8 497.5 L332 494.3 L331.1 492.3 L330 492.2 L328.6 491.2 L328 491 L326.6 489.8 L326 489 L325.3 488 L324.8 485.8 L324.8 483.3 L325.4 480.5 L326 478.9 L326.8 477.2 L328 475.2 L330 473 Z M331.6 572.1 L332 571 L334 570.1 L334.4 570.5 L334.2 573.1 L334 573.5 L332 574.5 L331.9 574.4 Z" fill="none" stroke="#3cd2e6" stroke-width="0.9" stroke-linejoin="round" opacity="0.8"/>
<path d="M331.2 277.2 L332 275.9 L334 274.5 L335.2 275 L336 275.4 L336.8 276.7 L337.8 278.6 L338 279.2 L338.5 280.8 L338.8 283.1 L339 285.5 L338.9 288 L338.9 290.6 L338.7 293.1 L338.4 295.8 L338 297.4 L337.7 298.7 L336.6 301.8 L336 303.3 L334.7 305.4 L334 306.5 L332 307.3 L331.6 307 L330 305.8 L329.8 305.5 L328.7 303.6 L328 302.2 L327.8 301.6 L327.1 299.5 L326.7 297.2 L326.6 294.8 L326.8 292.2 L327.2 289.5 L327.7 286.7 L328 285.5 L328.5 283.8 L329.5 280.7 L330 279.4 Z M332.5 321.6 L334 319.1 L336 319.6 L336 319.6 L336 319.7 L334.6 322.9 L334 323.6 L332.9 323.8 Z M328 339 L330 336.4 L332 334.6 L334 333.5 L336 333 L338 333.3 L338.2 333.4 L340 334.6 L340.2 334.8 L341.2 336.8 L341.6 339 L341.7 341.5 L341.5 344.1 L341.3 346.7 L341.6 349.1 L342 350.2 L342.4 351.1 L343.5 353 L344 353.9 L344.7 354.8 L345.8 356.7 L346 357.1 L347.2 358.5 L348 360.2 L348.3 360.4 L349.7 362.1 L350 362.7 L351 363.9 L351.3 366.2 L350 369.4 L350 369.4 L348.8 372.6 L348 374.3 L347.6 375.7 L346.8 378.7 L346 380.9 L345.8 381.7 L345.1 384.6 L344 387.6 L344 387.7 L343 390.8 L342 393.1 L341.6 394 L340.2 397.3 L340 397.8 L338.5 400.7 L338 401.8 L336.2 404.5 L336 404.9 L334 407.7 L332 409.3 L330 409.5 L328.8 408.6 L328 408.1 L327.1 407 L326 405.8 L325.6 405.3 L324.1 403.6 L324 403.5 L322.6 402 L322 400.9 L321.4 400.1 L320.4 398.2 L320 396.6 L319.7 396.1 L318.7 394.1 L318 392.4 L317.7 392.2 L316 391.4 L314 392 L312 393.1 L310 394.3 L308 395.5 L306 396.3 L305.1 396.6 L304 396.9 L302 397.3 L300 397.8 L298 398.3 L297.1 398.5 L296 397.6 L295.4 396.9 L296 396 L298 393.1 L298.1 392.9 L300 391.2 L302 389.6 L304 388 L306 386.6 L308 385.2 L310 384 L311.7 383 L312 382.8 L314 381.5 L316 379.7 L317.8 377.1 L318 376.8 L319.1 373.9 L320 372 L320.3 370.7 L321.4 367.6 L322 366.2 L322.6 364.5 L324 361.2 L324 361.1 L324.9 358.2 L325.4 355.5 L325 353.1 L324.6 350.9 L324.4 348.5 L324.8 345.8 L325.9 342.7 L326 342.4 L328 339 Z M330.9 427.4 L332 425.9 L334 424.7 L335.5 424.9 L336 425 L337.5 426.3 L338 427.2 L338.5 428.3 L338.5 430.7 L338 432.7 L337.6 433.7 L336 436.6 L334.9 437.7 L334 438.7 L332 439.7 L331.3 439.7 L330 439.5 L328.9 438.5 L328.2 436.4 L328.3 433.9 L329.1 430.9 L330 428.8 Z M331.5 474.6 L332 474.1 L334 473.2 L334 473.2 L336 473.5 L336.8 474.2 L337.6 476.3 L337.4 478.9 L336.5 481.9 L336 482.9 L334.4 485.5 L334 486.1 L332 487.9 L330 488.2 L329.7 488.1 L328 487 L327.7 486.7 L326.9 484.6 L327 482.1 L328 479 L328 479 L330 476 Z" fill="none" stroke="#5adcbe" stroke-width="0.9" stroke-linejoin="round" opacity="0.8"/>
<path d="M331.1 282.3 L332 280.7 L334 279.4 L335.3 280 L336 280.5 L336.6 281.8 L337.1 284 L337.3 286.4 L337.2 288.9 L337.1 291.5 L336.8 294.2 L336.3 296.9 L336 298.1 L335.1 300.1 L334 302 L332 302.9 L331.1 302.3 L330 301.5 L329.5 300.7 L328.6 298.7 L328.1 296.4 L328.1 294 L328.4 291.3 L328.9 288.5 L329.7 285.6 L330 284.5 Z M327.8 341.6 L328 341.3 L330 338.6 L332 336.9 L334 335.7 L336 335.2 L338 335.6 L338.4 335.8 L339.7 337.6 L340 338.7 L340.3 339.8 L340.4 342.2 L340 344.9 L340 345.2 L339.8 347.6 L340 349.4 L340.1 349.9 L341.2 351.8 L342 353.1 L342.3 353.6 L343.6 355.4 L344 356.2 L344.8 357.3 L345.8 359.2 L346 359.9 L346.9 361.2 L347.7 363.2 L348 365 L348.2 365.4 L348.4 367.8 L348 369.5 L347.9 370.6 L347.3 373.4 L346.4 376.4 L346 377.6 L345.7 379.3 L344.9 382.2 L344 384.9 L343.9 385.3 L343 388.3 L342 390.7 L341.7 391.5 L340.3 394.8 L340 395.4 L338.5 398.2 L338 399.2 L336 402.1 L335.8 402.2 L334 404.5 L332 405.8 L330 405.9 L329.6 405.7 L328 405 L327.3 404.4 L326 403.3 L325.5 402.9 L324.1 401.2 L324 401.1 L322.6 399.5 L322 398.1 L321.6 397.5 L320.7 395.5 L320.1 393.4 L320 392.9 L319.1 391.4 L318.2 389.4 L318 388.6 L316.6 387.8 L316 386.6 L314 387.2 L312 389.2 L310 391.2 L308 392.4 L306 392.1 L305.2 391.5 L306 390.6 L308 388.8 L310 387.5 L312 386.8 L314 386.2 L316 384.5 L316.5 382.8 L318 380.3 L318.2 379.4 L319.3 376.3 L320 374.7 L320.4 373.2 L321.4 370.2 L322 368.6 L322.5 367.1 L323.8 363.8 L324 363.3 L325.1 360.6 L326 358.4 L326.4 357.4 L326.9 354.6 L326.6 352.3 L326.1 350.1 L326 348.6 L325.9 347.7 L326 347.2 L326.4 344.9 Z M332 431.8 L332 431.8 L334 430.5 L334.1 430.7 L334 433.2 L334 433.2 L334 433.2 L332 432.6 Z M330 480.4 L330 480.4 L332 477.6 L334 477.1 L334.7 477.8 L334.5 480.4 L334 481.6 L332 483.9 L330 483.3 L329.8 483 Z" fill="none" stroke="#82e696" stroke-width="0.9" stroke-linejoin="round" opacity="0.8"/>
<path d="M331.4 292.2 L332 289.5 L333.1 291.2 L332.9 293.8 L332 295.9 L331.4 294.7 Z M330.7 340 L332 338.7 L334 337.6 L335.5 337.4 L336 337.3 L338 338.5 L338 338.5 L338.8 340.6 L338.9 343 L338.5 345.7 L338 348.5 L338.4 350.8 L339.7 352.6 L340 352.9 L341.2 354.3 L342 355.3 L342.6 356 L343.7 357.9 L344 358.5 L344.8 359.8 L345.6 361.8 L346 363.4 L346.3 364 L346.9 366.2 L347 368.6 L346.7 371.3 L346 373.9 L346 374.2 L345.5 376.9 L344.7 379.8 L344 382 L343.8 382.8 L343 385.8 L342 388.3 L341.8 388.9 L340.5 392.2 L340 393.2 L338.8 395.6 L338 397.1 L336.2 399.5 L336 399.8 L334 402 L332 403.3 L330 403.4 L329.6 403.2 L328 402.7 L327.1 402 L326 401.1 L325.3 400.5 L324 398.8 L323.9 398.7 L322.7 396.9 L322 395.2 L321.9 394.9 L321 392.9 L320.4 390.7 L320 388.8 L319.8 388.5 L319.1 386.4 L318.8 384.1 L319 381.4 L319.9 378.5 L320 378.1 L320.5 375.6 L321.4 372.6 L322 371.1 L322.4 369.6 L323.5 366.5 L324 365.3 L324.8 363.3 L326 360.8 L326.5 359.9 L328 356.7 L328.2 356.4 L328.9 353.5 L328.3 351.3 L328 350.3 L327.7 349.2 L327.5 346.8 L328 344.6 L328.2 343.9 L330 340.8 Z" fill="none" stroke="#b9e45f" stroke-width="0.9" stroke-linejoin="round" opacity="0.8"/>
<path d="M330.9 342.4 L332 341.1 L334 339.9 L335.4 340 L336 340.3 L336.9 341.6 L337 344.1 L336.4 346.9 L336 348.3 L335.1 350.1 L336 351.8 L336.1 352.1 L338 353.5 L338 353.5 L339.8 355 L340 355.2 L341.4 356.6 L342 357.5 L342.7 358.4 L343.7 360.4 L344 361.2 L344.6 362.4 L345.3 364.5 L345.7 366.8 L345.7 369.3 L345.6 371.9 L345.1 374.6 L344.4 377.5 L344 378.9 L343.7 380.4 L342.9 383.3 L342 385.8 L341.8 386.4 L340.6 389.6 L340 391 L339.1 392.9 L338 395 L336.8 396.7 L336 397.8 L334 399.9 L332 401 L330 401.2 L329.2 400.9 L328 400.5 L326.9 399.6 L326 398.9 L325.2 398.1 L324 396.4 L323.9 396.3 L322.8 394.4 L322.1 392.3 L322 391.8 L321.4 390.2 L320.8 388 L320.4 385.7 L320.3 383.2 L320.4 380.7 L320.8 378 L321.6 375.1 L322 373.8 L322.4 372.1 L323.4 369.1 L324 367.5 L324.6 365.9 L326 362.8 L326.1 362.5 L328 359.1 L328.1 358.9 L330 355.8 L330.7 355 L331.8 351.9 L330.8 350 L330 348.8 L329.7 348.1 L329.5 345.7 L330 344.2 Z" fill="none" stroke="#ebe146" stroke-width="0.9" stroke-linejoin="round" opacity="0.8"/>
<path d="M330.8 357.5 L332 356.1 L334 354.9 L335.2 355.1 L336 354.9 L338 355.7 L338.2 355.9 L340 357.3 L340.1 357.4 L341.6 359.1 L342 359.8 L342.8 360.9 L343.6 362.9 L344 364.7 L344.2 365.1 L344.7 367.4 L344.8 369.8 L344.5 372.4 L344 375 L344 375.2 L343.5 378 L342.7 380.9 L342 383 L341.7 384 L340.6 387.1 L340 388.5 L339.2 390.4 L338 392.7 L337.1 394 L336 395.7 L334 397.7 L332 398.9 L330 399 L328.8 398.6 L328 398.3 L326.7 397.2 L326 396.6 L325.1 395.6 L324 393.7 L324 393.7 L323 391.8 L322.4 389.6 L322 387.3 L322 387.3 L321.6 385.1 L321.4 382.6 L321.6 380.1 L322 377.7 L322 377.3 L322.5 374.5 L323.3 371.6 L324 369.8 L324.4 368.5 L325.8 365.2 L326 364.8 L327.6 361.8 L328 361 L330 358.2 Z" fill="none" stroke="#fabe32" stroke-width="0.9" stroke-linejoin="round" opacity="0.8"/>
<path d="M329.7 360.6 L330 360.2 L332 358.2 L334 357.2 L335.8 357.2 L336 357.2 L338 357.8 L338.5 358.2 L340 359.4 L340.3 359.8 L341.6 361.6 L342 362.5 L342.6 363.5 L343.2 365.6 L343.6 368 L343.7 370.4 L343.5 373 L343 375.8 L342.3 378.6 L342 379.8 L341.5 381.6 L340.5 384.7 L340 385.8 L339.1 387.9 L338 390.2 L337.2 391.5 L336 393.4 L334 395.4 L332 396.5 L330 396.7 L328.7 396.1 L328 395.9 L326.7 394.8 L326 394.1 L325.2 393.1 L324.2 391.1 L324 390.5 L323.4 389 L322.8 386.9 L322.5 384.5 L322.5 382.1 L322.6 379.5 L322.9 376.8 L323.5 374 L324 372.6 L324.4 371 L325.6 367.8 L326 366.9 L327.2 364.5 L328 362.9 Z" fill="none" stroke="#fa8c28" stroke-width="0.9" stroke-linejoin="round" opacity="0.8"/>
<path d="M329.2 363.4 L330 362.2 L332 360.3 L334 359.4 L336 359.4 L336.2 359.5 L338 360.1 L338.7 360.6 L340 362 L340.3 362.3 L341.4 364.2 L342 366.2 L342 366.3 L342.5 368.6 L342.6 371 L342.3 373.7 L342 375.2 L341.8 376.4 L341.1 379.3 L340.1 382.4 L340 382.7 L338.8 385.6 L338 387.4 L336.9 389.1 L336 390.7 L334 392.8 L332 394 L330 394.1 L328.8 393.6 L328 393.3 L326.8 392.2 L326 391.2 L325.5 390.4 L324.6 388.4 L324 386.2 L324 385.9 L323.6 383.9 L323.5 381.5 L323.6 378.9 L324 376.8 L324.1 376.2 L324.6 373.4 L325.6 370.3 L326 369.4 L327 367.1 L328 365.1 Z" fill="none" stroke="#f55a23" stroke-width="0.9" stroke-linejoin="round" opacity="0.8"/>
<path d="M329 365.9 L330 364.5 L332 362.6 L334 361.8 L336 361.8 L336.3 362 L338 362.7 L338.6 363.2 L339.9 365 L340 365.1 L340.8 367 L341.2 369.2 L341.3 371.7 L341 374.4 L340.4 377.2 L340 378.6 L339.5 380.2 L338.3 383.4 L338 384.1 L336.4 386.9 L336 387.5 L334 389.9 L332 391.1 L330 391.3 L329.1 390.9 L328 390.4 L327.1 389.5 L326 387.7 L326 387.6 L325.2 385.6 L324.8 383.3 L324.6 380.9 L324.8 378.3 L325.2 375.6 L325.9 372.6 L326 372.5 L327.1 369.5 L328 367.6 Z" fill="none" stroke="#e62d1e" stroke-width="0.9" stroke-linejoin="round" opacity="0.8"/>
<path d="M329.4 368.3 L330 367.2 L332 365.3 L334 364.5 L335.9 364.7 L336 364.7 L338 366 L338 366 L339.1 367.9 L339.7 370.1 L339.7 372.6 L339.3 375.3 L338.5 378.2 L338 379.8 L337.3 381.4 L336 383.9 L335 385.1 L334 386.4 L332 387.8 L330 388 L329.9 388 L328 386.9 L327.8 386.6 L326.7 384.7 L326.2 382.5 L326 380.1 L326.1 377.5 L326.6 374.8 L327.5 371.8 L328 370.7 Z" fill="none" stroke="#c81919" stroke-width="0.9" stroke-linejoin="round" opacity="0.8"/>
<path d="M338.6 135.9 L337.9 138.2 L337.5 141.3 L336.3 143.3 L334.9 146 L333.5 147.6 L331.8 148.1 L330.3 147.8 L328.8 147.1 L327.6 146.1 L326.7 144.5 L326.8 142 L327 139.2 L327.8 136.6 L328.3 133.6 L329.8 132 L331.5 130.2 L333.5 129 L334.7 128.9 L336 129.6 L337.5 131.1 L338.1 133 Z" fill="none" stroke="#2323a5" stroke-width="0.95" opacity="0.85" stroke-linejoin="round"/>
<path d="M334.1 138.7 L333.8 140.7 L332.6 142.1 L331 142.2 L330.9 140.2 L331.1 138.5 L332.2 136.9 L333.6 137.6 Z" fill="none" stroke="#2a2ac4" stroke-width="0.95" opacity="0.85" stroke-linejoin="round"/>
<path d="M338.6 156.1 L338.7 159.4 L337.5 162.2 L336.3 165 L335 167.3 L333.2 168.7 L331.4 170.1 L330.4 170.2 L328.4 169.4 L326.8 168.5 L326.4 165.8 L326.6 163.3 L326.9 160.1 L327 157 L328.3 154.6 L330.2 152.3 L331.6 150.2 L333.2 149.8 L334.9 149.9 L336 150.4 L337.8 151.8 L338 154.5 Z" fill="none" stroke="#2323a5" stroke-width="0.95" opacity="0.85" stroke-linejoin="round"/>
<path d="M341.3 191.8 L340.2 198.2 L339.7 204.9 L337.6 210.5 L335.8 214.4 L333.9 218.7 L331.3 219.6 L329 218.7 L327.2 216.1 L325.2 212.7 L324.6 206.8 L324.3 200.2 L324.2 193.5 L325.3 187.7 L327.6 182.6 L329.4 178.3 L331.4 173.7 L333.7 172.4 L335.8 172.8 L337.5 176.2 L340.1 178.6 L340.5 184.9 Z" fill="none" stroke="#2323a5" stroke-width="0.95" opacity="0.85" stroke-linejoin="round"/>
<path d="M338.3 193.6 L338.1 199.1 L337.2 204.9 L336.8 211.4 L334.7 214.1 L333.3 217.2 L331.4 218 L329.9 216.8 L328.6 215.3 L327.3 211.5 L326.2 206.6 L326 200.6 L326.7 194.5 L327.7 188.7 L328.4 183.2 L329.9 178.7 L331.5 176.3 L333.4 176.9 L335.1 176.9 L336.8 179.5 L337.9 182.7 L338.6 188.3 Z" fill="none" stroke="#2a2ac4" stroke-width="0.95" opacity="0.85" stroke-linejoin="round"/>
<path d="M334.5 185.8 L333.8 188.3 L332.8 189.5 L331.1 189.5 L330.3 188.2 L330.6 185.7 L332.5 183.9 L333.9 184.4 Z" fill="none" stroke="#2c46de" stroke-width="0.95" opacity="0.85" stroke-linejoin="round"/>
<path d="M339.8 227.7 L339.8 231.1 L338.4 234.9 L337 238 L336 241 L333.3 242.7 L331.9 243.8 L329.5 244.3 L328.1 243.3 L326.9 241.2 L325.6 238.6 L325.1 235.8 L325.6 232.5 L326.6 228.3 L328.1 226 L329.7 222.1 L331.7 221.9 L333.5 219.5 L335.3 220.4 L337.2 220.4 L338.5 222.4 L339.2 224.6 Z" fill="none" stroke="#2323a5" stroke-width="0.95" opacity="0.85" stroke-linejoin="round"/>
<path d="M337.8 229.3 L337.3 231.7 L336.8 234.7 L335.5 236.7 L334.2 239.6 L333.3 240.2 L332.1 241.5 L330.5 241.3 L329.1 240.6 L328.3 239.3 L327.6 237.5 L327.6 235 L327.6 232 L328.2 229.1 L328.9 227 L330.3 225.3 L331.5 223.7 L333 222.3 L334.4 222.9 L335.8 224 L336.5 224.7 L337.4 226.6 Z" fill="none" stroke="#2a2ac4" stroke-width="0.95" opacity="0.85" stroke-linejoin="round"/>
<path d="M333.5 233.7 L332.9 234.7 L331.9 235.3 L331.8 234.6 L332.1 232.9 L332.8 233.2 Z" fill="none" stroke="#2c46de" stroke-width="0.95" opacity="0.85" stroke-linejoin="round"/>
<path d="M752.8 720.2 L754.5 720.6 L756.5 721.1 L758.4 721.6 L760.6 722 L762.9 722.3 L765.4 722.5 L768 722.7 L770.8 722.8 L773.7 722.8 L776.8 722.7 L779.2 722.5 L780 722.5 L783.3 722.3 L786.7 722 L787.9 721.9 L790 721.8 L793.1 721.7 L796.3 721.5 L797.8 721.4 L799.9 721.1 L803.1 720.5 L804.6 720.1 L807.1 719.5 L810.1 718.7 L811.3 718.4 L815.1 717.6 L815.7 717.4 L819.7 716.4 L821 715.9 L822.7 715.3 L824.9 714.1 L826.7 712.8 L826.9 712.7 L828.4 711.6 L829.9 710.3 L831 709 L831.1 708.8 L831.1 707.6 L831 707.2 L830.4 706.1 L830.3 706 L829.6 704.8 L829.6 704.7 L828.9 703.6 L828.5 703.2 L828 702.5 L826.8 701.6 L826.8 701.6 L825.4 700.7 L824 700 L824 699.9 L823 698.9 L821.8 698.4 L821.4 698.2 L819.1 697.9 L816.4 697.8 L814.3 697.7 L813.6 697.7 L811 697.5 L808.5 697.3 L805.9 697.1 L802.9 697.2 L799.5 697.5 L798.3 697.6 L795.9 697.9 L792.5 698.1 L790 698.3 L789.2 698.3 L785.9 698.6 L782.5 699 L782.1 699.1 L778 699.8 L777 699.9 L773.6 700.6 L772 700.9 L768.5 701.8 L767.9 701.9 L764.4 703 L761.6 703.9 L761.1 704.1 L757.6 705.2 L754.5 706.3 L753 707.1 L752.2 707.5 L752.1 707.6 L750.8 708.8 L749.7 710.1 L749.2 710.7 L748.7 711.4 L747.9 712.7 L747.8 713.2 L747.2 714.1 L746.7 715.3 L746.7 715.4 L747 716.7 L747.1 716.9 L748 717.8 L748.8 718.4 L749.2 718.7 L750.7 719.5 L752.5 720.1 Z M625.9 706 L627.1 706.2 L629.5 706.5 L631.9 706.8 L634.3 707 L636.9 707.2 L639.7 707.2 L640 707.2 L643.3 706.9 L646.5 706.4 L647.3 706.3 L651.5 705.5 L651.8 705.4 L655.5 704.4 L658.4 703.3 L659 703 L661.2 702.1 L664 701 L666.3 699.8 L667.2 698.5 L667.2 698.5 L666 697.6 L664.2 697 L663.1 696.7 L662.2 696.5 L660.2 696 L658 695.6 L655.9 695.2 L653.8 694.7 L652.4 694.3 L651.9 694.2 L649.7 693.8 L647 693.7 L646.1 693.8 L643.7 693.9 L640.3 694.2 L637.3 694.4 L637 694.4 L633.8 694.6 L630.2 695 L629.6 695.1 L625.6 695.9 L624.9 696.1 L621.9 697.2 L619.8 698.4 L618.8 699.6 L618.8 699.7 L618.9 701.1 L618.9 701.2 L619.6 702.4 L619.8 702.6 L620.7 703.4 L621.9 704.2 L622 704.3 L623.4 705.1 L625 705.8 Z M834.3 688.3 L835.2 689 L837.7 689.2 L840.9 689.1 L841.9 689 L844.3 688.8 L847.9 688.4 L849.9 688.3 L851.1 688.2 L853.5 688.5 L854.1 688.7 L855.4 689.1 L857.4 689.5 L860.5 689.4 L861.1 689.3 L865 688.2 L866 688 L869 687.2 L871.7 686.5 L872.9 686.1 L875.9 685 L878.2 683.8 L879.5 682.5 L879.5 682.2 L879 681.1 L878.8 681 L877.2 680.3 L875.7 679.5 L875.5 679.4 L874.1 678.8 L872.4 678.1 L870.3 677.7 L867.3 677.7 L864.5 677.7 L862.1 677.4 L859.8 677.1 L857.4 676.8 L854.4 676.8 L851.2 677.2 L850.8 677.3 L846.5 678 L845.8 678.1 L842.7 678.5 L840.1 678.4 L838.7 677.5 L838.7 677.5 L837.5 676.6 L835.3 676.2 L831.7 676.6 L830.9 676.8 L828.6 678 L828.3 678.5 L827.9 679.3 L827.7 680.4 L827.7 680.7 L826.9 682 L825.7 683.1 L825.4 683.3 L824 684.6 L823.3 685.9 L823.3 686 L824.9 686.7 L827.4 686.9 L830.2 687 L832.5 687.3 L833.9 688.1 Z M695.4 673 L695.9 673.2 L697.6 673.8 L700.2 674 L703.4 673.8 L704.2 673.8 L707.1 673.4 L710.6 673.1 L711.5 673 L714.1 672.8 L717.6 672.2 L718.4 672 L721 671.1 L723.5 669.9 L726.1 668.7 L728.9 667.6 L731.2 666.4 L731.6 665 L731.4 664.8 L729.9 664.1 L729 663.4 L728.7 663.1 L728.1 661.9 L728.1 661.9 L726.6 661.1 L724.3 660.8 L721.8 660.6 L719.3 660.4 L716.8 660.1 L714.4 659.9 L711.9 659.6 L709.2 659.5 L705.7 659.9 L705.5 660 L702.1 661 L699.8 661.5 L697 661.5 L695.3 660.8 L693.8 660.2 L693.6 660.2 L691.9 660.1 L690.9 660 L686.8 660.7 L685.9 660.9 L682.8 662.1 L680.5 663.2 L678.6 664.5 L677.6 665.8 L677.6 665.8 L677.5 667.2 L677.5 667.4 L678.3 668.6 L678.7 668.7 L680.4 669 L682.8 669.3 L685 669.6 L687.1 670.1 L689.3 670.5 L691.4 670.9 L692.4 671.3 L693 671.6 L694.5 672.4 Z M350.2 594.3 L352 594.7 L354.1 595.2 L356.2 595.6 L358.4 596 L360.8 596.3 L363.3 596.5 L366 596.6 L368.9 596.6 L371.8 596.5 L374.7 596.6 L375.1 596.6 L377.5 596.6 L380.4 596.6 L383.4 596.5 L386.5 596.4 L388.4 596.4 L389.6 596.3 L392.9 596.1 L396.5 595.8 L396.8 595.7 L400.3 595.2 L403.1 594.9 L404.1 594.8 L407.8 594.3 L409.4 594 L412.1 593.5 L414.1 593.1 L417.7 592.1 L417.9 592 L420.9 590.9 L423.2 589.7 L424.8 588.4 L425 588 L425.5 587.1 L425.6 586.1 L425.6 585.7 L425.1 584.8 L424.7 584.2 L424.1 583.7 L422.9 582.8 L422.7 582.6 L421.5 582 L419.8 581.4 L417.9 580.8 L417.9 580.8 L416 580.2 L414.2 579.6 L412.3 579.1 L410.7 578.8 L410.2 578.6 L408.1 578.2 L405.7 577.9 L403.3 577.7 L400.9 577.4 L398.5 577.1 L396.2 576.8 L393.7 576.6 L390.9 576.5 L388 576.5 L386 576.5 L385.1 576.5 L382.3 576.5 L379.5 576.4 L376.4 576.5 L373.1 576.8 L373 576.8 L369.8 577 L366.4 577.2 L364.3 577.4 L363.1 577.5 L359.8 577.7 L356.5 577.9 L355.6 578 L352.8 578.4 L350 578.9 L348 579.4 L346 579.9 L342.9 581.1 L340.5 582.2 L338.5 583.5 L337 584.7 L336.4 585.8 L336.2 586.1 L335.8 587.4 L335.8 587.7 L336.1 588.9 L336.3 589 L337.4 590 L338.1 590.4 L338.8 590.8 L340.5 591.5 L342.3 592.1 L342.9 592.3 L344.1 592.7 L345.9 593.3 L347.8 593.8 L349.9 594.3 Z M656.4 542 L653.7 543.2 L651.1 544.3 L648.5 545.5 L645.9 546.7 L643.3 547.9 L641.2 548.9 L640.8 549 L638.6 550.2 L637.7 550.8 L636.6 551.4 L634.6 552.7 L632.5 553.9 L630.4 555.1 L628.4 556.3 L626.5 557.5 L624.5 558.8 L622.6 560 L620.6 561.2 L618.5 562.4 L616.1 563.6 L613.7 564.8 L611.4 566 L609.3 567.2 L607.2 568.4 L605.2 569.6 L603.2 570.9 L601.4 572.1 L599.5 573.3 L599.4 573.4 L597.5 574.5 L595.3 575.7 L593.2 577 L591.2 578.2 L589.2 579.4 L587 580.6 L584.6 581.8 L582 583 L582 583 L579.2 584.1 L576.3 585.2 L573.2 586.4 L572.7 586.5 L569.4 587.4 L567.3 587.9 L564.5 588.4 L563.1 588.6 L559.5 589 L557.4 589.1 L556.1 589.2 L552.9 589.4 L549.6 589.6 L548.4 589.7 L546.2 589.9 L542.7 590.2 L540.5 590.4 L539.2 590.5 L535.6 590.9 L533.6 591.2 L531.9 591.4 L528.2 591.8 L526.5 592 L524.9 592 L521.9 592.1 L518.9 592.2 L515.8 592.3 L515 592.3 L512.7 592.4 L509.7 592.4 L506.6 592.5 L503.6 592.6 L502.2 592.6 L500.8 592.5 L498.2 592.4 L495.5 592.3 L492.9 592.1 L490.4 591.9 L487.7 591.8 L485 591.7 L481.9 591.8 L479.7 592 L478.4 592.1 L474.4 592.9 L472.8 593.6 L471.8 594.1 L471.7 594.2 L471.4 595.4 L471.8 595.8 L473.3 596.5 L475.3 597 L477.2 597.3 L477.5 597.4 L479.6 597.8 L481.7 598.3 L483.7 598.8 L485.8 599.2 L487.9 599.6 L488.8 599.8 L490 600.1 L491.8 600.7 L493.4 601.4 L493.8 601.6 L493.5 602.9 L493.5 603 L492.5 604.3 L492.2 605.3 L492.1 605.7 L492.4 606.7 L492.7 607.1 L493.4 607.8 L494.6 608.7 L494.6 608.7 L495.7 609.7 L496.3 610.3 L496.7 610.7 L497.9 611.7 L498.2 611.8 L499.2 612.5 L500.7 613.3 L500.9 613.5 L501.7 614.3 L502.5 615 L502.8 615.4 L504 616.3 L504.6 616.6 L505.4 617.1 L506.7 618 L507.1 618.2 L507.8 619 L508.3 619.7 L508.4 620.2 L508.6 621.2 L508.4 621.8 L508.3 622.5 L507.8 623.7 L507.7 623.9 L506.7 625.2 L505.1 626.5 L503.4 627.7 L502.9 628 L501.4 628.9 L499.1 630.1 L498.8 630.3 L496.7 631.3 L494.3 632.5 L491.9 633.7 L489.5 634.9 L487.4 636.1 L485.5 637.3 L484.9 637.9 L484.3 638.6 L483.1 639.9 L482.4 640.8 L482.2 641.2 L480.6 642.5 L477.9 643.3 L477.2 643.6 L473.8 644 L470.4 644.3 L470 644.3 L467.4 644.3 L464.6 644.2 L461.9 644.2 L459.2 644 L456.6 643.9 L453.9 643.8 L451.3 643.6 L448.5 643.5 L446.4 643.6 L445.3 643.7 L441 644.5 L441.8 645.7 L442.5 646 L443.5 646.3 L445.8 646.7 L448 647 L450.3 647.3 L452.6 647.7 L455 647.9 L457.4 648.2 L459.7 648.6 L461.8 649 L463.6 649.3 L463.9 649.4 L465.8 650 L467.6 650.6 L468.9 651.2 L468.8 651.5 L468.3 652.6 L466.6 653.8 L465.8 654.8 L465.6 655.1 L464.3 656.4 L462.3 657.6 L461.2 658.9 L461.2 658.9 L460.8 660.3 L459 661.5 L458.3 662.1 L457.3 662.8 L457.1 664.2 L456.9 664.4 L456.2 665.5 L453.6 666.6 L452.1 667.9 L451.8 668.8 L451.8 669.3 L449.9 670.5 L447.5 671.7 L446.8 673 L446.8 673.2 L446.3 674.4 L443.7 675.6 L442.1 676.8 L442 677.4 L442.1 678.2 L440.9 679.5 L438.4 680.7 L438.2 681 L437.8 682 L437.9 682.8 L438.3 683.5 L436.3 684.7 L434.6 685.9 L434.6 686.2 L434.9 687.4 L434.7 687.7 L434.4 688.7 L432 689.9 L431 691.2 L431.1 691.3 L431.6 692.6 L431.7 692.7 L433 693.5 L435.8 693.1 L436.8 692.9 L440.5 692.1 L442.3 691.5 L444.1 691 L447 689.9 L449.8 689 L450.5 688.8 L454 687.7 L457.1 686.6 L457.3 686.5 L460.2 685.5 L463.6 684.4 L464.8 683.9 L466.9 683.3 L469.9 682.1 L472.8 681.2 L473.2 681 L476.5 679.9 L479.6 678.8 L481 678.2 L482.5 677.7 L485.5 676.5 L488.6 675.4 L490.1 674.9 L491.7 674.3 L494.8 673.2 L497.9 672 L498.4 671.9 L501 670.9 L504.2 669.8 L506.7 668.9 L507.3 668.7 L510.4 667.6 L513.5 666.4 L515.1 665.8 L516.7 665.3 L519.8 664.2 L522.8 663.1 L524.1 662.5 L525.7 661.9 L528.6 660.8 L531.6 659.7 L533.1 659.2 L535 658.6 L538 658.1 L540.3 657.6 L541.8 657.5 L545.2 657.3 L548.5 657.1 L549 657 L551.6 657 L554.4 657 L557.1 657.1 L559.7 657.3 L562.3 657.5 L564.9 657.6 L567.5 657.8 L570.1 658 L572.6 658.2 L575.1 658.4 L577.5 658.7 L580 658.9 L582.5 659.1 L585 659.3 L587.4 659.6 L589.9 659.8 L592.4 660 L594.9 660.2 L597.4 660.5 L599.9 660.7 L602.4 660.9 L604.9 661.1 L607.5 661.3 L610.1 661.5 L612.5 661.7 L615 661.9 L617.5 662.2 L620 662.4 L622.7 662.5 L625.5 662.6 L626 662.5 L628.9 662.2 L632 661.7 L631.7 660.7 L631.2 660.2 L630.2 659.9 L628 659.5 L625.7 659.3 L623.1 659 L620.6 658.9 L618.1 658.6 L615.7 658.4 L613.3 658.1 L611 657.8 L608.5 657.5 L606 657.3 L603.4 657.1 L600.9 656.9 L598.4 656.7 L595.9 656.5 L593.4 656.3 L590.8 656.1 L588.2 656 L585.7 655.7 L583.2 655.5 L580.6 655.3 L578.1 655.1 L575.7 654.9 L573.4 654.6 L571.1 654.2 L568.8 653.9 L566.5 653.5 L564.3 653.2 L562.2 652.7 L561.3 652.5 L560.3 652.2 L558.9 651.4 L558 650.8 L558.3 650.1 L558.5 649.5 L560.5 648.3 L563.3 647.1 L564.6 646.7 L566.4 646 L569.6 644.9 L572 643.7 L574.2 642.5 L576.4 641.3 L578.8 640.1 L581.4 638.9 L582.2 638.6 L584.2 637.8 L587.1 636.6 L589.9 635.5 L592.2 634.3 L594.2 633.1 L596.3 631.9 L598.8 630.7 L600.9 629.9 L601.8 629.6 L605.5 628.5 L606.9 628.2 L610.4 627.5 L611.2 627.4 L615.1 626.9 L616.3 626.7 L619.1 626.2 L621.9 625.8 L623.4 625.5 L627.4 624.9 L627.5 624.8 L631 624.5 L634.2 624.3 L636 624.2 L637.4 624.2 L640.8 623.9 L644.3 623.6 L644.3 623.6 L647.6 623.4 L651 623.1 L652.5 622.9 L654.5 622.7 L658.1 622.3 L659.7 622.2 L661.7 622 L665.2 621.6 L667 621.4 L668.9 621.2 L672.9 620.6 L673 620.6 L677.4 619.7 L678 619.6 L682.3 618.6 L682.4 618.5 L685.8 617.5 L688.4 616.3 L690.2 615.1 L691.1 613.8 L691.1 613.8 L692 612.5 L692.7 611.3 L692.8 611.1 L693.2 609.8 L693.1 609.5 L692.1 608.4 L691.6 608.2 L690.4 607.8 L688.6 607.2 L686.7 606.6 L685.8 606.3 L685 606 L683.3 605.3 L681.7 604.6 L681.4 604.5 L680.1 603.9 L678.3 603.3 L676.3 602.8 L675.2 602.5 L674.3 602.3 L672.3 601.8 L670.4 601.3 L668.3 600.8 L666.7 600.4 L666.4 600.3 L664.6 599.7 L662.8 599.1 L660.9 598.5 L660.6 598.4 L659 598 L657.1 597.4 L655.3 596.8 L654.6 596.5 L653.9 596 L652.7 595.1 L652.5 594.9 L652 593.9 L651.8 593.4 L652 592.3 L652.1 592.1 L653.2 590.8 L654.8 589.5 L656.8 588.3 L658.9 587.1 L661.2 585.9 L663.3 584.7 L665.4 583.5 L667.5 582.2 L669.6 581 L671.9 579.8 L674.3 578.7 L676.7 577.5 L678.9 576.3 L681 575 L682.9 573.8 L685.1 572.6 L687.3 571.4 L689.7 570.2 L692.1 569 L694.4 567.8 L696.6 566.7 L698.9 565.5 L701.1 564.2 L703.4 563.1 L705.9 561.9 L708.3 560.7 L710.6 559.5 L712.7 558.3 L714.7 557.1 L716.7 555.8 L718.6 554.6 L720.7 553.4 L722.7 552.2 L724.5 550.9 L724.7 550.7 L726.1 549.7 L727.6 548.4" fill="none" stroke="#191996" stroke-width="1.0" stroke-linejoin="round" stroke-dasharray="3.2 1.3"/>
<path d="M753.8 718.9 L754.4 719.1 L756.4 719.6 L758.4 720 L760.4 720.5 L762.5 721 L764.9 721.2 L767.5 721.4 L770.1 721.6 L772.8 721.7 L775.7 721.7 L778.8 721.6 L781.6 721.4 L782.1 721.3 L785.5 721.1 L788.9 720.8 L790.1 720.7 L792.2 720.6 L795.6 720.3 L797.9 720 L799.5 719.7 L802.8 719.1 L804.3 718.7 L807 718 L809.6 717.4 L811.2 717 L815.1 716 L815.2 715.9 L818.3 714.9 L820.7 713.7 L822.8 712.5 L824.8 711.2 L826.2 710 L826.3 709.8 L826.7 708.6 L826.5 708.1 L826.1 707.1 L825.9 706.8 L825.4 705.7 L825.3 705.6 L824.7 704.3 L824.7 704.2 L823.8 703.2 L822.6 702.6 L822.3 702.5 L820.6 701.8 L818.8 701.2 L818 700.8 L817.3 700.4 L815.6 699.8 L813.4 699.4 L810.8 699.2 L808.1 699.1 L805.4 699 L802.7 698.9 L799.8 698.9 L797.8 699 L796.6 699.1 L793.3 699.3 L790 699.5 L788.7 699.6 L786.7 699.7 L783 700.1 L781.6 700.4 L779 700.8 L776.3 701.3 L774.5 701.7 L771.8 702.3 L768.8 703.2 L768.2 703.3 L764.9 704.5 L761.7 705.6 L761.3 705.7 L758.6 706.7 L756.3 707.9 L754.9 709.1 L754.7 709.3 L753.7 710.4 L752.5 711.7 L751.8 712.5 L751.3 713 L750.3 714.3 L750.1 715 L750.1 715.7 L750.5 716.4 L751.2 717.2 L751.5 717.5 L752.7 718.4 Z M627.1 703.3 L628.5 703.9 L630.3 704.4 L632.4 704.9 L634.7 705.2 L637.2 705.5 L640.1 705.4 L644 704.9 L644.4 704.8 L648.6 703.8 L649.1 703.7 L652.7 702.8 L654.6 702.2 L656.3 701.7 L658.9 700.5 L660.3 699.2 L660.2 699.2 L659.1 698.2 L657.9 697.6 L657.5 697.5 L655.3 697.1 L653 696.8 L650.9 696.3 L648.9 695.8 L646.7 695.5 L643.6 695.5 L640.2 695.8 L639 695.9 L636.8 696.1 L633.5 696.3 L630.9 696.6 L629.6 696.9 L626.7 697.6 L624.7 698.8 L624.5 699.7 L624.4 700.2 L624.8 701.1 L625.2 701.7 L625.7 702.2 L626.9 703.2 Z M842.1 684.8 L842.4 685 L844.3 685.6 L847.1 685.6 L848.9 685.4 L851.2 685 L854.1 684.5 L856.6 683.6 L857.6 683.4 L857.8 683 L858.5 682 L857.6 681.5 L855.6 681 L852.9 680.9 L849.8 681 L848.3 681.1 L845.7 681.6 L843.9 682.1 L841.6 683.3 L841.6 683.9 Z M700.9 669.3 L702 669.9 L704.5 670.1 L706.2 669.8 L709.1 668.6 L711.5 667.4 L713.9 666.3 L716.2 665.1 L717.2 663.7 L716.7 663.4 L714.8 662.8 L712.5 662.5 L709.7 662.4 L706.7 662.8 L705.8 663 L702.7 663.8 L699.4 664.9 L697.5 666.2 L698.5 667 L699.2 667.7 L699.6 668 L700.6 669.1 Z M358.3 595 L359.6 595.3 L362 595.6 L364.5 595.8 L367.3 595.9 L367.4 595.9 L370.2 595.9 L373.1 595.9 L375.9 595.9 L378.8 595.9 L381.7 595.9 L382.7 595.8 L384.8 595.8 L387.9 595.7 L391.2 595.5 L392.8 595.4 L394.6 595.2 L398.5 594.7 L399.3 594.5 L402.4 594.1 L405.4 593.7 L406.3 593.6 L410.4 592.9 L410.8 592.8 L414.9 591.7 L416.3 591.2 L417.9 590.6 L420 589.4 L420.6 588.9 L421.2 588.1 L421.6 586.7 L421.6 586.7 L421.6 585.3 L421.5 585.2 L421 583.9 L421 583.9 L419.9 582.9 L418.7 582.3 L418.4 582.1 L416.6 581.5 L414.7 581 L412.8 580.4 L412.5 580.3 L411 579.8 L409 579.3 L406.9 578.9 L404.6 578.6 L402.1 578.3 L399.7 578.1 L397.4 577.8 L395 577.4 L392.5 577.2 L389.8 577.1 L386.9 577.1 L384.1 577.1 L381.2 577.1 L378.3 577.1 L377.2 577.1 L375.1 577.2 L371.8 577.5 L368.6 577.8 L368.3 577.8 L364.8 578.1 L361.4 578.4 L360.7 578.5 L358 578.7 L354.4 579.1 L353.5 579.2 L349.8 580 L349 580.2 L345.8 581.3 L343.3 582.5 L341.2 583.7 L339.6 585 L338.9 586 L338.7 586.3 L338.5 587.7 L338.5 587.8 L339.2 589 L339.4 589.2 L340.5 589.9 L342 590.7 L342.3 590.8 L343.6 591.4 L345.4 592 L347.3 592.5 L347.9 592.7 L349.1 593.1 L351.1 593.6 L353.2 594.1 L355.3 594.5 L357.4 594.9 Z M657.9 542.2 L655.2 543.3 L652.6 544.5 L650 545.6 L649.9 545.7 L647.3 546.8 L644.6 548 L642.1 549.1 L639.9 550.3 L637.9 551.6 L636 552.8 L633.9 554 L631.8 555.2 L629.9 556.5 L628.3 557.5 L628.1 557.7 L626.2 558.9 L624.2 560.1 L622.2 561.4 L620 562.6 L617.6 563.7 L615.2 564.9 L612.9 566.1 L610.8 567.3 L608.8 568.6 L606.8 569.8 L604.9 571 L603 572.2 L601.2 573.5 L599.1 574.7 L596.9 575.9 L594.8 577.1 L592.9 578.3 L590.9 579.6 L588.7 580.8 L586.3 581.9 L583.7 583.1 L581 584.3 L578.2 585.4 L576.4 586 L575 586.5 L571.3 587.6 L570.2 587.9 L566.8 588.6 L565.6 588.8 L561.7 589.4 L560.8 589.5 L558.2 589.7 L554.8 589.9 L552.4 590.1 L551.6 590.1 L548.3 590.4 L544.7 590.7 L544.2 590.8 L541.2 591 L537.6 591.4 L537 591.5 L534 591.8 L530.3 592.3 L530.2 592.3 L526.9 592.6 L523.7 592.7 L520.6 592.8 L520.5 592.8 L517.7 592.8 L514.8 592.8 L511.8 592.9 L508.8 593 L507.1 593 L505.7 593 L502.9 593 L500.1 592.9 L497.5 592.8 L494.8 592.7 L492.2 592.5 L489.6 592.3 L487 592.2 L484.1 592.2 L482.6 592.2 L480.9 592.4 L477 592.9 L476.2 593 L473.5 594.2 L473.4 594.9 L473.6 595.6 L474.3 596 L476.2 596.5 L478.3 597 L480.5 597.3 L482.7 597.7 L483.3 597.9 L484.7 598.2 L486.7 598.7 L488.8 599.1 L491 599.5 L493.2 599.9 L494.8 600.3 L495.1 600.5 L496.4 601.3 L496.9 601.9 L496.4 602.9 L496.2 603.2 L495.3 604.6 L495.3 605.1 L495.4 606 L495.7 606.5 L496.5 607.5 L496.6 607.6 L497.7 608.6 L498.2 609 L498.7 609.6 L499.9 610.6 L499.9 610.6 L501 611.5 L502 612.2 L502.4 612.4 L503.5 613.4 L503.9 613.7 L504.5 614.4 L505.7 615.3 L505.7 615.3 L507.1 616.1 L508.7 616.9 L508.9 617 L510 617.7 L511.1 618.6 L511.2 618.7 L511.7 620 L511.8 620.1 L511.8 621.5 L511.8 621.5 L511.7 622.8 L511.5 623.3 L511 624.2 L509.5 625.5 L507.6 626.7 L505.8 627.9 L504.7 628.6 L503.9 629.2 L502 630.1 L501.5 630.3 L499.1 631.5 L496.8 632.7 L494.6 633.9 L492.4 635.1 L490.9 636.2 L490.7 636.4 L489.2 637.6 L487.8 638.9 L486.3 640.2 L486.1 640.4 L485.2 641.5 L483.4 642.7 L480.4 643.6 L479.7 643.8 L476.2 644.3 L473.4 644.6 L472.6 644.7 L469.6 644.7 L466.7 644.7 L463.9 644.7 L461.2 644.6 L458.5 644.4 L455.9 644.3 L453.2 644.2 L452.4 644.1 L450.4 644.1 L447.3 644.2 L443.6 644.7 L443.4 644.7 L443.4 644.8 L444.8 645.6 L446.7 646.2 L448.6 646.6 L448.7 646.6 L451 647 L453.3 647.3 L455.7 647.6 L458.1 647.9 L460.3 648.2 L462.5 648.6 L464.6 649 L466.7 649.5 L467.6 649.7 L468.6 650 L470.2 650.8 L471.4 651.4 L471.1 651.8 L470.5 652.8 L468.8 654 L468.4 654.9 L468.4 655.4 L467 656.6 L464.4 657.8 L463.5 659.1 L463.4 659.2 L463.9 660.6 L463.9 660.6 L463.8 660.6 L461.5 661.8 L459.3 663 L459.2 663.1 L459.2 664.4 L458.8 664.9 L458.4 665.7 L456.1 666.4 L455.2 666.8 L454.6 667.3 L453.6 668 L453.5 669.4 L453 669.8 L451.4 670.7 L451 670.8 L448.8 671.8 L448.7 672.1 L448.2 673.2 L448 674.1 L448 674.5 L445.3 675.6 L445 675.7 L444.8 675.8 L443.3 676.9 L443.4 678.2 L443.5 678.3 L442.3 679.6 L439.6 680.8 L439.1 682.1 L439.1 682.2 L439.7 683.4 L439.8 683.6 L437.7 684.8 L435.8 686.1 L436 687 L436.3 687.5 L435.9 688.7 L435.8 688.9 L434.8 689.3 L433.1 690 L432.9 690.3 L432.3 691.3 L432.6 692.1 L434.3 692.7 L438 692.3 L439.4 692 L442.9 690.9 L445.1 690 L445.7 689.8 L449.2 688.7 L451.8 687.9 L452.8 687.6 L455.8 686.5 L458.8 685.3 L460.2 684.9 L462.3 684.2 L465.5 683.1 L468 682.2 L468.5 682 L471.8 680.9 L475.1 679.8 L475.6 679.6 L478.2 678.7 L481 677.5 L483.9 676.4 L485.6 675.7 L486.8 675.2 L489.8 674.1 L492.9 673 L494.5 672.4 L496 671.9 L498.9 670.7 L502.1 669.6 L503.1 669.3 L505.4 668.5 L508.5 667.4 L511.5 666.3 L511.5 666.3 L514.6 665.1 L517.7 664 L520.5 662.9 L520.6 662.9 L523.4 661.7 L526.1 660.6 L528.7 659.4 L531.8 658.3 L531.8 658.3 L536 657.6 L537.3 657.4 L539.4 657.3 L542.7 657.1 L546.1 656.8 L546.3 656.8 L549.2 656.7 L552.2 656.6 L555.1 656.6 L557.8 656.7 L560.4 656.9 L563 657.1 L565.6 657.3 L568.2 657.4 L570.3 657.5 L570.8 657.5 L573.4 657.7 L575.8 658 L577.5 658.2 L578.2 658.3 L580.7 658.5 L583.2 658.7 L585.6 659 L588.1 659.2 L590.5 659.5 L593.1 659.7 L595.6 659.9 L598.1 660.1 L600.5 660.3 L603.1 660.5 L605.5 660.7 L605.6 660.7 L608.3 660.8 L611 661 L613.5 661.2 L615.9 661.4 L618.4 661.7 L621 661.8 L623.7 661.9 L626.9 661.8 L629.5 661.5 L628.8 660.7 L627.1 660.1 L624.8 659.7 L622.3 659.5 L619.7 659.3 L617.2 659.1 L614.9 658.8 L614.5 658.7 L612.7 658.4 L610.3 658.1 L607.9 657.9 L605.3 657.7 L602.8 657.5 L600.2 657.3 L597.8 657.1 L595.3 656.9 L592.7 656.7 L590.4 656.5 L590.1 656.5 L587.4 656.4 L584.9 656.2 L582.3 656 L579.7 655.8 L577.2 655.6 L574.8 655.4 L572.6 655 L572.2 654.9 L570.3 654.6 L568.1 654.3 L565.8 653.9 L563.6 653.6 L561.4 653.2 L559.4 652.7 L558.1 652.2 L557.7 652 L556.4 651.2 L555.4 650.6 L555.5 650 L555.4 649.2 L557.1 647.9 L559.8 646.8 L563.1 645.7 L564 645.4 L566.2 644.6 L568.3 643.3 L570.5 642.1 L573.2 641 L576.1 639.9 L578.9 638.7 L579.4 638.5 L581.8 637.6 L584.6 636.4 L587.3 635.3 L589.6 634.1 L591.6 632.8 L593.7 631.6 L596.3 630.5 L598.3 629.7 L599.4 629.3 L602.9 628.3 L604.7 627.8 L607.1 627.2 L609.4 626.8 L612.6 626.3 L613.4 626.2 L617.1 625.7 L618.8 625.5 L621.1 625.2 L624.4 624.6 L625.3 624.4 L629.4 623.8 L630.2 623.7 L632.8 623.5 L636 623.4 L639.2 623.2 L639.5 623.1 L642.6 622.9 L646.2 622.5 L647.2 622.4 L649.7 622.2 L653.3 621.8 L654.4 621.7 L656.9 621.4 L660.6 621 L661.3 620.9 L664.3 620.5 L667.9 620.1 L668.1 620.1 L671.7 619.7 L674.2 619.3 L676 618.9 L678.7 618.3 L681.6 617.4 L682.3 617.2 L684.9 616 L686.7 614.8 L686.9 614.5 L687.7 613.5 L688.6 612.1 L688.7 611.9 L689.2 610.8 L689.1 610.1 L688.2 609.3 L687.9 609.2 L686.3 608.5 L684.6 607.8 L684.2 607.6 L683.1 607 L681.5 606.3 L680.5 605.8 L680 605.5 L678.4 604.8 L676.7 604.2 L676.1 604 L674.8 603.6 L672.8 603.1 L670.9 602.6 L669 602 L668.6 601.9 L667 601.5 L665.1 601 L663.3 600.4 L662.2 600 L661.6 599.7 L659.9 599.1 L658 598.5 L655.9 598.1 L655.6 598 L654.2 597.4 L652.6 596.7 L651.8 596.2 L651.3 595.8 L650.3 594.8 L650.2 594.7 L649.8 593.5 L649.7 593.2 L650.2 591.9 L650.6 591.4 L651.4 590.6 L653 589.3 L655.1 588.1 L657.3 586.9 L659.6 585.7 L661.8 584.5 L663.9 583.3 L665.9 582.1 L668.1 580.9 L670.4 579.7 L672.8 578.5 L675.1 577.3 L677.4 576.1 L679.4 574.9 L681.3 573.7 L683.4 572.5 L685.8 571.3 L688.2 570.1 L690.6 568.9 L693 567.7 L695.2 566.5 L697.3 565.3 L699.5 564.1 L701.9 562.9 L704.5 561.8 L705.7 561.2 L707 560.6 L709.3 559.4 L711.4 558.2 L712.3 557.6 L713.2 556.9 L715.1 555.7 L717.1 554.5 L719.2 553.3 L721.1 552 L722.8 550.8 L724.3 549.5 L724.9 549 L725.8 548.3" fill="none" stroke="#1e1ec8" stroke-width="1.0" stroke-linejoin="round" stroke-dasharray="3.2 1.3"/>
<path d="M757.6 717.8 L758.9 718.2 L761.1 718.6 L763.3 718.9 L765.6 719.3 L768.1 719.5 L770.7 719.7 L773.3 719.8 L775.7 720.1 L778.4 720.2 L781.4 720.1 L782.6 720 L784.7 719.9 L788 719.7 L791.2 719.4 L791.4 719.4 L795.1 719 L797.6 718.6 L799.4 718.2 L802.1 717.6 L804.4 717 L806.3 716.6 L810 715.5 L810.5 715.3 L812.9 714.4 L815.3 713.2 L817.6 712 L819.7 710.8 L821.1 709.5 L821.1 709.5 L820.9 708.1 L820.8 708 L820.1 706.8 L820.1 706.6 L819.7 705.5 L819.6 705.2 L818.9 704.3 L817.6 703.6 L817.5 703.5 L815.6 702.9 L813.5 702.5 L811.4 702.1 L809.4 701.6 L808 701.3 L807.2 701.2 L805.6 701.1 L804.6 701.1 L801.8 701 L799.1 700.9 L796.4 700.8 L793.4 700.8 L790.2 701 L789.2 701 L786.9 701.2 L783.3 701.6 L782 701.8 L779.3 702.2 L776.7 702.7 L774.5 703.2 L772.6 703.7 L769.1 704.8 L767.9 705.3 L765.9 705.9 L763.2 707.1 L761.1 708.3 L759.6 709.6 L758.7 710.3 L758 710.8 L756.5 712.1 L755.2 713.4 L754.9 714 L754.8 714.7 L755.1 715.5 L755.5 716.2 L755.9 716.7 L757.1 717.6 Z M576.3 656.7 L577.9 656.9 L580.2 657.2 L582.6 657.4 L585.1 657.7 L587.4 658 L589.6 658.4 L592.1 658.6 L594.6 658.8 L597.2 659 L599.6 659.3 L602 659.5 L604.5 659.8 L607.1 659.9 L609.9 659.9 L612.7 660 L614.2 660.1 L612.9 659.9 L610.8 659.5 L608.7 659 L606.4 658.7 L603.9 658.5 L601.2 658.4 L598.6 658.2 L596.2 657.9 L593.7 657.7 L591.1 657.5 L588.4 657.4 L585.7 657.3 L583.2 657.1 L580.6 656.9 L578 656.8 Z M617.4 660.4 L617.8 660.4 L620.2 660.7 L622.7 660.9 L622.9 660.9 L622.8 660.8 L620.4 660.6 L617.8 660.4 Z M355.6 593.4 L356.8 593.7 L358.8 594.1 L361 594.5 L363.5 594.8 L366 595 L368.8 595 L371.7 595 L373.5 595 L374.6 595 L377.5 595 L380.4 595 L383.3 595 L386.4 594.9 L387.2 594.8 L389.7 594.7 L393.1 594.4 L395.1 594.2 L396.9 593.9 L400.9 593.3 L401 593.3 L405.1 592.6 L406.4 592.4 L409.8 591.6 L410.8 591.4 L413.7 590.2 L415.4 589 L415.9 588.2 L416.5 587.7 L417.4 586.4 L417.6 585.7 L417.8 585 L417.5 584.2 L417 583.5 L416.4 583.2 L414.8 582.5 L413 581.9 L412.3 581.7 L411.1 581.3 L409.3 580.7 L407.5 580.1 L405.4 579.7 L405.4 579.7 L403.2 579.3 L400.8 579.1 L398.3 578.8 L396 578.5 L393.6 578.2 L391.1 578 L388.4 577.9 L385.6 577.9 L385.2 577.9 L382.7 577.8 L379.8 577.8 L376.9 577.9 L373.6 578.1 L372.7 578.1 L370.1 578.4 L366.5 578.8 L365.6 578.9 L362.8 579.2 L359.2 579.6 L358.7 579.7 L355.3 580.2 L353.1 580.6 L350.1 581.4 L349.4 581.6 L346.5 582.8 L344.3 584 L342.6 585.2 L342.2 585.7 L341.7 586.6 L341.7 587.6 L341.9 588 L342.5 588.8 L343.5 589.5 L343.8 589.7 L345.3 590.4 L347.1 591 L348 591.3 L348.9 591.6 L350.7 592.2 L352.7 592.7 L354.7 593.2 Z M659.9 542.3 L657.1 543.5 L655.7 544.1 L654.4 544.6 L651.7 545.8 L649 547 L646.3 548.1 L643.8 549.3 L641.6 550.5 L639.7 551.7 L637.7 552.9 L635.6 554.2 L633.6 555.4 L631.7 556.6 L629.9 557.8 L628 559.1 L626.1 560.3 L626 560.4 L624.1 561.5 L621.9 562.7 L619.8 563.8 L619.6 563.9 L617.1 565.1 L614.8 566.3 L612.8 567.5 L610.8 568.7 L610.7 568.8 L608.9 570 L607 571.2 L605.2 572.4 L603.3 573.7 L601.1 574.9 L598.9 576.1 L596.8 577.3 L594.9 578.5 L592.9 579.7 L590.7 580.9 L588.2 582.1 L585.7 583.3 L583.2 584.5 L580.3 585.6 L579.7 585.8 L577.1 586.7 L573.5 587.8 L573 587.9 L569.2 588.8 L568.1 589 L563.9 589.7 L563.9 589.7 L560.2 590.2 L557.1 590.5 L556.6 590.6 L553.3 590.8 L550.1 591 L548.3 591.1 L546.7 591.2 L543.1 591.6 L540.8 591.9 L539.5 592 L535.8 592.4 L534.1 592.6 L532.2 592.8 L528.7 593.1 L526.3 593.3 L525.4 593.4 L522.4 593.4 L519.5 593.4 L516.6 593.4 L513.7 593.5 L512.2 593.5 L510.7 593.5 L507.7 593.5 L504.8 593.6 L501.9 593.5 L499.2 593.4 L496.5 593.3 L493.9 593.2 L492.4 593.1 L491.2 593.1 L488.6 592.9 L485.8 592.8 L482.8 592.9 L479.3 593.2 L478.8 593.3 L476 594.4 L476.1 595 L477.4 595.9 L477.8 596 L479.4 596.4 L481.5 596.8 L483.7 597.2 L485.8 597.6 L487.9 598.1 L490.1 598.5 L490.5 598.5 L492.2 598.9 L494.4 599.3 L496.4 599.7 L498.4 600.3 L499.7 600.8 L499.9 601 L500.4 602.2 L500.3 602.4 L499.6 603.6 L499.1 604.6 L499 604.9 L499.3 606.1 L499.4 606.3 L500.1 607.3 L500.7 607.9 L501.1 608.3 L502.2 609.3 L502.4 609.4 L503.3 610.3 L504 611 L504.4 611.3 L505.5 612.3 L505.8 612.5 L506.5 613.3 L507.6 614.1 L507.7 614.2 L509.2 615 L510.8 615.7 L511 615.8 L512.3 616.5 L513.8 617.3 L514.1 617.5 L514.8 618.3 L515.1 619 L515.2 619.7 L515.3 620.4 L515.4 621.1 L515.6 621.8 L515.6 622.6 L515.5 623.2 L514.5 624.5 L512.7 625.7 L510.5 626.9 L509.8 627.4 L508.7 628.2 L507 629.4 L504.7 630.6 L502.4 631.8 L501 633.1 L499.4 634.3 L497 635.5 L495.8 636.7 L495.7 636.8 L494.9 638.1 L492.7 639.4 L490.3 640.5 L489.2 641.8 L488.2 642.5 L487.2 643.1 L487 643.1 L483 644.1 L482.1 644.2 L478.2 644.8 L476.9 644.9 L474.7 645.1 L471.5 645.2 L468.5 645.3 L465.6 645.3 L465.2 645.3 L462.7 645.3 L459.9 645.3 L457.1 645.2 L454.3 645.2 L451.4 645.2 L448.9 645.2 L450.6 645.6 L452.6 646.1 L454.7 646.5 L457 646.9 L459.2 647.2 L461.3 647.7 L461.7 647.8 L463.4 648.1 L465.5 648.5 L467.6 649 L469.7 649.4 L471.5 650 L471.7 650.1 L473 650.8 L474.5 651.6 L474.9 651.8 L473.8 653.1 L472.1 654.3 L472.1 654.5 L472.8 655.7 L473 655.8 L471.1 657 L469.8 657.3 L467.4 658.1 L466.9 658.9 L466.7 659.4 L467.4 660.2 L468.9 661 L465.1 662.1 L462.2 663.1 L461.9 663.2 L461.9 663.2 L462.3 664.6 L462.3 664.6 L461.5 666 L458.9 666.5 L457.2 667 L455.5 668.2 L455.5 668.4 L456 669.7 L453.6 670.9 L450.5 672 L450.3 672.8 L450.2 673.3 L450.2 674.5 L450.2 674.8 L449.2 675 L446.7 675.8 L444.8 677.1 L444.8 677.4 L445.5 678.5 L445.4 678.7 L444.4 679.8 L441.5 680.8 L441.2 680.9 L441.2 681 L440.9 682.3 L441.1 682.7 L442 683.8 L442 683.8 L440.8 684.4 L439.6 685 L438.1 685.9 L437.5 686.2 L438.2 687.4 L438.6 687.7 L438.4 688.9 L438.6 689.1 L437.8 689.3 L435 690.2 L434.3 691.2 L434.5 691.5 L435.8 691.9 L437.1 691.8 L440.4 691 L441.2 690.7 L443.3 689.5 L447.2 688.5 L448.2 688.3 L451.2 687.4 L454 686.3 L456.8 685.1 L456.9 685.1 L460.3 684.1 L463.6 683 L464.3 682.6 L466.3 681.8 L469.6 680.7 L472 680 L473.2 679.6 L476.1 678.5 L478.7 677.3 L481.5 676.2 L483 675.5 L484.3 675 L487 673.9 L490.1 672.7 L493 671.7 L493.1 671.6 L495.8 670.4 L498.7 669.3 L501.8 668.4 L502.4 668.2 L505.8 667.1 L508.8 666 L509.6 665.7 L511.7 664.9 L514.7 663.7 L517.6 662.6 L519.9 661.6 L520.4 661.4 L522.9 660.3 L525.5 659.1 L528.2 658 L530.7 657.3 L532.5 656.9 L534.4 656.8 L537.5 656.8 L540.6 656.6 L543 656.5 L543.8 656.5 L547 656.3 L550.1 656.2 L553.2 656.1 L554.5 656.1 L556.2 656 L559.1 656 L561.8 656.1 L564.5 656.3 L567.2 656.4 L570 656.4 L572.8 656.4 L575 656.6 L573.1 656.3 L570.9 655.9 L568.7 655.5 L566.6 655.1 L564.4 654.7 L562.4 654.2 L561.6 653.9 L560.4 653.7 L558.4 653.2 L556.6 652.6 L554.9 652 L554.8 651.9 L553.5 651.1 L551.9 650.5 L551 650.2 L550.7 649.5 L550.5 648.8 L552.4 647.5 L554.7 646.3 L557.1 645.1 L559.7 644 L562.2 642.8 L564.3 642 L565.2 641.7 L568.8 640.6 L570.9 640 L572.4 639.5 L575.6 638.4 L578.4 637.3 L580.1 636.5 L581.1 636.1 L583.6 634.9 L586 633.7 L588.2 632.5 L590.5 631.3 L593.1 630.2 L596.5 629.1 L596.6 629.1 L600.3 628 L602.6 627.4 L604.1 627 L607.7 626.1 L608.6 626 L611.8 625.5 L614.7 625.1 L615.5 625 L619.2 624.6 L621.2 624.3 L623.2 624 L626.6 623.4 L627.5 623.2 L631.5 622.6 L632.6 622.5 L634.9 622.3 L638 622.2 L641.2 622.1 L642.1 622 L644.8 621.7 L648.5 621.2 L648.9 621.2 L652.3 620.8 L655.4 620.4 L656.1 620.3 L660 619.7 L661.4 619.5 L664.1 619.1 L667 618.6 L668.2 618.4 L672.3 617.7 L672.4 617.7 L677 616.7 L677.2 616.6 L680 615.6 L681.8 614.3 L682.1 613.9 L682.7 613 L683.1 611.8 L683.2 611.7 L682.8 610.4 L682.7 610.2 L681.7 609.4 L680.7 608.6 L680.4 608.5 L679.1 607.6 L678.3 607 L677.8 606.8 L676.3 606 L674.7 605.3 L674.7 605.3 L672.8 604.7 L670.9 604.1 L669.1 603.6 L668.4 603.3 L667.3 603 L665.4 602.4 L663.6 601.8 L662.1 601.4 L661.8 601.2 L660.2 600.5 L658.5 599.8 L657.6 599.6 L656.7 599.2 L654.8 598.7 L652.9 598.2 L651.2 597.6 L651.1 597.5 L649.8 596.7 L648.9 596 L648.6 595.7 L647.7 594.6 L647.6 594.5 L647.3 593.2 L647.3 593 L647.8 591.7 L648.3 591.1 L649 590.4 L650.7 589.1 L652.8 587.9 L655.2 586.7 L657.5 585.5 L659.7 584.3 L661.8 583.1 L663.9 581.9 L666 580.7 L668.3 579.5 L670.7 578.3 L673 577.1 L675.2 575.9 L677.3 574.7 L679.2 573.5 L681.2 572.3 L683.7 571.1 L686.3 569.9 L688.8 568.8 L691.2 567.6 L693.3 566.3 L695.2 565.1 L697.4 563.9 L699.9 562.7 L700.1 562.7 L702.7 561.6 L705.3 560.4 L707.6 559.2 L709.5 558 L711.3 556.8 L712.8 555.7 L713 555.5 L715 554.3 L717.1 553.1 L719 551.9 L720.6 550.6 L722.1 549.3 L722.9 548.6 L723.4 548" fill="none" stroke="#283ce6" stroke-width="1.0" stroke-linejoin="round" stroke-dasharray="3.2 1.3"/>
<path d="M769.3 714.7 L770.3 715.1 L772.5 715.5 L775.2 715.6 L778 715.4 L778.4 715.4 L781.8 715.2 L784.4 715.3 L786.4 715.8 L788.5 716.3 L791.6 716.1 L794.3 715.5 L797.2 714.4 L798.8 713.8 L800.2 713.2 L803.6 712.1 L806.4 711 L808.3 709.8 L809.6 708.5 L810 707.6 L809.9 707.1 L809.3 706.4 L807 706.1 L803.9 706.2 L800.9 706.3 L800.8 706.3 L798.1 706.2 L795.4 706.1 L793 705.8 L791 705.4 L790.9 705.4 L788.8 704.9 L786.1 704.8 L785.1 704.9 L782.8 705.1 L778.8 705.6 L778.6 705.7 L775.1 706.8 L772.5 707.9 L770.8 709.2 L770.5 710.2 L770.6 710.6 L770.8 711.6 L770.5 712 L769.4 713.3 L769.2 714.1 Z M446.2 682.8 L446.3 682.9 L447.8 683.8 L449.9 684.2 L453.5 683.8 L454.6 683.5 L457.6 682.4 L457.7 681.5 L456.8 680.9 L459.4 679.8 L461.1 679.6 L465.1 679 L465.6 678.9 L468.1 677.8 L468.2 677.3 L466.5 676.7 L464 676.4 L461.5 676.2 L458.9 676 L456.2 676 L453 676.1 L451.9 676.3 L449.2 677.5 L449.8 677.9 L451.4 678.6 L453.2 679.2 L453.3 679.2 L452.3 680.5 L450.6 680.6 L446.6 681.2 L445.9 681.4 L445.9 681.6 Z M487.8 658.6 L485.9 658.3 L489 657.9 L491.3 657.4 L492.7 657.5 L495.1 657.8 L495.2 657.8 L494.5 659.1 L492.7 659.1 L490.1 658.9 Z M524.6 636.8 L523.3 636.5 L524.6 635.2 L527.2 635.3 L530 635.4 L532.6 635.6 L534.7 636 L535.1 636.2 L533.1 636.9 L531.8 637.3 L529.5 637.3 L526.9 637.1 Z M363.5 592.7 L364.2 592.8 L365.3 592.9 L366.7 593 L369.4 593.1 L372 593.3 L374.8 593.3 L377.7 593.3 L380.8 593.2 L383.7 593.1 L383.8 593.1 L386.9 593 L390.1 592.9 L393.2 592.6 L393.6 592.5 L397.5 592 L399.1 591.7 L402 591.1 L403.7 590.7 L407 589.6 L409.2 588.4 L410.5 587.1 L410.8 586.3 L410.8 585.8 L410.2 585 L408.8 584.2 L408.7 584.2 L407.1 583.5 L405.6 582.8 L404.9 582.4 L404.1 582 L402.3 581.4 L400.3 580.9 L397.9 580.6 L395.5 580.4 L393.1 580.1 L390.7 579.8 L388.2 579.6 L385.5 579.5 L382.6 579.5 L379.7 579.5 L376.8 579.5 L373.7 579.6 L373.6 579.6 L370.2 579.9 L366.7 580.4 L366.4 580.5 L362.4 581.1 L360.9 581.3 L358.1 581.8 L356.1 582.3 L352.6 583.3 L351.4 583.9 L350.1 584.5 L349.5 585 L348.4 585.8 L348 587.1 L348.1 587.3 L349.1 588.3 L349.9 588.7 L350.7 589.1 L352.5 589.7 L354.3 590.3 L354.9 590.5 L356 590.9 L357.7 591.6 L359.7 592.1 L361.8 592.5 Z M665.1 542.8 L662.1 543.7 L661.7 543.9 L658.8 545 L656 546.2 L653.1 547.3 L651.8 547.8 L650.2 548.5 L647.6 549.6 L645.3 550.8 L643.3 552 L641.2 553.3 L639.2 554.5 L637.3 555.7 L636.8 556.1 L635.5 557 L633.7 558.2 L631.9 559.4 L630 560.7 L628.2 561.9 L626.3 563.1 L624.4 564.4 L622.3 565.6 L622 565.8 L620.3 566.8 L618.2 568 L616 569.2 L613.9 570.4 L611.8 571.6 L609.9 572.9 L608.1 574.1 L606.3 575.3 L604.3 576.6 L602.4 577.8 L600.4 579 L598.1 580.2 L595.5 581.4 L593 582.5 L590.7 583.7 L588.2 584.9 L585.1 586 L585.1 586 L581.6 587.1 L579.2 587.7 L577.5 588.2 L574 588.9 L573.1 589.2 L569.2 590 L568.5 590.1 L564.9 590.8 L563 591.1 L561 591.3 L557.2 591.8 L556.7 591.9 L553.8 592.1 L550.6 592.3 L547.7 592.5 L547.3 592.5 L543.9 592.8 L540.5 593.2 L540 593.3 L536.3 593.7 L533.7 594 L532.8 594.1 L529.4 594.3 L526.1 594.6 L525 594.6 L523 594.7 L520 594.7 L517.2 594.7 L514.3 594.7 L511.5 594.7 L509.8 594.7 L508.5 594.7 L505.4 594.8 L502.4 594.8 L499.6 594.8 L496.9 594.7 L494.2 594.6 L493.1 594.6 L490.9 594.8 L487.1 595.3 L486.7 595.4 L486.9 595.4 L488.8 596 L490.6 596.6 L492.6 597.1 L494 597.5 L494.6 597.6 L496.8 597.9 L499 598.3 L501.1 598.7 L503.2 599.2 L505 599.8 L505.2 599.9 L506.3 600.7 L506.9 601.4 L507 601.9 L506.9 602.8 L506.6 603.7 L506.4 604.2 L506.4 605.4 L506.5 605.6 L507.2 606.6 L507.6 607.1 L508.1 607.6 L508.8 608.6 L508.9 608.8 L509.5 610 L509.5 610.1 L510.2 611.2 L510.6 611.6 L511.4 612.2 L512.9 613 L513.7 613.2 L514.6 613.6 L516.2 614.3 L517.6 615 L517.8 615.1 L519.1 615.9 L519.9 616.6 L520.2 616.9 L520.9 618.1 L520.9 618.1 L521.5 619.4 L521.6 619.5 L522.2 620.6 L522.6 621 L522.9 621.8 L523.1 622.5 L522.6 623.6 L522.5 623.8 L521.6 625.1 L520.9 626.1 L520.7 626.5 L518.4 627.7 L518.9 628.8 L520.4 629.2 L520.8 629.3 L523.1 629.7 L525.6 629.9 L528 630.1 L530.3 630.4 L532.4 630.9 L534.4 631.4 L536.5 631.8 L538.7 632.2 L539 632.3 L538.5 632.3 L535.7 632.3 L532.9 632.2 L530.1 632.2 L527.2 632.2 L524.3 632.1 L522 632.2 L521.2 632.3 L517 633.1 L518.3 633.9 L520.1 634.5 L522.1 635 L524.4 635.2 L521.7 635.2 L518.1 635.6 L516.4 635.9 L514.6 635.9 L511.5 636 L508 636.4 L507.2 636.5 L506.9 637 L506.5 637.8 L507.4 638.3 L509.2 638.9 L511.5 639.2 L514.2 639.3 L517 639.3 L519.6 639.5 L521.8 639.9 L523.7 640.5 L525.2 640.9 L522.8 640.9 L519.6 641.1 L516.4 641.3 L513.6 641.2 L511.3 640.9 L509 640.6 L507 640.6 L505.9 640.7 L501.6 641.5 L501.3 641.5 L501.4 641.6 L503.2 642.2 L505.2 642.7 L507.3 643.1 L509.3 643.6 L509.9 643.7 L510.5 644.5 L511.4 645.2 L509.4 645.1 L506.6 645.1 L503.7 645.1 L500.7 645.1 L497.9 645.1 L495.2 645 L492.5 644.9 L492.4 644.9 L489.2 645.1 L485.6 645.5 L484.6 645.6 L481.9 645.9 L478.4 646.2 L476.9 646.3 L474.6 646.7 L470.9 647.2 L470.7 647.2 L470.8 647.2 L472.5 647.9 L473.9 648.7 L474.1 648.9 L475.5 649.4 L477.2 650.1 L479 650.7 L479.5 650.8 L481 651.2 L483.1 651.6 L485.4 652 L487.4 652.4 L489.4 652.9 L490.5 653.2 L488.5 653.4 L484.9 654.1 L483.9 654.4 L481.4 655.1 L481.9 655.5 L483.3 656.3 L485.1 656.9 L485.4 656.9 L485.2 658.3 L482.7 658.2 L479.5 658.3 L476.1 658.6 L475 658.8 L475.2 659.2 L476.1 660.2 L476.1 660.3 L477.9 660.8 L479.9 661.3 L481.9 661.8 L483.8 662.4 L483.8 662.4 L483.8 662.4 L480.8 662.4 L477.4 662.7 L475.2 663 L473.6 663.2 L469.6 663.9 L470.7 664.8 L472.3 665.5 L472.3 665.5 L473 666.7 L473.2 667 L472.4 667.1 L469.3 667.2 L466.2 667.2 L462.9 667.5 L462.9 667.5 L460.7 668.7 L460.7 668.7 L462.1 669.5 L463.8 670.2 L464.6 670.4 L462.7 670.8 L460.1 671.4 L458.1 671.7 L455 672.4 L455.4 673.2 L456.4 673.9 L456.6 674.1 L458.5 674.7 L460.8 675 L463.2 675.3 L465.5 675.6 L467.9 675.9 L470.7 675.9 L473.3 675.4 L475.5 674.9 L477 674.4 L478.7 673.1 L478.7 673.1 L478.7 673.1 L481.4 672 L485.5 671 L485.7 670.9 L488.2 669.8 L488.7 669.2 L488.5 668.4 L491.8 667.3 L492.4 667.2 L496.5 666.3 L498.1 665.6 L499.3 665.2 L501.8 664 L505.7 662.9 L506.7 662.5 L508.4 661.8 L508.7 661.5 L507.7 660.4 L505.3 660.1 L505.3 660.1 L503.1 659.7 L502.6 658.5 L505.9 658.2 L509 657.6 L510.6 657.2 L513.2 656.6 L515 656.4 L518.2 656.2 L521.2 656.1 L522.3 656 L524.4 656 L527.7 655.8 L531.2 655.4 L531.3 655.4 L534.2 655.4 L537 655.5 L539.7 655.5 L542.6 655.5 L545.7 655.4 L546.5 655.4 L549.3 655 L552.8 654.6 L552.3 653.4 L552.2 653.1 L551 652.5 L549.1 652 L547 651.5 L544.9 651.1 L544.1 651 L542.8 650.6 L540.8 650.1 L538.8 649.7 L536.9 649.1 L535.9 648.8 L536.1 648 L536.1 647.5 L538.1 646.9 L539.7 646.4 L543.7 645.4 L543.9 645.4 L546.8 644.2 L548.5 643 L549.4 642.3 L550.1 641.7 L552.3 640.5 L554.3 639.3 L555.9 638 L557.6 636.8 L559.8 635.6 L562.7 635 L564.4 634.6 L566.9 634.2 L569.7 633.7 L571.7 633.2 L573.8 632.6 L577.5 631.6 L577.6 631.5 L581 630.5 L583.9 629.7 L584.7 629.4 L588.6 628.4 L589.5 628.2 L593.5 627.4 L593.9 627.3 L598.4 626.5 L598.5 626.4 L602.5 625.4 L603.7 625.1 L607.1 624.4 L608.3 624.2 L612.1 623.7 L613.3 623.6 L615.7 623.4 L619.3 623 L620.5 622.8 L623 622.5 L626.3 622 L627.2 621.8 L631.4 621.1 L631.7 621 L635.3 620.6 L638.5 620.3 L638.8 620.2 L642 620 L645.4 619.7 L646.7 619.6 L649.3 619.2 L652.6 618.7 L653.4 618.6 L657.7 617.8 L657.8 617.8 L662.1 617 L662.8 616.8 L667 615.9 L667.2 615.8 L670.4 614.7 L672.5 613.5 L673.2 612.4 L673.3 612.2 L672.9 611.1 L672.7 610.7 L672 609.9 L671.6 609.2 L671.2 608.8 L670 607.8 L669.6 607.6 L668.4 607.1 L666.6 606.5 L665.2 605.8 L665 605.8 L663.6 605 L662.1 604.2 L661.9 604.1 L660.5 603.5 L658.8 602.9 L657.9 602.4 L657.3 602.1 L656 601.2 L654.7 600.7 L654.3 600.5 L652.5 599.9 L650.6 599.4 L648.7 598.8 L648.4 598.7 L647.2 598.1 L645.9 597.2 L645.7 597.1 L644.8 596.2 L644 595.5 L643.7 595.2 L642.7 594.2 L642.5 594 L642 593 L641.7 592.5 L641.8 591.5 L641.9 591.1 L643.4 589.9 L645.7 588.7 L648.3 587.5 L650.8 586.3 L653.2 585.2 L655.3 583.9 L657.3 582.7 L659.2 581.5 L661.1 580.3 L663 579 L665 577.8 L667.4 576.6 L669.9 575.4 L672.1 574.3 L674.1 573 L676.3 571.8 L678.8 570.7 L681.7 569.6 L681.9 569.5 L684.8 568.4 L687.3 567.2 L689.1 566 L690.7 564.7 L691.5 564.2 L692.6 563.5 L694.2 562.7 L695.1 562.3 L698 561.2 L700.9 560 L703.2 558.8 L705 557.6 L706.6 556.3 L708.4 555.1 L710.3 553.9 L710.5 553.8 L712.3 552.7 L714 551.4 L715.3 550.1 L716.4 548.9 L716.5 548.8 L717.4 547.5" fill="none" stroke="#326ef0" stroke-width="1.0" stroke-linejoin="round" stroke-dasharray="3.2 1.3"/>
<path d="M498.7 652.5 L498.9 652.5 L499.2 652.5 L501.4 652.7 L503.9 652.9 L506.5 653.1 L509 653.3 L511.5 653.5 L514.2 653.7 L516.9 653.7 L519.8 653.7 L522.8 653.7 L525.8 653.6 L527 653.6 L528.9 653.5 L532 653.4 L534.9 653.4 L537.7 653.5 L540.4 653.6 L542.2 653.6 L540.9 653.3 L538.7 652.9 L536.5 652.5 L534.2 652.2 L532 651.8 L530.1 651.3 L529.6 651.1 L528.3 650.7 L526.3 650.1 L524.2 649.7 L521.9 649.4 L519.4 649.2 L516.9 649 L514.6 648.7 L512.4 648.3 L510.2 647.9 L510.1 647.9 L507.7 647.7 L506.9 647.6 L504.9 647.6 L501.5 647.9 L498.8 648.3 L497.7 648.4 L494.6 648.5 L491.9 648.4 L489.4 648.2 L486.5 648.1 L483.9 648.4 L484.5 649.3 L484.9 649.9 L485.9 650.1 L488.2 650.4 L490.3 650.8 L492.3 651.4 L494.3 651.9 L496.5 652.2 Z M361.7 588.4 L362.6 588.9 L364.1 589.6 L366.2 590.1 L368.7 590.3 L371.5 590.4 L374.1 590.5 L376.6 590.7 L379.3 590.8 L382.5 590.7 L385.2 590.5 L386 590.4 L389.2 590.2 L392.3 590.1 L394.4 589.9 L396 589.6 L399.1 588.9 L401 587.7 L400.8 587 L400.2 586.2 L399.8 586 L398.2 585.2 L396.6 584.5 L396.6 584.5 L395.2 583.7 L393.8 582.9 L393.5 582.8 L391.8 582.4 L389.6 582 L387 581.8 L384.1 581.9 L383.4 581.9 L380.5 582.2 L377.1 582.5 L375 582.5 L374.1 582.6 L371.4 582.5 L368.3 582.6 L364.7 583 L364.5 583.1 L360.4 584 L357.9 585.2 L358.3 586.5 L358.6 586.7 L359.8 587.2 L361.3 588 Z M674.5 543.7 L673.7 543.7 L669.3 544.5 L669.2 544.6 L665.8 545.7 L663.1 546.8 L660.5 548 L659.3 548.5 L657.5 549.1 L654.4 550.2 L651.5 551.4 L649 552.6 L647.2 553.5 L646.8 553.8 L646.5 553.9 L644.7 555 L642.9 556.2 L641.2 557.5 L639.4 558.7 L637.4 559.9 L635.6 561.2 L634.4 562.1 L634.1 562.4 L632.7 563.7 L631.2 565 L629.4 566.2 L627.7 567.4 L627.7 567.5 L626 568.7 L624.1 569.9 L622.1 571.2 L620.2 572.4 L618.8 573.7 L618.5 574.1 L617.8 575 L617 576.3 L616.7 576.6 L616.1 577.6 L614.8 578.9 L613.5 580 L613.3 580.2 L611.4 581.4 L609 582.6 L608.4 582.8 L605.5 583.7 L602.2 584.8 L601 585.3 L599.4 585.9 L596.2 587 L593.9 587.6 L592 588.1 L589.2 588.6 L586.7 589 L585.3 589.1 L581.9 589.4 L579.1 589.7 L578.4 589.7 L574.5 590.3 L573.1 590.6 L570.1 591.1 L568 591.5 L565.7 591.9 L562.7 592.4 L561.6 592.6 L557.7 593.2 L556.7 593.3 L554.1 593.5 L550.9 593.7 L547.8 593.8 L547.2 593.8 L544.6 594 L540.9 594.4 L539.7 594.6 L537.1 594.9 L533.4 595.3 L533.1 595.4 L529.9 595.6 L526.6 595.9 L524.9 596 L523.2 596.2 L519.9 596.4 L516.8 596.5 L515.1 596.5 L513 597 L510.6 597.5 L511.3 597.9 L512.1 599.1 L512.1 599.1 L513.4 600 L514.1 600.7 L514.4 601 L514.8 602.1 L514.7 602.4 L514.4 603.5 L514.4 604.2 L514.3 604.9 L514.6 605.7 L514.6 606.3 L514.8 607.2 L514.8 607.7 L514.8 608.7 L514.9 609.1 L515.5 610 L516.6 610.7 L516.8 610.8 L518.4 611.5 L520.1 612.2 L520.5 612.4 L521.5 613 L522.8 613.9 L523.1 614.1 L524.1 614.8 L525.3 615.7 L525.3 615.7 L526.4 616.7 L527.4 617.3 L527.7 617.6 L529.3 618.3 L531.3 618.8 L533.3 619.2 L533.4 619.2 L535.4 619.7 L537.3 620.3 L538.8 621 L538.8 621.1 L539.6 622.2 L540.6 622.7 L541 623 L542.9 623.5 L545.4 623.8 L548.2 623.8 L550.7 624 L553 624.4 L555.5 624.6 L558.5 624.5 L560.3 624.4 L561.7 624.4 L564.6 624.4 L566.8 624.7 L568 625.1 L568.5 625.4 L570.5 625.9 L573.4 625.9 L575 625.7 L576.8 625.6 L580.1 625.4 L583.3 625.2 L584.3 625.2 L586.5 625.1 L589.8 624.9 L593.2 624.6 L593.2 624.6 L596.7 624.2 L599.5 623.7 L600.8 623.6 L605 622.9 L605.1 622.9 L608.8 622.4 L611.5 622 L612.6 621.9 L616.1 621.5 L618.6 621.3 L619.7 621.2 L623.3 620.8 L625.4 620.5 L627.1 620.3 L631.2 619.6 L631.3 619.6 L635.4 618.9 L636.7 618.7 L639.5 618.2 L642.6 617.8 L643.4 617.7 L647.3 617.2 L648.6 617 L651.4 616.5 L653.8 616 L656.3 615.4 L657.8 615 L660.4 613.8 L661.6 612.5 L661.6 612.5 L662 611.2 L661.8 610.7 L660.8 609.7 L660.8 609.6 L659.6 608.8 L659.2 608.1 L658.8 607.6 L658.5 606.6 L658.2 606.4 L657.1 605.4 L656.4 605 L655.6 604.6 L654.1 603.8 L653.5 603.4 L652.9 602.9 L651.6 602 L651 601.8 L650 601.3 L648.2 600.7 L646.3 600.2 L645.5 599.9 L644.6 599.5 L643.3 598.7 L642.7 598.2 L642.1 597.7 L641 596.7 L640.8 596.6 L639.9 595.8 L638.7 595.1 L638.5 594.9 L637.4 593.9 L636.4 593.4 L636.1 593.1 L634.9 592.1 L634.6 591.9 L634.5 590.8 L634.4 590.5 L635.5 589.2 L637.3 587.9 L639.6 586.7 L642.1 585.6 L644.5 584.4 L646.3 583.1 L647.8 581.9 L647.9 581.8 L649.4 580.6 L651.3 579.4 L653.5 578.2 L655.7 577 L658.1 575.8 L660.8 574.6 L661.2 574.5 L663.9 573.5 L666.5 572.3 L668.5 571.1 L670.6 569.9 L673.3 568.8 L676.1 567.9 L676.8 567.7 L680.1 566.6 L682.5 565.4 L684.5 564.2 L686.5 562.9 L688.8 561.7 L691.4 560.6 L694 559.4 L696.1 558.2 L697.8 557 L699.3 555.7 L701 554.4 L703.1 553.2 L705.1 552 L705.4 551.8 L706.8 550.8 L708.4 549.5 L709.8 548.2 L710.4 547.5 L710.8 546.9" fill="none" stroke="#3caaeb" stroke-width="1.0" stroke-linejoin="round" stroke-dasharray="3.2 1.3"/>
<path d="M558.3 621.4 L558.3 621.4 L558.4 621.4 L560.9 621.6 L563.7 621.7 L566.6 621.7 L569.5 621.7 L572.2 621.8 L574.7 622 L577.3 622.1 L580.2 622.1 L581.1 622.1 L583.3 622.1 L586.3 622 L589.3 621.9 L592.3 621.9 L593.7 621.8 L595.3 621.8 L598.4 621.7 L601.8 621.4 L603 621.3 L605.5 621 L609.4 620.4 L609.4 620.4 L613.2 619.9 L615.9 619.6 L616.9 619.5 L620.3 619.3 L623.7 619 L623.9 618.9 L627.3 618.6 L630.4 618.1 L631.3 618 L635.5 617.2 L635.7 617.1 L640 616.2 L640.7 616 L644.1 615.1 L646.4 614.5 L647.8 614.1 L650.5 612.9 L651.6 611.6 L651.6 611.6 L652.1 610.3 L652.2 609.7 L652.6 608.9 L652.7 607.8 L652.6 607.5 L651.9 606.7 L651 606 L650.6 605.7 L649.5 604.8 L649 604.4 L648.4 603.8 L647 603 L646.6 602.8 L645.4 602.2 L643.7 601.6 L642.1 601 L642 600.9 L640.7 600.1 L639.8 599.4 L639.6 599.1 L638.6 598.1 L638.3 597.8 L637.5 597.1 L636.1 596.2 L636.1 596.2 L634.9 595.3 L633.3 594.6 L633.3 594.6 L631.8 593.8 L630.1 593.1 L628.8 592.8 L628.4 592.5 L626.8 591.8 L624.9 591.2 L623.8 590.9 L623.3 590.5 L621.6 589.9 L619.5 589.5 L616.7 589.4 L613.5 589.6 L611.3 589.8 L610.1 589.8 L606.8 590 L603.3 590.4 L602.9 590.4 L600.2 590.5 L597.2 590.5 L594.3 590.6 L591.1 590.7 L590.7 590.7 L587.8 590.9 L584.3 591.3 L582.6 591.4 L581 591.5 L577.9 591.6 L574.5 591.8 L573.5 592 L570.7 592.3 L567.8 592.9 L566.4 593.1 L562.6 593.8 L562.1 593.9 L558.1 594.5 L556.7 594.7 L554.4 594.9 L551.1 595.1 L548.2 595.2 L547.1 595.2 L545.2 595.2 L541.8 595.5 L538.9 595.9 L538 596 L534 596.6 L532.9 596.8 L529.8 597.3 L527.6 597.7 L524.4 598.8 L523 600.1 L522.6 601.3 L522.5 601.4 L522.1 602.8 L521.9 603.2 L521.6 604.1 L521.3 605.2 L521.2 605.5 L521.1 606.9 L521.1 606.9 L521.8 608.1 L522.2 608.4 L523.1 609 L524.4 609.8 L524.7 610 L525.7 610.7 L526.8 611.6 L526.9 611.7 L528 612.6 L528.8 613.2 L529.3 613.5 L530.6 614.4 L531.5 614.8 L532.1 615.2 L534 615.7 L536.2 616.1 L538.4 616.5 L540.5 616.9 L541 617.1 L542.2 617.6 L543.8 618.3 L544.7 618.8 L545.1 619.1 L546.6 619.9 L548.6 620.4 L551.1 620.6 L553.6 620.9 L555.9 621.2 Z M640.6 571.4 L640.7 571.4 L642.3 572.1 L645.1 572.2 L646.6 572 L649.4 571.4 L651.1 571 L654.6 569.9 L655.8 569.5 L658 568.8 L661.2 567.7 L663.2 567 L664.5 566.6 L667.8 565.5 L670.5 564.6 L671.2 564.4 L674.3 563.2 L676.9 562.1 L679.1 560.9 L680.9 559.6 L682.7 558.4 L684.9 557.2 L687.3 556 L689.3 554.8 L690.7 553.5 L690.7 553.5 L691.5 552.2 L692 551.2 L692 550.8 L692.7 549.5 L692.8 549.2 L691.5 548.3 L689.8 547.8 L689.5 547.8 L687.4 547.3 L685.2 547 L682.5 546.8 L680.3 547 L679.2 547.1 L675 547.8 L674.7 547.9 L671.4 549 L668.9 550.2 L666.3 551.3 L664.4 552 L663.2 552.4 L660.5 553.6 L658.1 554.8 L655.6 556 L653.1 557.1 L650.5 558.3 L648.1 559.5 L646 560.7 L644.6 562 L643.7 563.3 L643.6 563.4 L643.3 564.7 L643.3 565.2 L643.1 566 L642.9 567 L642.7 567.4 L641.8 568.7 L641.1 569.6 L640.8 570 Z" fill="none" stroke="#3cd2e6" stroke-width="1.0" stroke-linejoin="round" stroke-dasharray="3.2 1.3"/>
<path d="M552.2 618.1 L552.6 618.2 L554.7 618.6 L557 619 L559.3 619.3 L561.7 619.6 L564.2 619.8 L566.9 619.9 L569.7 619.9 L572.6 619.9 L572.7 619.9 L575.4 620 L578.2 620.1 L581 620.1 L584.1 620 L587.3 619.9 L587.4 619.9 L590.2 619.8 L593.2 619.8 L596.2 619.8 L599.2 619.7 L600.2 619.6 L602.4 619.5 L605.9 619.2 L607.9 618.9 L609.8 618.7 L613.6 618.1 L614.1 618.1 L617.3 617.7 L621 617.3 L621 617.3 L624.7 616.8 L627.4 616.4 L628.8 616.2 L632.3 615.5 L633.6 615.1 L636 614.4 L639.1 613.3 L641.4 612.1 L642.9 610.8 L644 609.5 L644.1 609.4 L644.7 608.2 L644.5 607.5 L644.7 606.8 L644.2 606.1 L643.8 605.3 L643.4 605 L642.1 604.1 L641.5 603.7 L640.7 603.3 L639.2 602.5 L638.8 602.1 L638.1 601.5 L637.1 600.5 L637.1 600.5 L636.3 599.3 L636 599 L635.3 598.2 L634.2 597.5 L634.1 597.3 L632.9 596.4 L631.5 595.8 L631.3 595.7 L629.7 595 L627.8 594.4 L625.8 593.9 L625.2 593.8 L623.8 593.4 L621.8 593 L619.6 592.5 L617.4 592.2 L615 591.9 L612.5 591.7 L609.7 591.7 L606.5 591.8 L604.2 592 L603.3 592 L600.1 592.1 L597 592.2 L593.8 592.4 L593.5 592.4 L590.9 592.4 L587.8 592.5 L584.4 592.8 L583.3 592.9 L581.1 593 L577.9 593.2 L574.7 593.3 L573.8 593.4 L571.2 593.7 L567.5 594.3 L567.1 594.3 L562.7 595.1 L562.4 595.2 L558.7 595.8 L556.6 596.1 L554.9 596.3 L551.4 596.6 L548.5 596.8 L548.2 596.8 L545.3 596.8 L542.2 596.9 L538.7 597.3 L538.5 597.3 L534.1 598.3 L533.5 598.5 L531 599.4 L529.9 600.5 L529.7 600.7 L529.6 602.1 L529.6 602.2 L529.4 603.4 L529.2 604 L528.9 604.8 L528.9 605.8 L528.9 606.2 L529.5 607.1 L530 607.7 L530.4 608.1 L531.5 609.1 L531.8 609.3 L532.7 610 L533.6 610.8 L533.8 611 L534.9 612 L535.3 612.4 L536.1 612.9 L537.8 613.6 L539.9 614.1 L540.9 614.3 L542 614.5 L543.9 615.1 L545.7 615.7 L547.5 616.3 L547.5 616.3 L549 617 L550.7 617.7 Z" fill="none" stroke="#5adcbe" stroke-width="1.0" stroke-linejoin="round" stroke-dasharray="3.2 1.3"/>
<path d="M561.2 617.5 L562.3 617.7 L564.6 618 L567 618.3 L569.6 618.4 L571.9 618.5 L572.4 618.5 L575.1 618.6 L577.9 618.7 L580.7 618.7 L583.7 618.6 L586.8 618.5 L587.8 618.5 L589.8 618.5 L592.9 618.4 L596.2 618.2 L598.2 618 L599.4 618 L602.7 617.7 L606.2 617.4 L606.5 617.4 L610 616.9 L612.8 616.5 L613.9 616.4 L618 615.7 L618.5 615.7 L622.7 614.8 L623.1 614.7 L626.4 613.6 L629.1 612.4 L631.5 611.2 L633.9 610 L636 608.8 L637.4 607.5 L637.5 606.6 L637.6 606.2 L636.9 605.3 L636.5 604.7 L636 604.2 L635.2 603.1 L635.2 603.1 L634.6 601.8 L634.5 601.7 L634 600.6 L633.7 600.2 L633.2 599.4 L632.4 598.7 L632.1 598.4 L630.9 597.5 L630.1 597.1 L629.5 596.7 L627.8 596 L625.9 595.5 L624.3 595.2 L623.8 595 L621.8 594.5 L619.7 594.1 L617.4 593.8 L615.2 593.4 L612.8 593.1 L610.2 592.9 L607.4 592.9 L604.3 593 L602 593.2 L601.1 593.2 L597.9 593.3 L594.7 593.5 L592.1 593.7 L591.5 593.7 L588.4 593.8 L585 594 L582.9 594.2 L581.6 594.4 L578.1 594.6 L574.8 594.9 L574.7 594.9 L571.4 595.2 L567.7 595.7 L567.5 595.7 L563.2 596.5 L562.5 596.6 L559 597.2 L556.8 597.5 L555.2 597.7 L551.4 598.2 L550.2 598.3 L547.7 598.6 L544.2 599 L543.1 599.1 L539.3 600.1 L537.9 601.4 L537 602.7 L536.9 603 L536.2 604 L536.1 605 L536.3 605.5 L536.9 606.2 L538.3 607 L538.3 607 L539.5 607.9 L540 608.6 L540.3 609 L540.9 610.1 L541 610.3 L542.1 611.3 L542.8 611.6 L543.6 612 L545.3 612.7 L547.1 613.3 L547.6 613.5 L548.7 614 L550.3 614.7 L551.9 615.3 L552.1 615.3 L553.7 616 L555.6 616.6 L557.7 617 L560 617.3 Z" fill="none" stroke="#82e696" stroke-width="1.0" stroke-linejoin="round" stroke-dasharray="3.2 1.3"/>
<path d="M564.4 616.4 L564.6 616.4 L566.9 616.7 L569.3 617 L571.9 617.2 L573.6 617.2 L574.6 617.3 L577.3 617.4 L580 617.5 L582.9 617.5 L585.9 617.4 L589 617.3 L590 617.3 L592 617.2 L595.3 617.1 L598.8 616.7 L598.9 616.7 L602.4 616.3 L605.6 615.9 L606.3 615.8 L610.5 615.1 L611.1 615 L615 614.2 L615.9 614 L620 613 L620.2 612.9 L623.4 611.9 L626.1 610.7 L628.5 609.5 L630.5 608.3 L631.7 607 L631.7 606.6 L632.1 605.7 L631.9 604.9 L632 604.3 L631.7 603.4 L631.7 602.8 L631.5 602 L631.3 601.4 L630.9 600.7 L630.3 599.9 L630 599.6 L628.9 598.6 L628.5 598.3 L627.6 597.7 L626 597 L624.2 596.6 L624 596.5 L622.1 595.9 L620.1 595.5 L617.9 595.1 L615.6 594.8 L613.3 594.4 L610.9 594.2 L608.4 594 L605.6 593.9 L602.5 594 L599.1 594.2 L598.8 594.3 L595.9 594.4 L592.6 594.6 L589.8 594.9 L589.3 594.9 L585.9 595.1 L582.3 595.6 L582.1 595.6 L578.5 596 L575.7 596.4 L574.7 596.5 L570.9 597 L569.4 597.2 L567 597.6 L563.8 598.1 L562.7 598.3 L558.8 599.1 L558.3 599.2 L554.1 599.9 L553.5 600 L549.3 601 L547.1 602.2 L546.2 603.5 L546.4 604.1 L546.6 605 L547 605.4 L547.1 606.4 L547.2 606.9 L547 607.8 L547.1 608.5 L547.2 609.2 L547.7 609.8 L548.9 610.7 L549.2 610.8 L550.4 611.5 L551.9 612.3 L552.3 612.5 L553.2 613.1 L554.7 613.9 L555.4 614.2 L556.3 614.6 L558 615.2 L560 615.7 L562.3 616.1 Z" fill="none" stroke="#b9e45f" stroke-width="1.0" stroke-linejoin="round" stroke-dasharray="3.2 1.3"/>
<path d="M564.8 615 L566.5 615.3 L568.9 615.6 L571.3 615.9 L573.9 616.1 L576.6 616.2 L578.6 616.3 L579.3 616.3 L582 616.4 L584.9 616.4 L587.9 616.4 L590.9 616.3 L592.8 616.1 L594.1 616.1 L597.5 615.8 L600.6 615.4 L601.3 615.3 L605.4 614.7 L606.2 614.5 L610.1 613.7 L610.8 613.6 L614.9 612.5 L615.5 612.3 L618.5 611.4 L621.4 610.3 L623.9 609.1 L626 607.9 L627.5 606.7 L628.2 605.3 L628.2 605.3 L628.5 603.9 L628.5 603.6 L628.4 602.5 L628.3 602.1 L627.8 601.1 L627.6 600.9 L626.7 599.8 L626.4 599.6 L625.6 598.8 L624.1 598.1 L623.6 597.9 L622.4 597.4 L620.5 596.9 L618.4 596.4 L616.1 596 L613.8 595.7 L611.5 595.4 L611 595.4 L609.2 595.1 L606.6 594.9 L606.2 594.9 L603.8 594.9 L600.7 595 L597.4 595.2 L595.6 595.4 L594 595.5 L590.6 595.8 L587.7 596.1 L587 596.1 L583.3 596.6 L581.2 596.9 L579.3 597.2 L575.7 597.8 L575 597.9 L570.7 598.7 L570.7 598.7 L566.2 599.6 L565.8 599.7 L561.7 600.7 L560.2 601.3 L558.6 601.9 L556.8 603.1 L556.8 603.2 L555.6 604.4 L554.6 605.7 L554.4 606.1 L553.6 607 L553.2 608.3 L553.2 608.4 L554 609.5 L554.3 609.9 L555.1 610.5 L556.3 611.4 L556.3 611.5 L557.4 612.4 L558.5 613.1 L558.8 613.2 L560.3 614 L562.2 614.5 L564.3 615 Z" fill="none" stroke="#ebe146" stroke-width="1.0" stroke-linejoin="round" stroke-dasharray="3.2 1.3"/>
<path d="M566.1 613.7 L566.4 613.8 L568.5 614.2 L570.8 614.6 L573.2 614.8 L575.8 615 L578.4 615.2 L581.1 615.3 L583.4 615.3 L584 615.3 L586.8 615.3 L589.8 615.3 L592.9 615.2 L595.5 615 L596.2 614.9 L599.8 614.6 L602.3 614.2 L603.9 613.9 L607.3 613.2 L608.7 612.9 L611.4 612.2 L614.7 611.1 L615.2 610.9 L617.7 610 L620.2 608.8 L622.4 607.6 L624.1 606.3 L624.4 605.9 L625 605 L625.2 603.8 L625.2 603.6 L624.9 602.4 L624.8 602.2 L624.2 601.2 L623.9 600.7 L623.3 600.1 L622.1 599.2 L622.1 599.2 L620.6 598.4 L618.7 597.8 L616.7 597.4 L615.4 597.2 L614.5 597 L612.2 596.6 L609.9 596.3 L607.6 596 L605 595.8 L602 595.9 L601.4 595.9 L598.8 596 L595.5 596.3 L592.8 596.5 L591.9 596.6 L588.3 597 L586 597.3 L584.4 597.6 L580.5 598.2 L580.2 598.3 L575.7 599.2 L575.6 599.2 L571.1 600.2 L570.8 600.3 L567.1 601.2 L564.2 602.4 L562.2 603.6 L560.7 604.8 L559.6 606.1 L559.4 606.5 L558.9 607.5 L558.9 608.4 L559 608.9 L559.4 609.7 L559.8 610.4 L560.2 610.8 L561.4 611.8 L561.5 611.9 L562.7 612.7 L564.4 613.3 Z" fill="none" stroke="#fabe32" stroke-width="1.0" stroke-linejoin="round" stroke-dasharray="3.2 1.3"/>
<path d="M568.3 612.5 L568.6 612.6 L570.6 613.1 L572.9 613.4 L575.2 613.7 L577.7 614 L580.3 614.1 L583 614.2 L585.9 614.2 L587 614.2 L588.9 614.2 L591.9 614.2 L595 614 L597.6 613.8 L598.5 613.7 L602.3 613.2 L603.8 612.9 L607 612.2 L608.2 611.9 L611.7 610.8 L614.4 609.8 L614.5 609.7 L617.1 608.5 L619.3 607.3 L620.2 606.6 L620.8 606.1 L621.6 604.7 L621.6 604.2 L621.5 603.3 L621.3 602.8 L620.9 601.9 L620.7 601.5 L619.8 600.4 L619.8 600.4 L618.6 599.5 L616.9 598.8 L616.2 598.6 L615 598.3 L612.9 597.8 L610.6 597.5 L608.3 597.2 L605.8 596.9 L603.1 596.8 L600.1 596.9 L598.2 597 L596.8 597.1 L593.4 597.4 L590.6 597.7 L589.7 597.9 L585.7 598.5 L584.8 598.6 L581.3 599.3 L579.9 599.6 L576.4 600.4 L575.5 600.6 L571.6 601.6 L570.4 602.1 L568.5 602.7 L566.3 604 L565.3 604.9 L564.9 605.2 L563.9 606.5 L563.6 607.4 L563.4 607.9 L563.5 609.1 L563.5 609.3 L564 610.3 L564.5 610.8 L565.2 611.3 L566.7 612.1 Z" fill="none" stroke="#fa8c28" stroke-width="1.0" stroke-linejoin="round" stroke-dasharray="3.2 1.3"/>
<path d="M571.2 611.4 L572.9 611.8 L575.1 612.2 L577.4 612.6 L579.8 612.8 L582.4 613 L585.2 613.1 L588.1 613.1 L589.3 613 L591.1 613 L594.2 612.9 L597.5 612.6 L598.9 612.5 L601.2 612.2 L604.6 611.6 L605.7 611.3 L608.6 610.6 L611.6 609.4 L614.2 608.3 L616.2 607 L617.5 605.8 L617.8 604.7 L617.9 604.4 L617.6 603.2 L617.6 603 L617.1 601.9 L616.9 601.5 L616.3 600.7 L614.9 599.9 L614.9 599.9 L613.2 599.3 L611.1 598.8 L608.8 598.5 L606.4 598.2 L603.9 598 L601.1 597.9 L598 598 L595.9 598.2 L594.7 598.3 L591.1 598.7 L589 599 L587 599.3 L583.8 599.9 L582.5 600.2 L579.4 600.9 L577 601.7 L575.7 602 L572.6 603.1 L570.3 604.3 L568.7 605.6 L568 606.6 L567.7 606.9 L567.2 608.2 L567.3 608.6 L567.8 609.7 L567.9 609.8 L569.2 610.7 L570.9 611.3 Z" fill="none" stroke="#f55a23" stroke-width="1.0" stroke-linejoin="round" stroke-dasharray="3.2 1.3"/>
<path d="M574.7 610.3 L575.3 610.5 L577.4 610.9 L579.7 611.3 L582.1 611.6 L584.8 611.7 L587.6 611.7 L589.9 611.7 L590.6 611.7 L593.7 611.6 L597 611.3 L599.1 611.1 L600.7 610.9 L604.4 610.2 L605.4 609.9 L608.1 609.1 L610.8 608 L612.6 606.7 L613.4 605.5 L613.5 605.4 L613.6 604 L613.5 603.8 L613.3 602.6 L613.2 602.4 L612.4 601.3 L612.1 601.1 L610.9 600.5 L609 600 L606.7 599.6 L604.2 599.4 L601.6 599.3 L598.7 599.3 L595.6 599.4 L594.5 599.5 L592.2 599.7 L588.3 600.2 L587.9 600.3 L583.7 601.1 L583.1 601.3 L579.3 602.3 L577 603.2 L576.4 603.5 L574 604.6 L573 605.4 L572.3 605.9 L571.3 607.2 L571.3 608 L571.5 608.6 L572 609.2 L573.4 610 Z" fill="none" stroke="#e62d1e" stroke-width="1.0" stroke-linejoin="round" stroke-dasharray="3.2 1.3"/>
<path d="M579.1 609.3 L580 609.5 L582.2 609.9 L584.7 610.1 L587.5 610.2 L588.8 610.2 L590.5 610.2 L593.6 610 L597 609.7 L598.1 609.6 L601.1 609.1 L603 608.7 L606 607.5 L607.7 606.3 L608.3 605.1 L608.4 604.9 L608.7 603.6 L608.6 603.4 L607.9 602.1 L607.8 602.1 L606.3 601.4 L604.1 601.1 L601.5 600.9 L598.7 600.9 L595.8 600.8 L594.6 600.9 L592.7 601 L589 601.4 L587.5 601.7 L584.4 602.4 L583.2 602.7 L580 603.8 L577.7 605 L576.2 606.2 L575.9 607 L575.9 607.6 L576.4 608.3 L578 609 Z" fill="none" stroke="#c81919" stroke-width="1.0" stroke-linejoin="round" stroke-dasharray="3.2 1.3"/>
<path d="M639.7 622 L648 622 L653.4 621.2 L661.1 620.9 L667.7 620.5 L674.8 621.3 L681 620.8 L686.3 621.8 L692.2 621.3 L699.2 620.4 L705.2 620.7 L711.9 621.1 L718.6 620.4 L724 621 L730.6 620.5 L737.2 622.1 L743.7 622.9 L751.7 623.3 L759.2 622.7 L769 625.5 L763.8 630.8 L757.2 633 L751.2 636 L745.5 639.8 L740.7 643.2 L730.1 649.6 L723.4 650.7 L717.6 652.9 L710.6 654.8 L703.9 655.1 L697.4 656.2 L690.4 656.9 L682.7 657.8 L675.1 659.1 L668.1 658.6 L662.4 660 L653.7 665 L660 667.9 L665.7 670.6 L671.2 678.1 L677.5 683 L685.5 684 L691.7 682.9 L699 682 L704.9 681.1 L711.6 681 L718.3 681 L726.9 681.7 L734.2 682.4 L742.3 682.1 L749.2 682.6 L756.9 683.6 L763.6 684.2 L770.3 684.8 L777 686 L784.9 686.2 L792.2 687.3 L798.9 689.1 L806.2 689.2 L814.3 689.6 L822.8 691.2 L829.9 693.2 L838.9 692.8 L846 693.9 L854.5 693.9 L861.6 694.7 L869.6 694.7 L877.7 693.9 L883.3 693.1 L889.9 695.1 L895.8 695.1 L903.2 694.4 L909 694.5 L914.9 694.3 L922 693.3 L929.1 691.2 L935.7 689.8 L941.9 688.9 L948.6 687.3 L942.8 686.2 L936.4 685.4 L931.3 684.6 L925.8 683.9 L917.4 682.7 L913.8 682 L906.8 680.7 L901.8 680.7 L894.3 679.2 L887.6 678.2 L887.5 675.8 L879.8 671.8 L873 670.7 L864.1 670.3 L859.7 669.9 L852.7 670.4 L845.9 670.9 L838.1 671.5 L829.4 672.3 L822.6 673 L814.3 672.1 L805.7 672.3 L800.3 670.6 L793.5 669.9 L786.1 670.7 L778.9 669.2 L773 670 L766.2 669.6 L759.5 669.2 L753.4 667.9 L747.1 667.3 L741.8 664.7 L740 658.8 L742.7 654.9 L744.5 650.5 L753.9 645.8 L760.1 641.6 L765.3 639.2 L772.2 634.8 L780.7 630.5 L787.1 629.1 L794.7 629.2 L801.4 629.2 L807.4 628.7 L814.5 628.2 L820.3 628 L830.3 626.1 L824.2 623.6 L817.1 621.3 L810.1 619.8 L808.2 614.1 L797.7 615.2 L787.4 619.5 L780.4 618.9 L775.3 619.1 L767.8 618.1 L760.1 618.3 L753.9 618.4 L746.3 617.5 L740.5 615.9 L733.1 615 L725.7 614.8 L719.2 613.4 L712.3 613.1 L705.4 611.4 L699.4 609.9 L694 609.4 L688.8 608.5 L681.6 606.3 L674.3 604.9 L666.8 604.2 L661.1 601.4 L654 600.6 L647.8 598.2 L640.2 596.6" fill="none" stroke="#2626b4" stroke-width="1.1" stroke-dasharray="3.2 1.2" stroke-linejoin="round"/>
<path d="M888.9 633.4 L896.4 637.2 L903.9 641.9 L909.6 641.9 L915.3 641.8 L922.3 641.3 L928 642.5 L936.3 639.1 L945.5 636.2 L948.5 625.3 L955.3 621.5 L961.2 618.1 L968.3 613.1 L974.9 608.3 L982.3 604 L972 602.6 L964.1 606.7 L957.1 609.1 L950.6 611.8 L942.8 614.7 L936.2 618.4 L927.7 621.2 L921.3 624.1 L916.1 626 L909.3 627.8 L903.2 630.2 L895.9 632.2 Z" fill="none" stroke="#2626b4" stroke-width="1.1" stroke-dasharray="3.2 1.2" stroke-linejoin="round"/>
<line x1="440" y1="68" x2="440" y2="522.5" stroke="#222" stroke-width="1.4"/>
<line x1="213.5" y1="475.6" x2="487.5" y2="325.1" stroke="#111" stroke-width="1.6" stroke-dasharray="14.5 8.5"/>
<line x1="420.8" y1="331.3" x2="1099.1" y2="392.3" stroke="#111" stroke-width="1.6" stroke-dasharray="12.5 7.8"/>
<line x1="425.8" y1="494.7" x2="699.8" y2="344.2" stroke="#111" stroke-width="1.6" stroke-dasharray="14.5 8.5"/>
<line x1="335.1" y1="378.4" x2="1013.4" y2="439.4" stroke="#111" stroke-width="1.6" stroke-dasharray="12.5 7.8"/>
<line x1="621.1" y1="512.2" x2="895.1" y2="361.7" stroke="#111" stroke-width="1.6" stroke-dasharray="14.5 8.5"/>
<line x1="256.1" y1="421.8" x2="934.4" y2="482.8" stroke="#111" stroke-width="1.6" stroke-dasharray="12.5 7.8"/>
<line x1="759.5" y1="524.7" x2="1033.5" y2="374.2" stroke="#111" stroke-width="1.6" stroke-dasharray="14.5 8.5"/>
<line x1="200.2" y1="452.5" x2="878.5" y2="513.5" stroke="#111" stroke-width="1.6" stroke-dasharray="12.5 7.8"/>
<line x1="452.1" y1="327.1" x2="844.3" y2="532.3" stroke="#111" stroke-width="1.7"/>
<line x1="384" y1="404" x2="384" y2="480" stroke="#3fa653" stroke-width="3" stroke-dasharray="12 6"/>
<line x1="682" y1="240" x2="682" y2="346" stroke="#4fc765" stroke-width="2" stroke-dasharray="14 5"/>
<line x1="791.5" y1="330" x2="791.5" y2="413" stroke="#3d5fd0" stroke-width="2" stroke-dasharray="11 6"/>
<line x1="931.6" y1="250" x2="931.6" y2="426" stroke="#3d5fd0" stroke-width="2.2" stroke-dasharray="11 6"/>
<line x1="655.6" y1="506" x2="655.6" y2="572" stroke="#3d5fd0" stroke-width="2" stroke-dasharray="10 6"/>
<ellipse cx="465" cy="337" rx="32" ry="18.5" fill="url(#gB)" transform="rotate(6 465 337)"/>
<ellipse cx="465" cy="337" rx="32" ry="18.5" fill="url(#shade)" transform="rotate(6 465 337)"/>
<ellipse cx="458" cy="331" rx="14" ry="5" fill="#7fb0f7" transform="rotate(8 458 331)" opacity="0.55"/>
<ellipse cx="594" cy="317" rx="4.6" ry="5.2" fill="#ea4a18"/>
<ellipse cx="594" cy="346" rx="3" ry="4.5" fill="#e4501c"/>
<path d="M590.5 500 C591.4 499 596.6 499 597.5 500 C598.4 501 596.6 504 596 506 C595.4 508 594.7 512 594 512 C593.3 512 592.6 508 592 506 C591.4 504 589.6 501 590.5 500 Z" fill="#e0481a"/>
<ellipse cx="594.8" cy="437.5" rx="10.5" ry="8" fill="url(#gR)"/>
<ellipse cx="594.8" cy="437.5" rx="10.5" ry="8" fill="url(#shade)"/>
<ellipse cx="594.6" cy="373.5" rx="13.5" ry="13" fill="url(#gR)"/>
<ellipse cx="594.6" cy="373.5" rx="13.5" ry="13" fill="url(#shade)"/>
<ellipse cx="595" cy="402.8" rx="29" ry="25.5" fill="url(#gR)"/>
<ellipse cx="595" cy="402.8" rx="29" ry="25.5" fill="url(#shade)"/>
<ellipse cx="577" cy="398" rx="8" ry="7" fill="#f25a22" opacity="0.7"/>
<path d="M371.6 413 C373.9 412.5 387.4 413.5 390.2 414.4 C392.9 415.4 389.8 417.7 388.2 418.7 C386.5 419.7 382.2 420.6 380.1 420.4 C378.1 420.2 377.3 418.8 375.9 417.6 C374.4 416.3 369.2 413.5 371.6 413 Z" fill="#3cb84e"/>
<path d="M380.1 344.6 C376.2 344.6 371.9 346.7 369.3 348 C366.6 349.4 365 351.1 364.4 352.9 C363.8 354.7 364.2 357 365.8 358.6 C367.5 360.3 371.1 362.1 374.4 362.9 C377.8 363.7 382.3 364 385.9 363.5 C389.4 363 393.7 361.7 395.9 360.1 C398.1 358.4 399.5 355.8 399 353.8 C398.6 351.8 396.2 349.6 393 348 C389.9 346.5 384.1 344.6 380.1 344.6 Z" fill="url(#gG2)"/>
<path d="M380.1 344.6 C376.2 344.6 371.9 346.7 369.3 348 C366.6 349.4 365 351.1 364.4 352.9 C363.8 354.7 364.2 357 365.8 358.6 C367.5 360.3 371.1 362.1 374.4 362.9 C377.8 363.7 382.3 364 385.9 363.5 C389.4 363 393.7 361.7 395.9 360.1 C398.1 358.4 399.5 355.8 399 353.8 C398.6 351.8 396.2 349.6 393 348 C389.9 346.5 384.1 344.6 380.1 344.6 Z" fill="url(#shade)"/>
<path d="M365.8 362.3 C361.3 363.7 356.5 366.2 353 368.6 C349.4 371.1 346.2 374.5 344.4 377.2 C342.5 380 341.5 382.6 341.8 385.2 C342.1 387.9 343.8 390.9 346.4 393.2 C349 395.6 353.1 397.7 357.3 399.5 C361.4 401.4 366.3 403.1 371.6 404.4 C376.8 405.7 383.5 407.3 388.7 407.3 C394 407.3 398.7 406.1 403 404.4 C407.3 402.7 411.8 399.9 414.5 397.3 C417.1 394.6 418.7 391.4 419.1 388.7 C419.4 385.9 418.5 383.3 416.8 380.7 C415.1 378 411.8 375.4 408.8 372.9 C405.8 370.5 401.4 367.5 398.7 365.8 C396.1 364 396.1 363.2 393 362.3 C389.9 361.5 384.7 360.6 380.1 360.6 C375.6 360.6 370.4 361 365.8 362.3 Z" fill="url(#gG2)"/>
<path d="M365.8 362.3 C361.3 363.7 356.5 366.2 353 368.6 C349.4 371.1 346.2 374.5 344.4 377.2 C342.5 380 341.5 382.6 341.8 385.2 C342.1 387.9 343.8 390.9 346.4 393.2 C349 395.6 353.1 397.7 357.3 399.5 C361.4 401.4 366.3 403.1 371.6 404.4 C376.8 405.7 383.5 407.3 388.7 407.3 C394 407.3 398.7 406.1 403 404.4 C407.3 402.7 411.8 399.9 414.5 397.3 C417.1 394.6 418.7 391.4 419.1 388.7 C419.4 385.9 418.5 383.3 416.8 380.7 C415.1 378 411.8 375.4 408.8 372.9 C405.8 370.5 401.4 367.5 398.7 365.8 C396.1 364 396.1 363.2 393 362.3 C389.9 361.5 384.7 360.6 380.1 360.6 C375.6 360.6 370.4 361 365.8 362.3 Z" fill="url(#shade)"/>
<path d="M365.8 481.7 C366.9 479.4 370.6 478.6 374.4 477.9 C378.2 477.3 385 477.1 388.7 477.9 C392.4 478.8 395.3 480.8 396.7 483.1 C398.2 485.4 397.7 489.3 397.3 491.7 C396.9 494.1 393.7 495 394.4 497.4 C395.2 499.8 400.1 503.1 401.6 506 C403.1 508.8 404.1 511.7 403.6 514.6 C403.1 517.4 401.2 520.5 398.7 523.1 C396.3 525.8 391.3 528.6 388.7 530.3 C386.1 532 384.5 532.4 383 533.2 C381.5 534 380.6 535.4 379.6 535.2 C378.5 534.9 379 533.7 376.7 531.7 C374.4 529.7 368.6 526 365.8 523.1 C363.1 520.3 361.1 517.4 360.1 514.6 C359.2 511.7 359.2 508.6 360.1 506 C361.1 503.4 364.5 501.2 365.8 498.8 C367.2 496.4 368.1 494.5 368.1 491.7 C368.1 488.8 364.8 483.9 365.8 481.7 Z" fill="url(#gG2)"/>
<path d="M365.8 481.7 C366.9 479.4 370.6 478.6 374.4 477.9 C378.2 477.3 385 477.1 388.7 477.9 C392.4 478.8 395.3 480.8 396.7 483.1 C398.2 485.4 397.7 489.3 397.3 491.7 C396.9 494.1 393.7 495 394.4 497.4 C395.2 499.8 400.1 503.1 401.6 506 C403.1 508.8 404.1 511.7 403.6 514.6 C403.1 517.4 401.2 520.5 398.7 523.1 C396.3 525.8 391.3 528.6 388.7 530.3 C386.1 532 384.5 532.4 383 533.2 C381.5 534 380.6 535.4 379.6 535.2 C378.5 534.9 379 533.7 376.7 531.7 C374.4 529.7 368.6 526 365.8 523.1 C363.1 520.3 361.1 517.4 360.1 514.6 C359.2 511.7 359.2 508.6 360.1 506 C361.1 503.4 364.5 501.2 365.8 498.8 C367.2 496.4 368.1 494.5 368.1 491.7 C368.1 488.8 364.8 483.9 365.8 481.7 Z" fill="url(#shade)"/>
<path d="M679.4 193.5 C683.5 193.1 686.6 195 689.5 197.5 C692.3 200 695 204.2 696.8 208.5 C698.6 212.9 700.2 218.9 700.1 223.6 C700 228.2 698.9 233 696.1 236.2 C693.3 239.5 688.1 242.5 683.4 242.9 C678.8 243.3 672.3 241.2 668.4 238.6 C664.5 235.9 661.6 231.1 660.1 226.9 C658.6 222.7 658.6 218 659.4 213.5 C660.2 209.1 661.7 203.5 665.1 200.2 C668.4 196.8 675.4 194 679.4 193.5 Z" fill="url(#gG)"/>
<path d="M679.4 193.5 C683.5 193.1 686.6 195 689.5 197.5 C692.3 200 695 204.2 696.8 208.5 C698.6 212.9 700.2 218.9 700.1 223.6 C700 228.2 698.9 233 696.1 236.2 C693.3 239.5 688.1 242.5 683.4 242.9 C678.8 243.3 672.3 241.2 668.4 238.6 C664.5 235.9 661.6 231.1 660.1 226.9 C658.6 222.7 658.6 218 659.4 213.5 C660.2 209.1 661.7 203.5 665.1 200.2 C668.4 196.8 675.4 194 679.4 193.5 Z" fill="url(#shade)"/>
<path d="M753.7 327.4 C753 325.2 757.6 320.9 758.6 317.3 C759.7 313.8 758.6 308.8 760 305.9 C761.5 303 765 302 767.2 300.2 C769.3 298.4 770.5 296.4 772.9 295 C775.3 293.7 778.9 292.8 781.5 292.2 C784.1 291.5 786.4 291.6 788.6 291 C790.9 290.5 793 288.4 794.9 288.7 C796.8 289.1 798.6 291.6 800.1 293 C801.5 294.5 802.1 296.4 803.5 297.3 C804.9 298.3 807.7 297.6 808.7 298.8 C809.6 300 809.8 303.2 809.2 304.5 C808.7 305.8 806.2 304.8 805.2 306.5 C804.3 308.1 804.4 312 803.5 314.5 C802.6 317 801.5 319.7 800.1 321.6 C798.6 323.5 796.6 324.4 794.9 325.9 C793.3 327.5 792.3 330.6 790.1 331.1 C787.8 331.6 784.3 328.8 781.5 328.8 C778.6 328.8 776 330.8 772.9 331.1 C769.8 331.3 766.1 330.8 762.9 330.2 C759.7 329.6 754.5 329.5 753.7 327.4 Z" fill="url(#gB2)"/>
<path d="M753.7 327.4 C753 325.2 757.6 320.9 758.6 317.3 C759.7 313.8 758.6 308.8 760 305.9 C761.5 303 765 302 767.2 300.2 C769.3 298.4 770.5 296.4 772.9 295 C775.3 293.7 778.9 292.8 781.5 292.2 C784.1 291.5 786.4 291.6 788.6 291 C790.9 290.5 793 288.4 794.9 288.7 C796.8 289.1 798.6 291.6 800.1 293 C801.5 294.5 802.1 296.4 803.5 297.3 C804.9 298.3 807.7 297.6 808.7 298.8 C809.6 300 809.8 303.2 809.2 304.5 C808.7 305.8 806.2 304.8 805.2 306.5 C804.3 308.1 804.4 312 803.5 314.5 C802.6 317 801.5 319.7 800.1 321.6 C798.6 323.5 796.6 324.4 794.9 325.9 C793.3 327.5 792.3 330.6 790.1 331.1 C787.8 331.6 784.3 328.8 781.5 328.8 C778.6 328.8 776 330.8 772.9 331.1 C769.8 331.3 766.1 330.8 762.9 330.2 C759.7 329.6 754.5 329.5 753.7 327.4 Z" fill="url(#shade)"/>
<path d="M920.2 195.8 C923 195 929.7 193.3 933.1 193.8 C936.4 194.3 938.1 196.2 940.2 198.7 C942.4 201.1 943.9 205.6 945.9 208.7 C947.9 211.8 951.4 213.9 952.2 217.3 C953.1 220.6 952.1 225.4 951.1 228.7 C950 232 948.2 234.9 945.9 237.3 C943.6 239.7 939.7 241.3 937.3 243 C935 244.7 934.5 245.6 931.6 247.3 C928.8 248.9 924 251.6 920.2 253 C916.4 254.4 911.8 255.9 908.7 255.9 C905.7 255.9 903 254.7 901.6 253 C900.2 251.3 899.7 248.5 900.2 245.9 C900.6 243.2 903.3 240.1 904.5 237.3 C905.7 234.4 906.6 232 907.3 228.7 C908 225.4 908 221.1 908.7 217.3 C909.5 213.4 910.4 208.9 911.6 205.8 C912.8 202.7 914.5 200.3 915.9 198.7 C917.3 197 917.3 196.6 920.2 195.8 Z" fill="url(#gB2)"/>
<path d="M920.2 195.8 C923 195 929.7 193.3 933.1 193.8 C936.4 194.3 938.1 196.2 940.2 198.7 C942.4 201.1 943.9 205.6 945.9 208.7 C947.9 211.8 951.4 213.9 952.2 217.3 C953.1 220.6 952.1 225.4 951.1 228.7 C950 232 948.2 234.9 945.9 237.3 C943.6 239.7 939.7 241.3 937.3 243 C935 244.7 934.5 245.6 931.6 247.3 C928.8 248.9 924 251.6 920.2 253 C916.4 254.4 911.8 255.9 908.7 255.9 C905.7 255.9 903 254.7 901.6 253 C900.2 251.3 899.7 248.5 900.2 245.9 C900.6 243.2 903.3 240.1 904.5 237.3 C905.7 234.4 906.6 232 907.3 228.7 C908 225.4 908 221.1 908.7 217.3 C909.5 213.4 910.4 208.9 911.6 205.8 C912.8 202.7 914.5 200.3 915.9 198.7 C917.3 197 917.3 196.6 920.2 195.8 Z" fill="url(#shade)"/>
<ellipse cx="643.4" cy="494.6" rx="20" ry="12" fill="url(#gG)" transform="rotate(-4 643.4 494.6)"/>
<ellipse cx="643.4" cy="494.6" rx="20" ry="12" fill="url(#shade)" transform="rotate(-4 643.4 494.6)"/>
<path d="M660.1 492.4 C660.1 489.8 670.9 479.8 673.4 474.6 C676 469.4 673.1 465.5 675.7 461.2 C678.3 456.9 684.2 451.5 689 448.5 C693.8 445.6 698.7 444.1 704.6 443.4 C710.5 442.7 718.3 445.6 724.6 444.5 C730.9 443.4 737.3 438.2 742.4 436.7 C747.6 435.2 752.8 434.9 755.8 435.6 C758.8 436.4 760.1 439.1 760.7 441.2 C761.3 443.2 761.4 445.1 759.1 447.9 C756.8 450.6 750.4 454.5 746.9 457.9 C743.4 461.2 741.7 464.9 738 467.9 C734.3 470.9 729.8 473.4 724.6 475.7 C719.4 477.9 712.8 479.5 706.8 481.2 C700.9 483 694.6 484.9 689 486.4 C683.5 487.8 678.3 489.1 673.4 490.1 C668.6 491.1 660.1 495 660.1 492.4 Z" fill="url(#gG)"/>
<path d="M660.1 492.4 C660.1 489.8 670.9 479.8 673.4 474.6 C676 469.4 673.1 465.5 675.7 461.2 C678.3 456.9 684.2 451.5 689 448.5 C693.8 445.6 698.7 444.1 704.6 443.4 C710.5 442.7 718.3 445.6 724.6 444.5 C730.9 443.4 737.3 438.2 742.4 436.7 C747.6 435.2 752.8 434.9 755.8 435.6 C758.8 436.4 760.1 439.1 760.7 441.2 C761.3 443.2 761.4 445.1 759.1 447.9 C756.8 450.6 750.4 454.5 746.9 457.9 C743.4 461.2 741.7 464.9 738 467.9 C734.3 470.9 729.8 473.4 724.6 475.7 C719.4 477.9 712.8 479.5 706.8 481.2 C700.9 483 694.6 484.9 689 486.4 C683.5 487.8 678.3 489.1 673.4 490.1 C668.6 491.1 660.1 495 660.1 492.4 Z" fill="url(#shade)"/>
<ellipse cx="863.7" cy="476.8" rx="12.3" ry="9" fill="url(#gG)"/>
<ellipse cx="863.7" cy="476.8" rx="12.3" ry="9" fill="url(#shade)"/>
<path d="M785.8 476.8 C787.1 474.7 790.4 473 792.5 473 C794.7 473 797.6 474.7 798.8 476.8 C799.9 478.9 797.2 482.5 799.6 485.7 C802.1 488.8 809.7 492.6 813.7 495.7 C817.7 498.9 821.6 501.8 823.7 504.6 C825.7 507.4 826.6 509.8 825.9 512.4 C825.2 515 822.4 518 819.2 520.2 C816.1 522.4 811.6 524.2 807 525.8 C802.4 527.3 796.6 529.3 791.4 529.5 C786.2 529.7 780.5 528.4 775.8 526.9 C771.2 525.3 766.2 522.6 763.6 520.2 C761 517.8 759.9 515.2 760.2 512.4 C760.6 509.6 762.8 507 765.8 503.5 C768.8 500 774.8 494.2 778.1 491.3 C781.3 488.3 783.9 488.1 785.2 485.7 C786.5 483.3 784.6 478.9 785.8 476.8 Z" fill="url(#gG)"/>
<path d="M785.8 476.8 C787.1 474.7 790.4 473 792.5 473 C794.7 473 797.6 474.7 798.8 476.8 C799.9 478.9 797.2 482.5 799.6 485.7 C802.1 488.8 809.7 492.6 813.7 495.7 C817.7 498.9 821.6 501.8 823.7 504.6 C825.7 507.4 826.6 509.8 825.9 512.4 C825.2 515 822.4 518 819.2 520.2 C816.1 522.4 811.6 524.2 807 525.8 C802.4 527.3 796.6 529.3 791.4 529.5 C786.2 529.7 780.5 528.4 775.8 526.9 C771.2 525.3 766.2 522.6 763.6 520.2 C761 517.8 759.9 515.2 760.2 512.4 C760.6 509.6 762.8 507 765.8 503.5 C768.8 500 774.8 494.2 778.1 491.3 C781.3 488.3 783.9 488.1 785.2 485.7 C786.5 483.3 784.6 478.9 785.8 476.8 Z" fill="url(#shade)"/>
<path d="M616.3 586.8 C617 583.2 619.7 579 623 576.1 C626.3 573.2 631.9 570.7 636.3 569.4 C640.8 568.1 645.5 567.2 649.7 568.1 C653.9 569 659 571.9 661.7 574.8 C664.5 577.6 665.8 581.9 666.3 585.4 C666.7 589 666.3 593 664.4 596.1 C662.5 599.2 658.8 602.1 655 604.1 C651.3 606.1 646.1 608 641.7 608.1 C637.2 608.3 632.1 606.7 628.3 604.9 C624.5 603.2 621 600.5 619 597.5 C617 594.4 615.6 590.3 616.3 586.8 Z" fill="url(#gB)"/>
<path d="M616.3 586.8 C617 583.2 619.7 579 623 576.1 C626.3 573.2 631.9 570.7 636.3 569.4 C640.8 568.1 645.5 567.2 649.7 568.1 C653.9 569 659 571.9 661.7 574.8 C664.5 577.6 665.8 581.9 666.3 585.4 C666.7 589 666.3 593 664.4 596.1 C662.5 599.2 658.8 602.1 655 604.1 C651.3 606.1 646.1 608 641.7 608.1 C637.2 608.3 632.1 606.7 628.3 604.9 C624.5 603.2 621 600.5 619 597.5 C617 594.4 615.6 590.3 616.3 586.8 Z" fill="url(#shade)"/>
<line x1="148" y1="269" x2="166" y2="270.5" stroke="#777" stroke-width="1.1"/>
<text class="sans" x="142.5" y="278.2" font-size="25.5" text-anchor="end" fill="#111">-0.04</text>
<line x1="148" y1="369.4" x2="166" y2="370.9" stroke="#777" stroke-width="1.1"/>
<text class="sans" x="142.5" y="378.7" font-size="25.5" text-anchor="end" fill="#111">-0.02</text>
<line x1="148" y1="469.9" x2="166" y2="471.4" stroke="#777" stroke-width="1.1"/>
<text class="sans" x="142.5" y="479.2" font-size="25.5" text-anchor="end" fill="#111">0</text>
<line x1="148" y1="570.4" x2="166" y2="571.9" stroke="#777" stroke-width="1.1"/>
<text class="sans" x="142.5" y="579.7" font-size="25.5" text-anchor="end" fill="#111">0.02</text>
<line x1="148" y1="670.8" x2="166" y2="672.3" stroke="#777" stroke-width="1.1"/>
<text class="sans" x="142.5" y="680.2" font-size="25.5" text-anchor="end" fill="#111">0.04</text>
<text class="sans" x="118" y="86" font-size="41" font-weight="bold" fill="#000">b</text>
<g transform="translate(71,485) rotate(-90)"><text class="ser it" font-size="60" fill="#000" x="0" y="0" textLength="75" lengthAdjust="spacingAndGlyphs">ħω</text><text class="ser" font-size="40" x="75" y="9" fill="#000">2</text></g>
<line x1="213.5" y1="677.3" x2="198.6" y2="685.5" stroke="#777" stroke-width="1.1"/>
<line x1="425.8" y1="696.4" x2="410.9" y2="704.5" stroke="#777" stroke-width="1.1"/>
<line x1="621.1" y1="713.9" x2="606.2" y2="722.1" stroke="#777" stroke-width="1.1"/>
<line x1="759.5" y1="726.4" x2="744.6" y2="734.6" stroke="#777" stroke-width="1.1"/>
<g transform="translate(139,705) rotate(5.14)"><text class="ser it" font-size="31.5" fill="#111" stroke="#111" stroke-width="0.25" textLength="57.5" lengthAdjust="spacingAndGlyphs">NW</text><text class="ser it" font-size="21" fill="#111" stroke="#111" stroke-width="0.2" x="56.5" y="4.6" textLength="17" lengthAdjust="spacingAndGlyphs">lh</text></g>
<g transform="translate(137.9,731.1) rotate(5.14)"><text class="ser" font-size="32" fill="#111" stroke="#111" stroke-width="0.25" textLength="110.5" lengthAdjust="spacingAndGlyphs">(1.63eV)</text></g>
<g transform="translate(351.3,724.1) rotate(5.14)"><text class="ser it" font-size="31.5" fill="#111" stroke="#111" stroke-width="0.25" textLength="56.5" lengthAdjust="spacingAndGlyphs">NW</text><text class="ser it" font-size="21" fill="#111" stroke="#111" stroke-width="0.2" x="55.5" y="4.6" textLength="22" lengthAdjust="spacingAndGlyphs">hh</text></g>
<g transform="translate(350.2,750.2) rotate(5.14)"><text class="ser" font-size="32" fill="#111" stroke="#111" stroke-width="0.25" textLength="110" lengthAdjust="spacingAndGlyphs">(1.61eV)</text></g>
<g transform="translate(548.1,741.6) rotate(5.14)"><text class="ser it" font-size="31.5" fill="#111" stroke="#111" stroke-width="0.25" textLength="59" lengthAdjust="spacingAndGlyphs">WW</text><text class="ser it" font-size="21" fill="#111" stroke="#111" stroke-width="0.2" x="58" y="4.6" textLength="17" lengthAdjust="spacingAndGlyphs">lh</text></g>
<g transform="translate(545.5,767.7) rotate(5.14)"><text class="ser" font-size="32" fill="#111" stroke="#111" stroke-width="0.25" textLength="110" lengthAdjust="spacingAndGlyphs">(1.59eV)</text></g>
<g transform="translate(686.5,754.1) rotate(5.14)"><text class="ser it" font-size="31.5" fill="#111" stroke="#111" stroke-width="0.25" textLength="59" lengthAdjust="spacingAndGlyphs">WW</text><text class="ser it" font-size="21" fill="#111" stroke="#111" stroke-width="0.2" x="58" y="4.6" textLength="22" lengthAdjust="spacingAndGlyphs">hh</text></g>
<g transform="translate(683.9,780.2) rotate(5.14)"><text class="ser" font-size="32" fill="#111" stroke="#111" stroke-width="0.25" textLength="110" lengthAdjust="spacingAndGlyphs">(1.57eV)</text></g>
<g transform="translate(473,810) rotate(5.14)"><text class="ser it" font-size="60" fill="#000" textLength="72" lengthAdjust="spacingAndGlyphs">ħω</text><text class="ser" font-size="40" x="73" y="9" fill="#000">3</text></g>
<line x1="1100.1" y1="594.1" x2="1112.1" y2="595.2" stroke="#777" stroke-width="1.1"/>
<line x1="1014.4" y1="641.2" x2="1026.3" y2="642.3" stroke="#777" stroke-width="1.1"/>
<line x1="935.4" y1="684.6" x2="947.4" y2="685.6" stroke="#777" stroke-width="1.1"/>
<line x1="879.5" y1="715.3" x2="891.5" y2="716.4" stroke="#777" stroke-width="1.1"/>
<g transform="translate(1128.6,610.4)"><text class="ser it" font-size="31.5" fill="#111" stroke="#111" stroke-width="0.25" textLength="51.5" lengthAdjust="spacingAndGlyphs">NW</text><text class="ser it" font-size="21" fill="#111" stroke="#111" stroke-width="0.2" x="53" y="1.8" textLength="17" lengthAdjust="spacingAndGlyphs">lh</text><text class="ser" font-size="32" fill="#111" stroke="#111" stroke-width="0.25" x="78.6" y="0" textLength="110" lengthAdjust="spacingAndGlyphs">(1.63eV)</text></g>
<g transform="translate(1040,657.6)"><text class="ser it" font-size="31.5" fill="#111" stroke="#111" stroke-width="0.25" textLength="51.5" lengthAdjust="spacingAndGlyphs">NW</text><text class="ser it" font-size="21" fill="#111" stroke="#111" stroke-width="0.2" x="53" y="1.8" textLength="22" lengthAdjust="spacingAndGlyphs">hh</text><text class="ser" font-size="32" fill="#111" stroke="#111" stroke-width="0.25" x="82.6" y="0" textLength="110" lengthAdjust="spacingAndGlyphs">(1.61eV)</text></g>
<g transform="translate(960.1,701.2)"><text class="ser it" font-size="31.5" fill="#111" stroke="#111" stroke-width="0.25" textLength="60.5" lengthAdjust="spacingAndGlyphs">WW</text><text class="ser it" font-size="21" fill="#111" stroke="#111" stroke-width="0.2" x="62" y="1.8" textLength="15.5" lengthAdjust="spacingAndGlyphs">lh</text><text class="ser" font-size="32" fill="#111" stroke="#111" stroke-width="0.25" x="82.4" y="0" textLength="110.5" lengthAdjust="spacingAndGlyphs">(1.59eV)</text></g>
<g transform="translate(900,731.2)"><text class="ser it" font-size="31.5" fill="#111" stroke="#111" stroke-width="0.25" textLength="60.5" lengthAdjust="spacingAndGlyphs">WW</text><text class="ser it" font-size="21" fill="#111" stroke="#111" stroke-width="0.2" x="62" y="1.8" textLength="21" lengthAdjust="spacingAndGlyphs">hh</text><text class="ser" font-size="32" fill="#111" stroke="#111" stroke-width="0.25" x="85.7" y="0" textLength="110" lengthAdjust="spacingAndGlyphs">(1.57eV)</text></g>
<g transform="translate(1164,727.7)"><text class="ser it" font-size="60" fill="#000" textLength="70" lengthAdjust="spacingAndGlyphs">ħω</text><text class="ser" font-size="40" x="71" y="9" fill="#000">1</text></g>
<text class="sans" x="943.6" y="42.7" font-size="37" fill="#111" stroke="#111" stroke-width="0.45" textLength="75" lengthAdjust="spacingAndGlyphs">(NW</text>
<text class="sans" x="1019.7" y="47.2" font-size="23" fill="#111" stroke="#111" stroke-width="0.35" textLength="26" lengthAdjust="spacingAndGlyphs">hh,</text>
<text class="sans" x="1049" y="42.7" font-size="37" fill="#111" stroke="#111" stroke-width="0.45" textLength="73" lengthAdjust="spacingAndGlyphs">WW</text>
<text class="sans" x="1123.9" y="47.2" font-size="23" fill="#111" stroke="#111" stroke-width="0.35" textLength="24" lengthAdjust="spacingAndGlyphs">hh</text>
<text class="sans" x="1150.6" y="42.7" font-size="37" fill="#111" stroke="#111" stroke-width="0.45" textLength="9.5" lengthAdjust="spacingAndGlyphs">)</text>
<text class="sans" x="770.7" y="90.8" font-size="37" fill="#111" stroke="#111" stroke-width="0.45" textLength="74.5" lengthAdjust="spacingAndGlyphs">(NW</text>
<text class="sans" x="846.2" y="95.3" font-size="23" fill="#111" stroke="#111" stroke-width="0.35" textLength="28" lengthAdjust="spacingAndGlyphs">hh,</text>
<text class="sans" x="881" y="90.8" font-size="37" fill="#111" stroke="#111" stroke-width="0.45" textLength="71" lengthAdjust="spacingAndGlyphs">WW</text>
<text class="sans" x="953.7" y="95.3" font-size="23" fill="#111" stroke="#111" stroke-width="0.35" textLength="13.5" lengthAdjust="spacingAndGlyphs">lh</text>
<text class="sans" x="970.3" y="90.8" font-size="37" fill="#111" stroke="#111" stroke-width="0.45" textLength="9.5" lengthAdjust="spacingAndGlyphs">)</text>
<line x1="1010.6" y1="64.5" x2="976" y2="138" stroke="#000" stroke-width="5.9"/>
<path d="M948.4 185.3 L955.5 125.5 Q962 136 972.5 136.5 L979 139.5 Q988 145 994.5 144 Z" fill="#000"/>
<line x1="859.8" y1="112.5" x2="807" y2="236" stroke="#000" stroke-width="5.9"/>
<path d="M786.6 279.6 L789.8 219 Q796 229 804.9 232 L811.3 234.9 Q820 238 828.6 236.3 Z" fill="#000"/>
<rect x="1193.5" y="210.3" width="41.0" height="286.9" fill="url(#cb)" stroke="#333" stroke-width="0.8"/>
<line x1="1193.5" y1="293.6" x2="1234.5" y2="293.6" stroke="#222" stroke-width="1.1"/>
<line x1="1193.5" y1="428.9" x2="1234.5" y2="428.9" stroke="#222" stroke-width="1.1"/>
<line x1="1193.5" y1="481.5" x2="1234.5" y2="481.5" stroke="#222" stroke-width="1.1"/>
<line x1="1193.5" y1="305.9" x2="1206.5" y2="305.9" stroke="#333" stroke-width="1.1"/>
<line x1="1193.5" y1="401.6" x2="1206.5" y2="401.6" stroke="#333" stroke-width="1.1"/>
<text class="sans" x="1185" y="219.8" font-size="25" text-anchor="end" fill="#111">1</text>
<text class="sans" x="1185" y="315.4" font-size="25" text-anchor="end" fill="#111">0.1</text>
<text class="sans" x="1185" y="411.1" font-size="25" text-anchor="end" fill="#111">0.01</text>
<text class="sans" x="1185" y="506.7" font-size="25" text-anchor="end" fill="#111">0.001</text>
<text class="sans" x="1238" y="303.1" font-size="26" fill="#111">0.13</text>
<text class="sans" x="1238" y="438.4" font-size="26" fill="#111">0.005</text>
<text class="sans" x="1238" y="491" font-size="26" fill="#111">0.0013</text>
</svg></body></html>
